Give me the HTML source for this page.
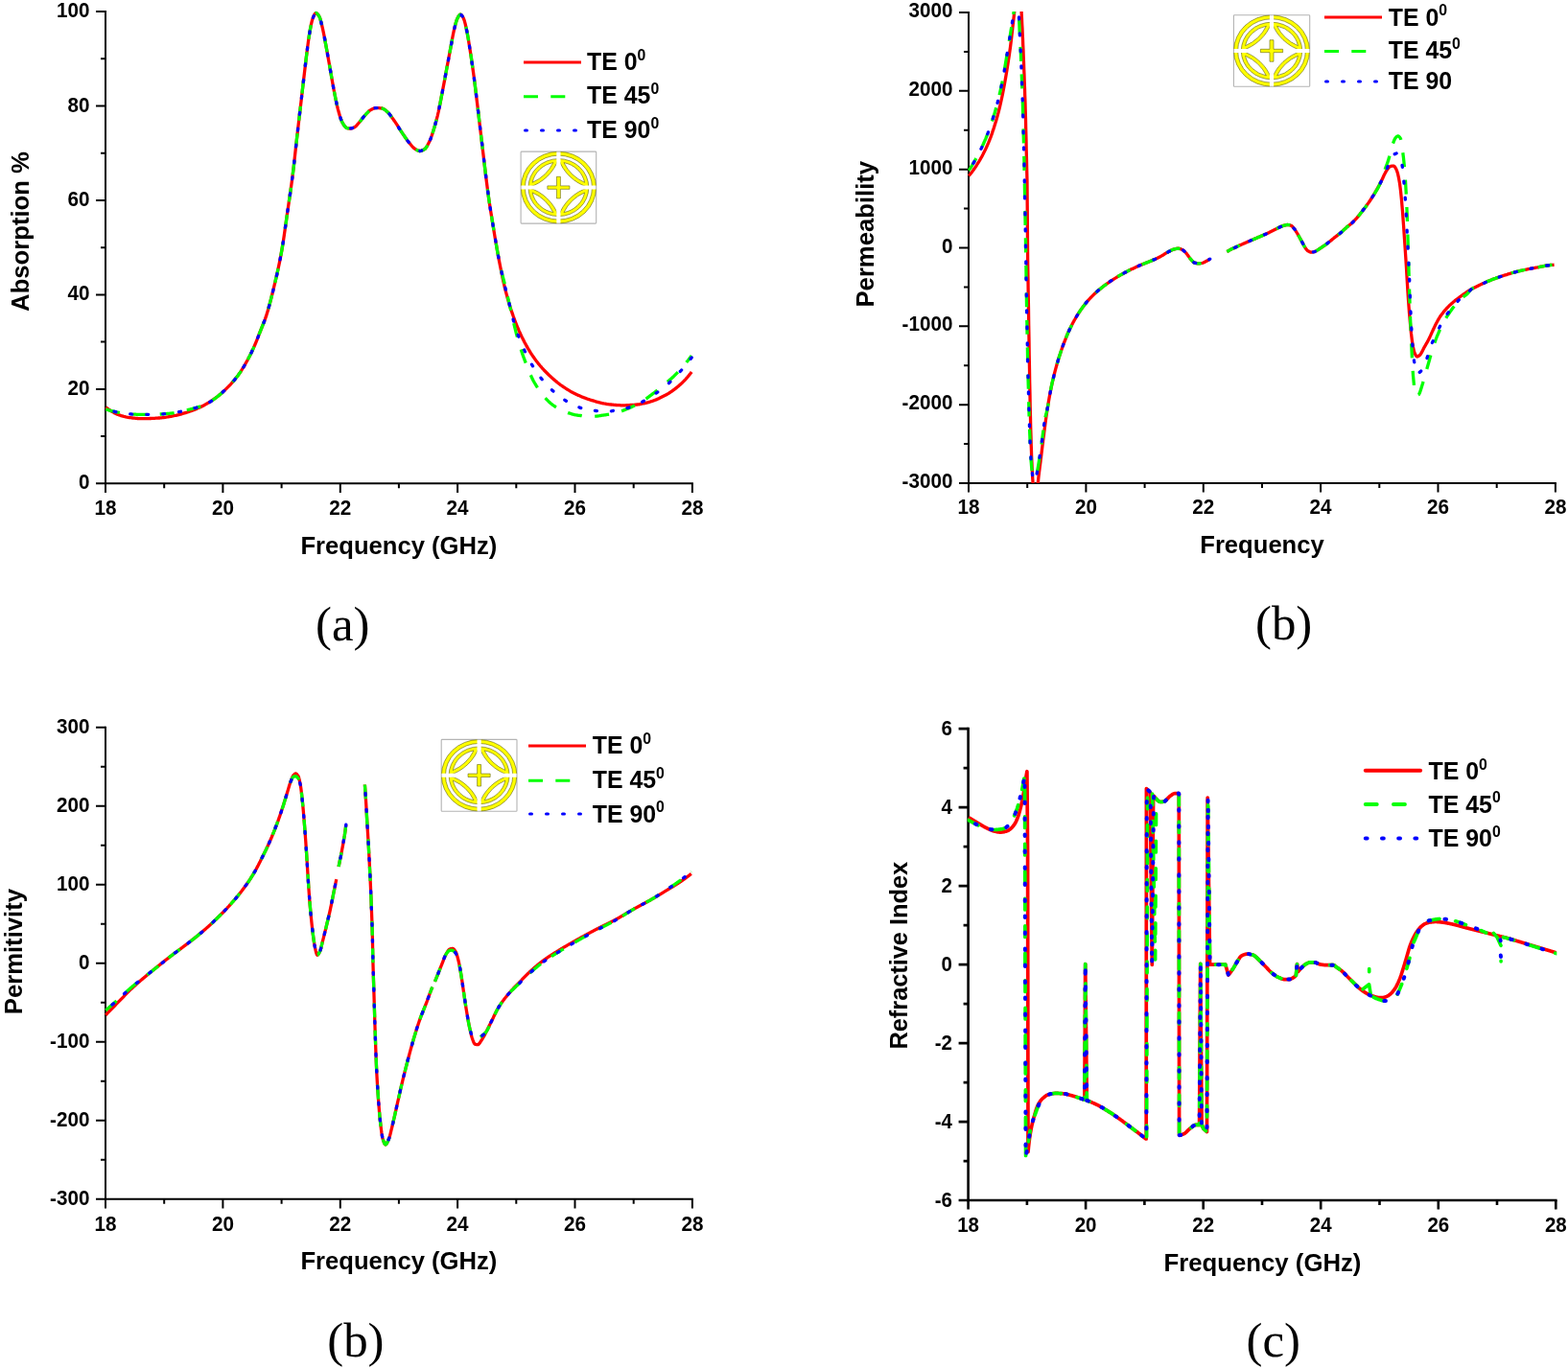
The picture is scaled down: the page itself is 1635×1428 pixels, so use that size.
<!DOCTYPE html>
<html lang="en"><head><meta charset="utf-8"><title>Figure</title>
<style>html,body{margin:0;padding:0;background:#fff;overflow:hidden}svg{display:block}</style></head><body>
<svg width="1635" height="1428" viewBox="0 0 1635 1428">
<rect width="1635" height="1428" fill="#fff"/>
<g id="panel-a">
<path d="M110 11.1V504.3H722.9" fill="none" stroke="#000" stroke-width="2.0"/>
<path d="M110 504.3v9.6M171.2 504.3v5M232.4 504.3v9.6M293.6 504.3v5M354.8 504.3v9.6M415.9 504.3v5M477.1 504.3v9.6M538.3 504.3v5M599.5 504.3v9.6M660.7 504.3v5M721.9 504.3v9.6M110 504.3h-10M110 455.1h-5M110 405.9h-10M110 356.6h-5M110 307.4h-10M110 258.2h-5M110 209h-10M110 159.8h-5M110 110.5h-10M110 61.3h-5M110 12.1h-10" fill="none" stroke="#000" stroke-width="2.0"/>
<g font-family='"Liberation Sans", Arial, Helvetica, sans-serif' font-weight="700" font-size="22.6" fill="#000">
<g text-anchor="middle">
<text transform="translate(110 536.5) scale(0.915 1)">18</text>
<text transform="translate(232.4 536.5) scale(0.915 1)">20</text>
<text transform="translate(354.8 536.5) scale(0.915 1)">22</text>
<text transform="translate(477.1 536.5) scale(0.915 1)">24</text>
<text transform="translate(599.5 536.5) scale(0.915 1)">26</text>
<text transform="translate(721.9 536.5) scale(0.915 1)">28</text>
</g><g text-anchor="end">
<text transform="translate(93.4 510.3) scale(0.915 1)">0</text>
<text transform="translate(93.4 411.9) scale(0.915 1)">20</text>
<text transform="translate(93.4 313.4) scale(0.915 1)">40</text>
<text transform="translate(93.4 215) scale(0.915 1)">60</text>
<text transform="translate(93.4 116.5) scale(0.915 1)">80</text>
<text transform="translate(93.4 18.1) scale(0.915 1)">100</text>
</g></g>
<g font-family='"Liberation Sans", Arial, Helvetica, sans-serif' font-weight="700" fill="#000" text-anchor="middle">
<text transform="translate(415.9 577.5) scale(0.985 1)" font-size="26">Frequency (GHz)</text>
<text transform="translate(30.1 241.5) rotate(-90) scale(0.965 1)" font-size="26.6">Absorption %</text>
</g>
<text transform="translate(357.3 667.7) scale(1.014 1)" font-family='"Liberation Serif", "Times New Roman", serif' font-size="50.2" text-anchor="middle" fill="#000">(a)</text>
<path d="M110.3 424.7L111.3 425.5L112.3 426.2L113.3 427L114.3 427.7L115.3 428.4L116.3 429L117.3 429.6L118.3 430.2L119.3 430.8L120.3 431.3L121.3 431.7L122.3 432.1L123.3 432.5L124.3 432.9L125.3 433.2L126.3 433.6L127.3 433.9L128.3 434.2L129.3 434.5L130.3 434.7L131.3 435L132.3 435.2L133.3 435.3L134.3 435.5L135.3 435.6L136.3 435.7L137.3 435.9L138.3 436L139.3 436.1L140.3 436.2L141.3 436.3L142.3 436.4L143.3 436.5L144.3 436.6L145.3 436.6L146.3 436.7L147.3 436.7L148.3 436.7L149.3 436.7L150.3 436.7L151.3 436.7L152.3 436.7L153.3 436.6L154.3 436.6L155.3 436.6L156.3 436.5L157.3 436.5L158.3 436.4L159.3 436.4L160.3 436.3L161.3 436.3L162.3 436.2L163.3 436.2L164.3 436.1L165.3 436L166.3 436L167.3 435.9L168.3 435.8L169.3 435.7L170.3 435.6L171.3 435.5L172.3 435.3L173.3 435.2L174.3 435L175.3 434.8L176.3 434.6L177.3 434.5L178.3 434.3L179.3 434.1L180.3 433.9L181.3 433.7L182.3 433.5L183.3 433.3L184.3 433.1L185.3 432.8L186.3 432.6L187.3 432.3L188.3 432.1L189.3 431.8L190.3 431.5L191.3 431.2L192.3 430.9L193.3 430.6L194.3 430.3L195.3 430L196.3 429.6L197.3 429.3L198.3 428.9L199.3 428.6L200.3 428.2L201.3 427.9L202.3 427.5L203.3 427.1L204.3 426.7L205.3 426.2L206.3 425.8L207.3 425.3L208.3 424.9L209.3 424.4L210.3 423.9L211.3 423.4L212.3 422.9L213.3 422.4L214.3 421.8L215.3 421.3L216.3 420.7L217.3 420.1L218.3 419.5L219.3 418.9L220.3 418.2L221.3 417.6L222.3 416.9L223.3 416.2L224.3 415.5L225.3 414.7L226.3 414L227.3 413.2L228.3 412.4L229.3 411.6L230.3 410.8L231.3 409.9L232.3 409L233.3 408.1L234.3 407.2L235.3 406.2L236.3 405.2L237.3 404.2L238.3 403.2L239.3 402.1L240.3 401.1L241.3 400L242.3 398.8L243.3 397.7L244.3 396.5L245.3 395.3L246.3 394L247.3 392.7L248.3 391.4L249.3 390L250.3 388.6L251.3 387.1L252.3 385.5L253.3 383.9L254.3 382.3L255.3 380.6L256.3 378.8L257.3 377L258.3 375.2L259.3 373.3L260.3 371.4L261.3 369.4L262.3 367.4L263.3 365.2L264.3 363.1L265.3 360.8L266.3 358.5L267.3 356.1L268.3 353.6L269.3 351L270.3 348.4L271.3 345.8L272.3 343.3L273.3 340.8L274.3 338.4L275.3 336L276.3 333.3L277.3 330.4L278.3 327.2L279.3 323.9L280.3 320.4L281.3 316.7L282.3 312.9L283.3 309L284.3 305L285.3 300.9L286.3 296.7L287.3 292.5L288.3 288.2L289.3 283.8L290.3 279.2L291.3 274.4L292.3 269.4L293.3 264.1L294.3 258.4L295.3 252.2L296.3 245.5L297.3 238.5L298.3 231.4L299.3 224.3L300.3 217.4L301.3 210.6L302.3 203.7L303.3 196.7L304.3 189.5L305.3 181.8L306.3 173.5L307.3 164.4L308.3 155.3L309.3 146.4L310.3 137.6L311.3 128.9L312.3 120.2L313.3 111.7L314.3 103.1L315.3 94.4L316.3 85.8L317.3 77.2L318.3 68.7L319.3 60.3L320.3 52.3L321.3 44.6L322.3 37.4L323.3 31.4L324.3 26.2L325.3 21.8L326.3 18.7L327.3 16.3L328.3 14.4L329.3 13.5L330.3 13.8L331.3 14.8L332.3 16.2L333.3 18L334.3 21.1L335.3 25L336.3 29.2L337.3 33.8L338.3 38.9L339.3 44.4L340.3 49.8L341.3 55.3L342.3 60.9L343.3 66.5L344.3 72.2L345.3 78L346.3 83.8L347.3 89.4L348.3 94.7L349.3 99.8L350.3 104.8L351.3 109.5L352.3 113.6L353.3 117.3L354.3 120.7L355.3 123.8L356.3 126.4L357.3 128.3L358.3 130L359.3 131.5L360.3 132.6L361.3 133.3L362.3 133.6L363.3 133.8L364.3 134L365.3 134L366.3 133.9L367.3 133.6L368.3 133.3L369.3 132.9L370.3 132.3L371.3 131.4L372.3 130.3L373.3 129.1L374.3 128L375.3 126.8L376.3 125.6L377.3 124.3L378.3 123L379.3 121.7L380.3 120.6L381.3 119.5L382.3 118.3L383.3 117.3L384.3 116.3L385.3 115.4L386.3 114.8L387.3 114.2L388.3 113.7L389.3 113.3L390.3 112.9L391.3 112.7L392.3 112.6L393.3 112.6L394.3 112.7L395.3 112.7L396.3 112.8L397.3 112.9L398.3 113L399.3 113.3L400.3 113.9L401.3 114.5L402.3 115.3L403.3 116.2L404.3 117L405.3 118L406.3 119.2L407.3 120.6L408.3 122L409.3 123.4L410.3 124.8L411.3 126.2L412.3 127.7L413.3 129.2L414.3 130.7L415.3 132.3L416.2 133.8L417.2 135.3L418.2 136.8L419.2 138.4L420.2 139.9L421.2 141.3L422.2 142.8L423.2 144.2L424.2 145.7L425.2 147.1L426.2 148.4L427.2 149.6L428.2 150.8L429.2 152L430.2 153.1L431.2 154.1L432.2 154.9L433.2 155.6L434.2 156.2L435.2 156.8L436.2 157.2L437.2 157.5L438.2 157.5L439.2 157.3L440.2 156.9L441.2 156.5L442.2 155.9L443.2 155.3L444.2 154.2L445.2 152.7L446.2 150.8L447.2 148.8L448.2 146.8L449.2 144.3L450.2 141.5L451.2 138.4L452.2 135.2L453.2 131.9L454.2 128.4L455.2 124.7L456.2 120.8L457.2 116.5L458.2 111.7L459.2 106.6L460.2 101.4L461.2 96.2L462.2 90.9L463.2 85.6L464.2 80.2L465.2 74.8L466.2 69.4L467.2 64.1L468.2 58.7L469.2 53.4L470.2 48.1L471.2 42.6L472.2 37.2L473.2 32.3L474.2 28.2L475.2 24.2L476.2 20.9L477.2 18.7L478.2 16.9L479.2 15.6L480.2 15.1L481.2 15.7L482.2 17L483.2 18.8L484.2 21.3L485.2 25.1L486.2 29.7L487.2 34.5L488.2 40L489.2 46.2L490.2 52.6L491.2 59.1L492.2 65.9L493.2 73L494.2 80.3L495.2 88.1L496.2 96.2L497.2 104.5L498.2 112.8L499.2 121.2L500.2 129.7L501.2 138.1L502.2 146.5L503.2 154.9L504.2 163.3L505.2 171.8L506.2 180.2L507.2 188.3L508.2 196.1L509.2 203.7L510.2 210.7L511.2 217.2L512.2 223.5L513.2 229.7L514.2 235.8L515.2 241.9L516.2 247.9L517.2 253.7L518.2 259.5L519.2 265.2L520.2 270.6L521.2 275.8L522.2 280.8L523.2 285.8L524.2 290.5L525.2 295L526.2 299.3L527.2 303.3L528.2 307.2L529.2 310.8L530.2 314.3L531.2 317.7L532.2 320.9L533.2 324L534.2 326.9L535.2 329.8L536.2 332.5L537.2 335.2L538.2 337.8L539.2 340.3L540.2 342.7L541.2 345.1L542.2 347.3L543.2 349.5L544.2 351.6L545.2 353.6L546.2 355.6L547.2 357.5L548.2 359.3L549.2 361.1L550.2 362.9L551.2 364.5L552.2 366.2L553.2 367.8L554.2 369.3L555.2 370.8L556.2 372.3L557.2 373.7L558.2 375.1L559.2 376.5L560.2 377.8L561.2 379.1L562.2 380.3L563.2 381.5L564.2 382.6L565.2 383.8L566.2 384.9L567.2 386L568.2 387L569.2 388L570.2 389L571.2 390L572.2 391L573.2 391.9L574.2 392.8L575.2 393.8L576.2 394.7L577.2 395.6L578.2 396.4L579.2 397.3L580.2 398.1L581.2 399L582.2 399.7L583.2 400.5L584.2 401.3L585.2 402L586.2 402.7L587.2 403.4L588.2 404L589.2 404.7L590.2 405.3L591.2 406L592.2 406.6L593.2 407.2L594.2 407.8L595.2 408.4L596.2 408.9L597.2 409.5L598.2 410L599.2 410.5L600.2 411L601.2 411.5L602.2 411.9L603.2 412.4L604.2 412.8L605.2 413.2L606.2 413.7L607.2 414.1L608.2 414.5L609.2 414.9L610.2 415.2L611.2 415.6L612.2 416L613.2 416.3L614.2 416.7L615.2 417L616.2 417.3L617.2 417.6L618.2 417.9L619.2 418.2L620.2 418.5L621.2 418.8L622.2 419.1L623.2 419.3L624.2 419.6L625.2 419.9L626.2 420.1L627.2 420.4L628.2 420.6L629.2 420.8L630.2 421L631.2 421.2L632.2 421.4L633.2 421.6L634.2 421.7L635.2 421.8L636.2 421.9L637.2 422L638.2 422.1L639.2 422.2L640.2 422.3L641.2 422.4L642.2 422.5L643.2 422.6L644.2 422.6L645.2 422.7L646.2 422.7L647.2 422.8L648.2 422.8L649.2 422.8L650.2 422.8L651.2 422.8L652.2 422.8L653.2 422.7L654.2 422.7L655.2 422.6L656.2 422.6L657.2 422.5L658.2 422.5L659.2 422.4L660.2 422.3L661.2 422.3L662.2 422.2L663.2 422.1L664.2 422L665.2 421.9L666.2 421.8L667.2 421.6L668.2 421.4L669.2 421.2L670.2 421L671.2 420.8L672.2 420.6L673.2 420.3L674.2 420.1L675.2 419.8L676.2 419.6L677.2 419.3L678.2 419L679.2 418.7L680.2 418.4L681.2 418L682.2 417.7L683.2 417.3L684.2 416.9L685.2 416.4L686.2 416L687.2 415.6L688.2 415.1L689.2 414.6L690.2 414.1L691.2 413.6L692.2 413.1L693.2 412.6L694.2 412.1L695.2 411.5L696.2 410.9L697.2 410.3L698.2 409.6L699.2 409L700.2 408.3L701.2 407.6L702.2 406.9L703.2 406.2L704.2 405.4L705.2 404.6L706.2 403.8L707.2 403L708.2 402.1L709.2 401.2L710.2 400.3L711.2 399.4L712.2 398.4L713.2 397.4L714.2 396.3L715.2 395.3L716.2 394.1L717.2 393L718.2 391.8L719.2 390.5L720.2 389.3L721.2 388" fill="none" stroke="#ff0000" stroke-width="3.3" stroke-linecap="butt" stroke-linejoin="round"/>
<path d="M110.3 426.9L111.3 427.2L112.3 427.5L113.3 427.8L114.3 428.1L115.3 428.3L116.3 428.6L117.3 428.9L118.3 429.1L119.3 429.3L120.3 429.6L121.3 429.8L122.3 430L123.3 430.2L124.3 430.3L125.3 430.5L126.3 430.6L127.3 430.8L128.3 430.9L129.3 431L130.3 431.2L131.3 431.3L132.3 431.4L133.3 431.6L134.3 431.7L135.3 431.8L136.3 431.9L137.3 432L138.3 432.1L139.3 432.1L140.3 432.2L141.3 432.2L142.3 432.3L143.3 432.3L144.3 432.3L145.3 432.3L146.3 432.3L147.3 432.3L148.3 432.3L149.3 432.3L150.3 432.3L151.3 432.3L152.3 432.3L153.3 432.3L154.3 432.3L155.3 432.3L156.3 432.3L157.3 432.3L158.3 432.3L159.3 432.3L160.3 432.3L161.3 432.3L162.3 432.3L163.3 432.2L164.3 432.2L165.3 432.2L166.3 432.1L167.3 432L168.3 432L169.3 431.9L170.3 431.8L171.3 431.7L172.3 431.7L173.3 431.6L174.3 431.5L175.3 431.4L176.3 431.3L177.3 431.2L178.3 431.1L179.3 431L180.3 430.8L181.3 430.7L182.3 430.5L183.3 430.3L184.3 430.1L185.3 429.9L186.3 429.7L187.3 429.5L188.3 429.3L189.3 429.1L190.3 428.9L191.3 428.6L192.3 428.4L193.3 428.2L194.3 427.9L195.3 427.7L196.3 427.5L197.3 427.2L198.3 427L199.3 426.7L200.3 426.5L201.3 426.2L202.3 425.9L203.3 425.6L204.3 425.4L205.3 425.1L206.3 424.7L207.3 424.4L208.3 424.1L209.3 423.7L210.3 423.4L211.3 423L212.3 422.6L213.3 422.2L214.3 421.8L215.3 421.3L216.3 420.8L217.3 420.3L218.3 419.7L219.3 419.1L220.3 418.4L221.3 417.7L222.3 417L223.3 416.3L224.3 415.5L225.3 414.8L226.3 414L227.3 413.2L228.3 412.4L229.3 411.6L230.3 410.8L231.3 409.9L232.3 409L233.3 408.1L234.3 407.2L235.3 406.2L236.3 405.2L237.3 404.2L238.3 403.2L239.3 402.1L240.3 401.1L241.3 400L242.3 398.8L243.3 397.7L244.3 396.5L245.3 395.3L246.3 394L247.3 392.7L248.3 391.4L249.3 390L250.3 388.6L251.3 387.1L252.3 385.5L253.3 383.9L254.3 382.3L255.3 380.6L256.3 378.8L257.3 377L258.3 375.2L259.3 373.3L260.3 371.4L261.3 369.4L262.3 367.4L263.3 365.2L264.3 363.1L265.3 360.8L266.3 358.5L267.3 356.1L268.3 353.6L269.3 351L270.3 348.4L271.3 345.8L272.3 343.3L273.3 340.8L274.3 338.4L275.3 336L276.3 333.3L277.3 330.4L278.3 327.2L279.3 323.9L280.3 320.4L281.3 316.7L282.3 312.9L283.3 309L284.3 305L285.3 300.9L286.3 296.7L287.3 292.5L288.3 288.2L289.3 283.8L290.3 279.2L291.3 274.4L292.3 269.4L293.3 264.1L294.3 258.4L295.3 252.2L296.3 245.5L297.3 238.5L298.3 231.4L299.3 224.3L300.3 217.4L301.3 210.6L302.3 203.7L303.3 196.7L304.3 189.5L305.3 181.8L306.3 173.5L307.3 164.4L308.3 155.3L309.3 146.4L310.3 137.6L311.3 128.9L312.3 120.2L313.3 111.7L314.3 103.1L315.3 94.4L316.3 85.8L317.3 77.2L318.3 68.7L319.3 60.3L320.3 52.3L321.3 44.6L322.3 37.4L323.3 31.4L324.3 26.2L325.3 21.8L326.3 18.7L327.3 16.3L328.3 14.4L329.3 13.5L330.3 13.8L331.3 14.8L332.3 16.2L333.3 18L334.3 21.1L335.3 25L336.3 29.2L337.3 33.8L338.3 38.9L339.3 44.4L340.3 49.8L341.3 55.3L342.3 60.9L343.3 66.5L344.3 72.2L345.3 78L346.3 83.8L347.3 89.4L348.3 94.7L349.3 99.8L350.3 104.8L351.3 109.5L352.3 113.6L353.3 117.3L354.3 120.7L355.3 123.8L356.3 126.4L357.3 128.3L358.3 130L359.3 131.5L360.3 132.6L361.3 133.3L362.3 133.6L363.3 133.8L364.3 134L365.3 134L366.3 133.9L367.3 133.6L368.3 133.3L369.3 132.9L370.3 132.3L371.3 131.4L372.3 130.3L373.3 129.1L374.3 128L375.3 126.8L376.3 125.6L377.3 124.3L378.3 123L379.3 121.7L380.3 120.6L381.3 119.5L382.3 118.3L383.3 117.3L384.3 116.3L385.3 115.4L386.3 114.8L387.3 114.2L388.3 113.7L389.3 113.3L390.3 112.9L391.3 112.7L392.3 112.6L393.3 112.6L394.3 112.7L395.3 112.7L396.3 112.8L397.3 112.9L398.3 113L399.3 113.3L400.3 113.9L401.3 114.5L402.3 115.3L403.3 116.2L404.3 117L405.3 118L406.3 119.2L407.3 120.6L408.3 122L409.3 123.4L410.3 124.8L411.3 126.2L412.3 127.7L413.3 129.2L414.3 130.7L415.3 132.3L416.2 133.8L417.2 135.3L418.2 136.8L419.2 138.4L420.2 139.9L421.2 141.3L422.2 142.8L423.2 144.2L424.2 145.7L425.2 147.1L426.2 148.4L427.2 149.6L428.2 150.8L429.2 152L430.2 153.1L431.2 154.1L432.2 154.9L433.2 155.6L434.2 156.2L435.2 156.8L436.2 157.2L437.2 157.5L438.2 157.5L439.2 157.3L440.2 156.9L441.2 156.5L442.2 155.9L443.2 155.3L444.2 154.2L445.2 152.7L446.2 150.8L447.2 148.8L448.2 146.8L449.2 144.3L450.2 141.5L451.2 138.4L452.2 135.2L453.2 131.9L454.2 128.4L455.2 124.7L456.2 120.8L457.2 116.5L458.2 111.7L459.2 106.6L460.2 101.4L461.2 96.2L462.2 90.9L463.2 85.6L464.2 80.2L465.2 74.8L466.2 69.4L467.2 64.1L468.2 58.7L469.2 53.4L470.2 48.1L471.2 42.6L472.2 37.2L473.2 32.3L474.2 28.2L475.2 24.2L476.2 20.9L477.2 18.7L478.2 16.9L479.2 15.6L480.2 15.1L481.2 15.7L482.2 17L483.2 18.8L484.2 21.3L485.2 25.1L486.2 29.7L487.2 34.5L488.2 40L489.2 46.2L490.2 52.6L491.2 59.1L492.2 65.9L493.2 73L494.2 80.3L495.2 88.1L496.2 96.2L497.2 104.5L498.2 112.8L499.2 121.2L500.2 129.7L501.2 138.1L502.2 146.5L503.2 154.9L504.2 163.3L505.2 171.8L506.2 180.2L507.2 188.3L508.2 196.1L509.2 203.7L510.2 210.7L511.2 217.2L512.2 223.5L513.2 229.7L514.2 235.8L515.2 241.9L516.2 247.9L517.2 253.7L518.2 259.6L519.2 265.3L520.2 270.6L521.2 275.5L522.2 280L523.2 284.1L524.2 288.1L525.2 291.9L526.2 295.9L527.2 300.1L528.2 304.4L529.2 308.7L530.2 313.1L531.2 317.4L532.2 321.7L533.2 326L534.2 330.5L535.2 334.8L536.2 339.1L537.2 343.2L538.2 347.2L539.2 350.8L540.2 354.4L541.2 357.8L542.2 361.1L543.2 364.3L544.2 367.4L545.2 370.4L546.2 373.2L547.2 375.9L548.2 378.6L549.2 381.2L550.2 383.7L551.2 386.2L552.2 388.6L553.2 390.9L554.2 393.1L555.2 395.2L556.2 397.2L557.2 399L558.2 400.7L559.2 402.3L560.2 403.9L561.2 405.4L562.2 406.8L563.2 408.2L564.2 409.6L565.2 410.9L566.2 412.2L567.2 413.5L568.2 414.6L569.2 415.8L570.2 416.9L571.2 417.9L572.2 418.9L573.2 419.8L574.2 420.7L575.2 421.5L576.2 422.3L577.2 423L578.2 423.7L579.2 424.4L580.2 425L581.2 425.6L582.2 426.2L583.2 426.8L584.2 427.3L585.2 427.8L586.2 428.3L587.2 428.7L588.2 429.1L589.2 429.5L590.2 429.9L591.2 430.2L592.2 430.6L593.2 430.9L594.2 431.2L595.2 431.5L596.2 431.8L597.2 432.1L598.2 432.3L599.2 432.6L600.2 432.8L601.2 433L602.2 433.1L603.2 433.3L604.2 433.4L605.2 433.5L606.2 433.6L607.2 433.8L608.2 433.9L609.2 434L610.2 434.1L611.2 434.2L612.2 434.2L613.2 434.3L614.2 434.3L615.2 434.4L616.2 434.4L617.2 434.4L618.2 434.4L619.2 434.3L620.2 434.3L621.2 434.2L622.2 434.1L623.2 434L624.2 433.8L625.2 433.7L626.2 433.5L627.2 433.4L628.2 433.2L629.2 433.1L630.2 432.9L631.2 432.8L632.2 432.6L633.2 432.4L634.2 432.3L635.2 432.1L636.2 431.9L637.2 431.7L638.2 431.5L639.2 431.2L640.2 431L641.2 430.8L642.2 430.5L643.2 430.3L644.2 430L645.2 429.7L646.2 429.4L647.2 429.1L648.2 428.8L649.2 428.4L650.2 428L651.2 427.6L652.2 427.2L653.2 426.8L654.2 426.4L655.2 426L656.2 425.6L657.2 425.1L658.2 424.7L659.2 424.2L660.2 423.8L661.2 423.3L662.2 422.8L663.2 422.3L664.2 421.8L665.2 421.3L666.2 420.8L667.2 420.2L668.2 419.6L669.2 419.1L670.2 418.4L671.2 417.8L672.2 417.1L673.2 416.4L674.2 415.7L675.2 414.9L676.2 414.2L677.2 413.4L678.2 412.6L679.2 411.9L680.2 411.1L681.2 410.3L682.2 409.6L683.2 408.8L684.2 408L685.2 407.2L686.2 406.4L687.2 405.6L688.2 404.7L689.2 403.9L690.2 403.1L691.2 402.2L692.2 401.4L693.2 400.6L694.2 399.8L695.2 398.9L696.2 398.1L697.2 397.3L698.2 396.4L699.2 395.6L700.2 394.7L701.2 393.8L702.2 392.9L703.2 391.9L704.2 390.9L705.2 389.9L706.2 388.9L707.2 387.8L708.2 386.7L709.2 385.6L710.2 384.5L711.2 383.4L712.2 382.2L713.2 381.1L714.2 379.9L715.2 378.7L716.2 377.4L717.2 376.2L718.2 374.9L719.2 373.6L720.2 372.3L721.2 371" fill="none" stroke="#00ff00" stroke-width="3.3" stroke-linecap="butt" stroke-linejoin="round" stroke-dasharray="15 13.5"/>
<path d="M110.3 426.9L111.3 427.2L112.3 427.5L113.3 427.8L114.3 428.1L115.3 428.3L116.3 428.6L117.3 428.9L118.3 429.1L119.3 429.3L120.3 429.6L121.3 429.8L122.3 430L123.3 430.2L124.3 430.3L125.3 430.5L126.3 430.6L127.3 430.8L128.3 430.9L129.3 431L130.3 431.2L131.3 431.3L132.3 431.4L133.3 431.6L134.3 431.7L135.3 431.8L136.3 431.9L137.3 432L138.3 432.1L139.3 432.1L140.3 432.2L141.3 432.2L142.3 432.3L143.3 432.3L144.3 432.3L145.3 432.3L146.3 432.3L147.3 432.3L148.3 432.3L149.3 432.3L150.3 432.3L151.3 432.3L152.3 432.3L153.3 432.3L154.3 432.3L155.3 432.3L156.3 432.3L157.3 432.3L158.3 432.3L159.3 432.3L160.3 432.3L161.3 432.3L162.3 432.3L163.3 432.2L164.3 432.2L165.3 432.2L166.3 432.1L167.3 432L168.3 432L169.3 431.9L170.3 431.8L171.3 431.7L172.3 431.7L173.3 431.6L174.3 431.5L175.3 431.4L176.3 431.3L177.3 431.2L178.3 431.1L179.3 431L180.3 430.8L181.3 430.7L182.3 430.5L183.3 430.3L184.3 430.1L185.3 429.9L186.3 429.7L187.3 429.5L188.3 429.3L189.3 429.1L190.3 428.9L191.3 428.6L192.3 428.4L193.3 428.2L194.3 427.9L195.3 427.7L196.3 427.5L197.3 427.2L198.3 427L199.3 426.7L200.3 426.5L201.3 426.2L202.3 425.9L203.3 425.6L204.3 425.4L205.3 425.1L206.3 424.7L207.3 424.4L208.3 424.1L209.3 423.7L210.3 423.4L211.3 423L212.3 422.6L213.3 422.2L214.3 421.8L215.3 421.3L216.3 420.8L217.3 420.3L218.3 419.7L219.3 419.1L220.3 418.4L221.3 417.7L222.3 417L223.3 416.3L224.3 415.5L225.3 414.8L226.3 414L227.3 413.2L228.3 412.4L229.3 411.6L230.3 410.8L231.3 409.9L232.3 409L233.3 408.1L234.3 407.2L235.3 406.2L236.3 405.2L237.3 404.2L238.3 403.2L239.3 402.1L240.3 401.1L241.3 400L242.3 398.8L243.3 397.7L244.3 396.5L245.3 395.3L246.3 394L247.3 392.7L248.3 391.4L249.3 390L250.3 388.6L251.3 387.1L252.3 385.5L253.3 383.9L254.3 382.3L255.3 380.6L256.3 378.8L257.3 377L258.3 375.2L259.3 373.3L260.3 371.4L261.3 369.4L262.3 367.4L263.3 365.2L264.3 363.1L265.3 360.8L266.3 358.5L267.3 356.1L268.3 353.6L269.3 351L270.3 348.4L271.3 345.8L272.3 343.3L273.3 340.8L274.3 338.4L275.3 336L276.3 333.3L277.3 330.4L278.3 327.2L279.3 323.9L280.3 320.4L281.3 316.7L282.3 312.9L283.3 309L284.3 305L285.3 300.9L286.3 296.7L287.3 292.5L288.3 288.2L289.3 283.8L290.3 279.2L291.3 274.4L292.3 269.4L293.3 264.1L294.3 258.4L295.3 252.2L296.3 245.5L297.3 238.5L298.3 231.4L299.3 224.3L300.3 217.4L301.3 210.6L302.3 203.7L303.3 196.7L304.3 189.5L305.3 181.8L306.3 173.5L307.3 164.4L308.3 155.3L309.3 146.4L310.3 137.6L311.3 128.9L312.3 120.2L313.3 111.7L314.3 103.1L315.3 94.4L316.3 85.8L317.3 77.2L318.3 68.7L319.3 60.3L320.3 52.3L321.3 44.6L322.3 37.4L323.3 31.4L324.3 26.2L325.3 21.8L326.3 18.7L327.3 16.3L328.3 14.4L329.3 13.5L330.3 13.8L331.3 14.8L332.3 16.2L333.3 18L334.3 21.1L335.3 25L336.3 29.2L337.3 33.8L338.3 38.9L339.3 44.4L340.3 49.8L341.3 55.3L342.3 60.9L343.3 66.5L344.3 72.2L345.3 78L346.3 83.8L347.3 89.4L348.3 94.7L349.3 99.8L350.3 104.8L351.3 109.5L352.3 113.6L353.3 117.3L354.3 120.7L355.3 123.8L356.3 126.4L357.3 128.3L358.3 130L359.3 131.5L360.3 132.6L361.3 133.3L362.3 133.6L363.3 133.8L364.3 134L365.3 134L366.3 133.9L367.3 133.6L368.3 133.3L369.3 132.9L370.3 132.3L371.3 131.4L372.3 130.3L373.3 129.1L374.3 128L375.3 126.8L376.3 125.6L377.3 124.3L378.3 123L379.3 121.7L380.3 120.6L381.3 119.5L382.3 118.3L383.3 117.3L384.3 116.3L385.3 115.4L386.3 114.8L387.3 114.2L388.3 113.7L389.3 113.3L390.3 112.9L391.3 112.7L392.3 112.6L393.3 112.6L394.3 112.7L395.3 112.7L396.3 112.8L397.3 112.9L398.3 113L399.3 113.3L400.3 113.9L401.3 114.5L402.3 115.3L403.3 116.2L404.3 117L405.3 118L406.3 119.2L407.3 120.6L408.3 122L409.3 123.4L410.3 124.8L411.3 126.2L412.3 127.7L413.3 129.2L414.3 130.7L415.3 132.3L416.2 133.8L417.2 135.3L418.2 136.8L419.2 138.4L420.2 139.9L421.2 141.3L422.2 142.8L423.2 144.2L424.2 145.7L425.2 147.1L426.2 148.4L427.2 149.6L428.2 150.8L429.2 152L430.2 153.1L431.2 154.1L432.2 154.9L433.2 155.6L434.2 156.2L435.2 156.8L436.2 157.2L437.2 157.5L438.2 157.5L439.2 157.3L440.2 156.9L441.2 156.5L442.2 155.9L443.2 155.3L444.2 154.2L445.2 152.7L446.2 150.8L447.2 148.8L448.2 146.8L449.2 144.3L450.2 141.5L451.2 138.4L452.2 135.2L453.2 131.9L454.2 128.4L455.2 124.7L456.2 120.8L457.2 116.5L458.2 111.7L459.2 106.6L460.2 101.4L461.2 96.2L462.2 90.9L463.2 85.6L464.2 80.2L465.2 74.8L466.2 69.4L467.2 64.1L468.2 58.7L469.2 53.4L470.2 48.1L471.2 42.6L472.2 37.2L473.2 32.3L474.2 28.2L475.2 24.2L476.2 20.9L477.2 18.7L478.2 16.9L479.2 15.6L480.2 15.1L481.2 15.7L482.2 17L483.2 18.8L484.2 21.3L485.2 25.1L486.2 29.7L487.2 34.5L488.2 40L489.2 46.2L490.2 52.6L491.2 59.1L492.2 65.9L493.2 73L494.2 80.3L495.2 88.1L496.2 96.2L497.2 104.5L498.2 112.8L499.2 121.2L500.2 129.7L501.2 138.1L502.2 146.5L503.2 154.9L504.2 163.3L505.2 171.8L506.2 180.2L507.2 188.3L508.2 196.1L509.2 203.7L510.2 210.7L511.2 217.2L512.2 223.5L513.2 229.7L514.2 235.8L515.2 241.9L516.2 247.9L517.2 253.7L518.2 259.6L519.2 265.3L520.2 270.6L521.2 275.5L522.2 280L523.2 284.5L524.2 288.9L525.2 293.2L526.2 297.4L527.2 301.5L528.2 305.6L529.2 309.6L530.2 313.5L531.2 317.4L532.2 321.4L533.2 325.4L534.2 329.5L535.2 333.5L536.2 337.3L537.2 340.8L538.2 344L539.2 346.9L540.2 349.6L541.2 352.2L542.2 354.6L543.2 357L544.2 359.3L545.2 361.7L546.2 363.9L547.2 366.2L548.2 368.3L549.2 370.4L550.2 372.5L551.2 374.4L552.2 376.2L553.2 378L554.2 379.7L555.2 381.3L556.2 382.9L557.2 384.5L558.2 386L559.2 387.5L560.2 388.9L561.2 390.3L562.2 391.8L563.2 393.1L564.2 394.5L565.2 395.8L566.2 397.1L567.2 398.3L568.2 399.5L569.2 400.6L570.2 401.7L571.2 402.7L572.2 403.7L573.2 404.7L574.2 405.6L575.2 406.5L576.2 407.4L577.2 408.3L578.2 409.1L579.2 410L580.2 410.8L581.2 411.5L582.2 412.3L583.2 413.1L584.2 413.8L585.2 414.6L586.2 415.3L587.2 416L588.2 416.7L589.2 417.5L590.2 418.1L591.2 418.8L592.2 419.5L593.2 420.1L594.2 420.7L595.2 421.2L596.2 421.7L597.2 422.2L598.2 422.7L599.2 423.1L600.2 423.5L601.2 423.9L602.2 424.3L603.2 424.7L604.2 425L605.2 425.4L606.2 425.7L607.2 426L608.2 426.3L609.2 426.6L610.2 426.9L611.2 427.1L612.2 427.3L613.2 427.5L614.2 427.6L615.2 427.8L616.2 427.9L617.2 428L618.2 428.2L619.2 428.3L620.2 428.4L621.2 428.5L622.2 428.6L623.2 428.7L624.2 428.8L625.2 428.9L626.2 428.9L627.2 429L628.2 429L629.2 429.1L630.2 429.1L631.2 429.1L632.2 429.1L633.2 429.1L634.2 429L635.2 429L636.2 428.9L637.2 428.8L638.2 428.7L639.2 428.5L640.2 428.4L641.2 428.2L642.2 428.1L643.2 427.9L644.2 427.7L645.2 427.6L646.2 427.4L647.2 427.2L648.2 427L649.2 426.8L650.2 426.6L651.2 426.4L652.2 426.2L653.2 425.9L654.2 425.6L655.2 425.3L656.2 425L657.2 424.6L658.2 424.3L659.2 423.9L660.2 423.6L661.2 423.2L662.2 422.8L663.2 422.4L664.2 422L665.2 421.5L666.2 421.1L667.2 420.5L668.2 420L669.2 419.5L670.2 418.9L671.2 418.3L672.2 417.7L673.2 417L674.2 416.4L675.2 415.8L676.2 415.1L677.2 414.5L678.2 413.8L679.2 413.2L680.2 412.6L681.2 412L682.2 411.3L683.2 410.7L684.2 410L685.2 409.4L686.2 408.7L687.2 408L688.2 407.3L689.2 406.6L690.2 405.9L691.2 405.1L692.2 404.3L693.2 403.5L694.2 402.7L695.2 401.8L696.2 400.9L697.2 400L698.2 399L699.2 398L700.2 397L701.2 396L702.2 395L703.2 394L704.2 393L705.2 392L706.2 390.9L707.2 389.8L708.2 388.7L709.2 387.6L710.2 386.5L711.2 385.3L712.2 384.2L713.2 383L714.2 381.8L715.2 380.6L716.2 379.4L717.2 378.1L718.2 376.9L719.2 375.6L720.2 374.3L721.2 373" fill="none" stroke="#0000ff" stroke-width="3.3" stroke-linecap="round" stroke-linejoin="round" stroke-dasharray="2 15" stroke-dashoffset="8"/>
</g>
<g id="panel-b">
<path d="M1010 12V504H1622.9" fill="none" stroke="#000" stroke-width="2.0"/>
<path d="M1010 504v9.6M1071.2 504v5M1132.4 504v9.6M1193.6 504v5M1254.8 504v9.6M1316 504v5M1377.1 504v9.6M1438.3 504v5M1499.5 504v9.6M1560.7 504v5M1621.9 504v9.6M1010 504h-10M1010 463.1h-5M1010 422.2h-10M1010 381.2h-5M1010 340.3h-10M1010 299.4h-5M1010 258.5h-10M1010 217.6h-5M1010 176.7h-10M1010 135.8h-5M1010 94.8h-10M1010 53.9h-5M1010 13h-10" fill="none" stroke="#000" stroke-width="2.0"/>
<g font-family='"Liberation Sans", Arial, Helvetica, sans-serif' font-weight="700" font-size="22.6" fill="#000">
<g text-anchor="middle">
<text transform="translate(1010 536.3) scale(0.915 1)">18</text>
<text transform="translate(1132.4 536.3) scale(0.915 1)">20</text>
<text transform="translate(1254.8 536.3) scale(0.915 1)">22</text>
<text transform="translate(1377.1 536.3) scale(0.915 1)">24</text>
<text transform="translate(1499.5 536.3) scale(0.915 1)">26</text>
<text transform="translate(1621.9 536.3) scale(0.915 1)">28</text>
</g><g text-anchor="end">
<text transform="translate(993.4 509) scale(0.915 1)">-3000</text>
<text transform="translate(993.4 427.2) scale(0.915 1)">-2000</text>
<text transform="translate(993.4 345.3) scale(0.915 1)">-1000</text>
<text transform="translate(993.4 263.5) scale(0.915 1)">0</text>
<text transform="translate(993.4 181.7) scale(0.915 1)">1000</text>
<text transform="translate(993.4 99.8) scale(0.915 1)">2000</text>
<text transform="translate(993.4 18) scale(0.915 1)">3000</text>
</g></g>
<g font-family='"Liberation Sans", Arial, Helvetica, sans-serif' font-weight="700" fill="#000" text-anchor="middle">
<text transform="translate(1316 577.2) scale(0.985 1)" font-size="26">Frequency</text>
<text transform="translate(910.9 244.2) rotate(-90) scale(0.965 1)" font-size="26.6">Permeability</text>
</g>
<text transform="translate(1338.6 667.4) scale(1.014 1)" font-family='"Liberation Serif", "Times New Roman", serif' font-size="50.2" text-anchor="middle" fill="#000">(b)</text>
<clipPath id="cb"><rect x="1009.0" y="12.0" width="613.9" height="492.0"/></clipPath>
<g clip-path="url(#cb)">
<path d="M1010.1 183.5L1010.6 182.9L1011.1 182.4L1011.6 181.8L1012.1 181.2L1012.6 180.5L1013.1 179.9L1013.6 179.3L1014.1 178.6L1014.6 177.9L1015.1 177.2L1015.6 176.5L1016.1 175.8L1016.6 175.1L1017.1 174.3L1017.6 173.6L1018.1 172.8L1018.6 172L1019.1 171.2L1019.6 170.4L1020.1 169.6L1020.6 168.8L1021.1 168L1021.6 167.1L1022.1 166.3L1022.6 165.4L1023.1 164.5L1023.6 163.6L1024.1 162.7L1024.6 161.7L1025.1 160.8L1025.6 159.8L1026.1 158.8L1026.6 157.8L1027.1 156.8L1027.6 155.7L1028.1 154.7L1028.6 153.6L1029.1 152.5L1029.6 151.4L1030.1 150.2L1030.6 149.1L1031.1 147.9L1031.6 146.7L1032.1 145.4L1032.6 144.2L1033.1 142.9L1033.6 141.5L1034.1 140.2L1034.6 138.8L1035 137.3L1035.5 135.9L1036 134.4L1036.5 132.9L1037 131.3L1037.5 129.7L1038 128.1L1038.5 126.5L1039 124.7L1039.5 123L1040 121.2L1040.5 119.3L1041 117.5L1041.5 115.5L1042 113.5L1042.5 111.5L1043 109.4L1043.5 107.2L1044 105L1044.5 102.7L1045 100.2L1045.5 97.8L1046 95.2L1046.5 92.6L1047 89.9L1047.5 87.2L1048 84.5L1048.5 81.6L1049 78.7L1049.5 75.7L1050 72.7L1050.5 69.5L1051 66.3L1051.5 63.1L1052 59.8L1052.5 56.4L1053 52.8L1053.5 49.2L1054 45.3L1054.5 41.2L1055 36.9L1055.5 32.4L1056 27.9L1056.5 23.6L1057 19.2L1057.5 14.5L1058 9.5L1058.5 4L1059 -1.8L1059.5 -8M1064.2 -8L1064.5 -2.1L1064.7 3.6L1065 9.3L1065.2 14.8L1065.5 20L1065.7 25.1L1066 30.2L1066.2 35.4L1066.5 40.9L1066.7 46.6L1067 52.6L1067.2 58.7L1067.5 65.1L1067.7 71.6L1068 78.4L1068.2 85.2L1068.5 92.2L1068.7 99.6L1069 107.3L1069.2 115.5L1069.5 124.5L1069.7 134.5L1070 145.3L1070.2 156.5L1070.5 167.2L1070.7 176.8L1071 189.3L1071.2 214.1L1071.5 254.4L1071.7 275.6L1072 291.9L1072.2 306.4L1072.5 322L1072.7 338.6L1073 354.9L1073.2 370.6L1073.5 385.2L1073.7 398.8L1074 411.9L1074.2 424.3L1074.5 435.6L1074.7 445.8L1075 455L1075.2 463.4L1075.5 471.1L1075.7 477.9L1076 483.9L1076.2 489.2L1076.5 494.1L1076.7 498.5L1077 502.7L1077.2 506.6L1077.5 510.4L1077.7 513.9L1078 517.1L1078.2 520M1081 520L1082 506.8L1083 497L1084 489L1085 481.3L1086 473L1087 464.8L1088 456.7L1089 449L1090 441.4L1091 434.1L1092 427.4L1093 421.3L1094 415.4L1095 410L1096 404.9L1097 400.2L1098 395.8L1099 391.6L1100 387.6L1101 383.9L1102 380.3L1103 376.9L1104 373.6L1105 370.4L1106 367.4L1107 364.4L1108 361.6L1109 358.9L1110 356.3L1111 353.8L1111.9 351.4L1112.9 349L1113.9 346.7L1114.9 344.5L1115.9 342.4L1116.9 340.4L1117.9 338.5L1118.9 336.6L1119.9 334.7L1120.9 333L1121.9 331.2L1122.9 329.5L1123.9 327.9L1124.9 326.3L1125.9 324.8L1126.9 323.3L1127.9 321.9L1128.9 320.6L1129.9 319.2L1130.9 317.9L1131.9 316.7L1132.9 315.4L1133.9 314.2L1134.9 313.1L1135.9 312L1136.9 310.9L1137.9 309.8L1138.9 308.8L1139.9 307.8L1140.9 306.8L1141.9 305.9L1142.9 305L1143.9 304.1L1144.9 303.2L1145.9 302.4L1146.9 301.6L1147.9 300.8L1148.9 300L1149.9 299.2L1150.9 298.4L1151.9 297.7L1152.9 296.9L1153.9 296.2L1154.9 295.5L1155.9 294.8L1156.9 294.1L1157.9 293.4L1158.9 292.7L1159.9 292.1L1160.9 291.4L1161.9 290.8L1162.9 290.2L1163.9 289.6L1164.9 288.9L1165.9 288.3L1166.9 287.8L1167.9 287.2L1168.9 286.6L1169.9 286L1170.9 285.5L1171.8 284.9L1172.8 284.4L1173.8 283.9L1174.8 283.4L1175.8 282.8L1176.8 282.3L1177.8 281.8L1178.8 281.3L1179.8 280.8L1180.8 280.4L1181.8 279.9L1182.8 279.4L1183.8 278.9L1184.8 278.5L1185.8 278L1186.8 277.6L1187.8 277.1L1188.8 276.7L1189.8 276.3L1190.8 275.9L1191.8 275.5L1192.8 275.1L1193.8 274.7L1194.8 274.3L1195.8 273.9L1196.8 273.5L1197.8 273.1L1198.8 272.7L1199.8 272.3L1200.8 271.9L1201.8 271.4L1202.8 271L1203.8 270.6L1204.8 270.2L1205.8 269.7L1206.8 269.3L1207.8 268.8L1208.8 268.3L1209.8 267.8L1210.8 267.2L1211.8 266.6L1212.8 266L1213.8 265.4L1214.8 264.7L1215.8 264.1L1216.8 263.6L1217.8 263L1218.8 262.5L1219.8 261.9L1220.8 261.3L1221.8 260.9L1222.8 260.4L1223.8 260.1L1224.8 259.8L1225.8 259.6L1226.8 259.4L1227.8 259.2L1228.8 259.2L1229.8 259.3L1230.8 259.6L1231.7 260L1232.7 260.4L1233.7 261.1L1234.7 261.9L1235.7 262.9L1236.7 263.9L1237.7 265.1L1238.7 266.5L1239.7 267.9L1240.7 269.3L1241.7 270.5L1242.7 271.7L1243.7 272.8L1244.7 273.7L1245.7 274.2L1246.7 274.4L1247.7 274.7L1248.7 274.8L1249.7 274.9L1250.7 274.9L1251.7 274.7L1252.7 274.5L1253.7 274.3L1254.7 274L1255.7 273.6L1256.7 273L1257.7 272.5L1258.7 271.9L1259.7 271.4L1260.7 270.8L1261.7 270.2M1279.3 262.4L1280.3 261.9L1281.3 261.4L1282.3 260.8L1283.3 260.3L1284.3 259.8L1285.3 259.3L1286.3 258.9L1287.3 258.4L1288.3 257.9L1289.3 257.4L1290.3 257L1291.3 256.5L1292.3 256.1L1293.3 255.6L1294.3 255.2L1295.3 254.8L1296.3 254.3L1297.3 253.9L1298.3 253.4L1299.3 253L1300.3 252.6L1301.3 252.1L1302.3 251.7L1303.3 251.3L1304.3 250.8L1305.3 250.4L1306.3 250L1307.3 249.5L1308.3 249.1L1309.3 248.7L1310.3 248.3L1311.3 247.8L1312.3 247.4L1313.3 247L1314.3 246.5L1315.3 246.1L1316.3 245.7L1317.3 245.2L1318.3 244.8L1319.3 244.4L1320.3 243.9L1321.3 243.5L1322.3 243L1323.3 242.6L1324.3 242.1L1325.3 241.6L1326.3 241.1L1327.3 240.6L1328.3 240.1L1329.3 239.6L1330.3 239.1L1331.3 238.6L1332.3 238.1L1333.3 237.6L1334.3 237.1L1335.3 236.6L1336.4 236.1L1337.4 235.7L1338.4 235.4L1339.4 235.1L1340.4 234.8L1341.4 234.6L1342.4 234.5L1343.4 234.6L1344.4 234.7L1345.4 235L1346.4 235.3L1347.4 236.1L1348.4 237.2L1349.4 238.5L1350.4 239.8L1351.4 241.3L1352.4 243L1353.4 244.7L1354.4 246.5L1355.4 248.3L1356.4 250.1L1357.4 251.9L1358.4 253.8L1359.4 255.7L1360.4 257.5L1361.4 259L1362.4 260.4L1363.4 261.5L1364.4 262.1L1365.4 262.6L1366.4 263L1367.4 263.1L1368.4 263L1369.4 262.8L1370.4 262.6L1371.4 262.3L1372.4 261.8L1373.4 261.2L1374.4 260.6L1375.4 259.9L1376.4 259.2L1377.4 258.6L1378.4 257.9L1379.4 257.2L1380.4 256.5L1381.4 255.8L1382.4 255.1L1383.4 254.4L1384.4 253.6L1385.4 252.8L1386.4 252L1387.4 251.2L1388.4 250.4L1389.4 249.5L1390.4 248.7L1391.4 247.9L1392.4 247.1L1393.4 246.4L1394.4 245.6L1395.4 244.8L1396.4 244.1L1397.4 243.3L1398.4 242.4L1399.4 241.6L1400.4 240.6L1401.4 239.7L1402.4 238.8L1403.4 237.9L1404.4 236.9L1405.4 236.1L1406.4 235.3L1407.4 234.5L1408.4 233.7L1409.4 232.9L1410.4 232L1411.4 231L1412.4 230L1413.4 228.9L1414.4 227.8L1415.4 226.6L1416.4 225.4L1417.4 224.2L1418.4 222.9L1419.4 221.7L1420.4 220.4L1421.4 219.1L1422.4 217.8L1423.4 216.5L1424.4 215.2L1425.4 213.8L1426.4 212.4L1427.4 211L1428.4 209.5L1429.4 208L1430.4 206.5L1431.4 204.9L1432.4 203.3L1433.4 201.6L1434.4 199.9L1435.4 198.2L1436.4 196.4L1437.4 194.5L1438.4 192.7L1439.4 190.8L1440.4 188.8L1441.4 186.7L1442.4 184.5L1443.4 182.3L1444.4 180.4L1445.4 178.7L1446.4 177.2L1447.4 175.7L1448.4 174.5L1449.4 173.7L1450.5 173.4L1451.5 173.2L1452.5 173.1L1453.5 173.2L1454.5 174.1L1455.5 175.8L1456.5 177.9L1457.5 181.1L1458.5 185.7L1459.5 191.3L1460.5 199L1461.5 209.2L1462.5 220.8L1463.5 234.7L1464.5 249.3L1465.5 264.2L1466.5 279.7L1467.5 296.8L1468.5 312.5L1469.5 326.1L1470.5 337.7L1471.5 347.9L1472.5 356.1L1473.5 362L1474.5 366.5L1475.5 369.2L1476.5 371.1L1477.5 372L1478.5 371.8L1479.5 371.2L1480.5 370.4L1481.5 369.2L1482.5 367.4L1483.5 365.4L1484.5 363.4L1485.5 361.7L1486.5 359.9L1487.5 358.2L1488.5 356.4L1489.5 354.5L1490.5 352.5L1491.5 350.4L1492.5 348.1L1493.5 345.9L1494.5 343.7L1495.5 341.6L1496.5 339.6L1497.5 337.6L1498.5 335.7L1499.5 333.8L1500.5 332.1L1501.5 330.5L1502.5 329L1503.5 327.7L1504.5 326.4L1505.5 325.1L1506.5 323.9L1507.5 322.8L1508.5 321.7L1509.5 320.6L1510.5 319.6L1511.5 318.6L1512.5 317.7L1513.5 316.8L1514.5 315.9L1515.5 315L1516.5 314.2L1517.5 313.3L1518.5 312.5L1519.5 311.8L1520.5 311L1521.5 310.3L1522.5 309.5L1523.5 308.8L1524.5 308.1L1525.5 307.4L1526.5 306.7L1527.5 306L1528.5 305.3L1529.5 304.6L1530.5 303.9L1531.5 303.3L1532.5 302.7L1533.5 302.1L1534.5 301.5L1535.5 300.9L1536.5 300.4L1537.5 299.9L1538.5 299.4L1539.5 298.9L1540.5 298.4L1541.5 297.9L1542.5 297.4L1543.5 297L1544.5 296.5L1545.5 296.1L1546.5 295.6L1547.5 295.2L1548.5 294.7L1549.5 294.3L1550.5 293.8L1551.5 293.4L1552.5 293L1553.5 292.6L1554.5 292.2L1555.5 291.8L1556.5 291.4L1557.5 291L1558.5 290.6L1559.5 290.3L1560.5 289.9L1561.5 289.6L1562.5 289.2L1563.5 288.9L1564.6 288.5L1565.6 288.2L1566.6 287.9L1567.6 287.5L1568.6 287.2L1569.6 286.9L1570.6 286.6L1571.6 286.3L1572.6 285.9L1573.6 285.6L1574.6 285.3L1575.6 285L1576.6 284.7L1577.6 284.5L1578.6 284.2L1579.6 283.9L1580.6 283.6L1581.6 283.4L1582.6 283.1L1583.6 282.9L1584.6 282.7L1585.6 282.4L1586.6 282.2L1587.6 282L1588.6 281.7L1589.6 281.5L1590.6 281.3L1591.6 281.1L1592.6 280.9L1593.6 280.7L1594.6 280.5L1595.6 280.3L1596.6 280.1L1597.6 279.9L1598.6 279.7L1599.6 279.6L1600.6 279.4L1601.6 279.2L1602.6 279L1603.6 278.8L1604.6 278.6L1605.6 278.4L1606.6 278.2L1607.6 278L1608.6 277.8L1609.6 277.6L1610.6 277.4L1611.6 277.2L1612.6 277L1613.6 276.9L1614.6 276.8L1615.6 276.6L1616.6 276.5L1617.6 276.4L1618.6 276.3L1619.6 276.3L1620.6 276.2" fill="none" stroke="#ff0000" stroke-width="3.3" stroke-linecap="butt" stroke-linejoin="round"/>
<path d="M1010.1 177.9L1010.6 177.2L1011.1 176.4L1011.6 175.7L1012.1 174.9L1012.6 174.1L1013.1 173.3L1013.6 172.5L1014.1 171.7L1014.6 170.8L1015.1 170L1015.6 169.1L1016.1 168.3L1016.6 167.4L1017.1 166.5L1017.6 165.6L1018.1 164.7L1018.6 163.8L1019.1 162.9L1019.6 161.9L1020.1 161L1020.6 160L1021.1 159L1021.6 158.1L1022.1 157.1L1022.6 156.1L1023.1 155L1023.6 154L1024.1 152.9L1024.6 151.9L1025.1 150.8L1025.6 149.7L1026.1 148.5L1026.6 147.4L1027.1 146.2L1027.6 145.1L1028.1 143.9L1028.6 142.6L1029.1 141.4L1029.6 140.1L1030.1 138.8L1030.6 137.4L1031.1 136.1L1031.6 134.7L1032.1 133.3L1032.6 131.9L1033.1 130.5L1033.6 129L1034.1 127.6L1034.6 126.1L1035 124.6L1035.5 123.1L1036 121.5L1036.5 120L1037 118.4L1037.5 116.7L1038 115L1038.5 113.2L1039 111.4L1039.5 109.6L1040 107.7L1040.5 105.7L1041 103.7L1041.5 101.6L1042 99.5L1042.5 97.3L1043 95.1L1043.5 92.9L1044 90.6L1044.5 88.2L1045 85.8L1045.5 83.3L1046 80.7L1046.5 78L1047 75.1L1047.5 72.1L1048 69L1048.5 65.9L1049 62.9L1049.5 59.9L1050 56.9L1050.5 53.9L1051 50.9L1051.5 47.9L1052 44.9L1052.5 41.8L1053 38.8L1053.5 35.7L1054 32.6L1054.5 29.5L1055 26.4L1055.5 23.3L1056 20.2L1056.5 16.8L1057 13.2L1057.5 9.3L1058 5.3L1058.5 1L1059 -3.4L1059.5 -8M1061.4 -8L1061.6 -2.3L1061.9 3.5L1062.1 9.1L1062.4 14.8L1062.6 20.5L1062.9 26.2L1063.1 31.7L1063.4 36.9L1063.6 41.6L1063.9 46.1L1064.1 50.7L1064.4 55.8L1064.6 61.5L1064.9 67.8L1065.1 74.3L1065.4 81L1065.6 87.6L1065.9 94.2L1066.1 100.9L1066.4 108.3L1066.6 116.8L1066.9 126.8L1067.1 137.3L1067.4 147.1L1067.6 156.7L1067.9 167.1L1068.1 179.6L1068.4 193.4L1068.6 206.9L1068.9 220.3L1069.1 233.8L1069.4 247.9L1069.6 263.2L1069.9 279.4L1070.1 295.8L1070.4 311.4L1070.6 325.5L1070.9 338.9L1071.1 351.8L1071.4 364.1L1071.6 375.8L1071.9 386.7L1072.1 397.1L1072.4 407.1L1072.6 416.8L1072.9 425.9L1073.1 434.3L1073.4 442L1073.6 448.9L1073.9 455.3L1074.1 461.4L1074.4 467.1L1074.6 472.2L1074.9 476.7L1075.1 480.5L1075.4 483.8L1075.6 486.6L1075.9 489.1L1076.1 491.3L1076.4 493.5L1076.6 495.6L1076.9 497.9L1077.1 500.3L1077.4 503L1077.6 506L1077.9 509.2L1078.1 512.7L1078.4 516.3L1078.6 520M1079.2 520L1080.2 502.2L1081.2 493.8L1082.2 488.4L1083.2 482.3L1084.2 475.7L1085.2 468.8L1086.2 461.9L1087.2 454.2L1088.2 446.2L1089.2 439.2L1090.2 434.1L1091.2 430.4L1092.2 426.2L1093.2 420.9L1094.2 415L1095.2 409.1L1096.2 403.6L1097.2 398.9L1098.3 394.6L1099.3 390.4L1100.3 386.5L1101.3 382.8L1102.3 379.3L1103.3 375.9L1104.3 372.6L1105.3 369.4L1106.3 366.4L1107.3 363.5L1108.3 360.7L1109.3 358L1110.3 355.5L1111.3 353L1112.3 350.5L1113.3 348.2L1114.3 345.9L1115.3 343.8L1116.3 341.7L1117.3 339.7L1118.3 337.8L1119.3 335.9L1120.3 334.1L1121.3 332.3L1122.3 330.6L1123.3 328.9L1124.3 327.3L1125.3 325.7L1126.3 324.2L1127.3 322.8L1128.3 321.4L1129.3 320L1130.3 318.7L1131.3 317.4L1132.3 316.1L1133.3 314.9L1134.4 313.7L1135.4 312.6L1136.4 311.5L1137.4 310.4L1138.4 309.3L1139.4 308.3L1140.4 307.4L1141.4 306.4L1142.4 305.5L1143.4 304.6L1144.4 303.7L1145.4 302.8L1146.4 302L1147.4 301.2L1148.4 300.4L1149.4 299.6L1150.4 298.8L1151.4 298L1152.4 297.3L1153.4 296.6L1154.4 295.8L1155.4 295.1L1156.4 294.4L1157.4 293.7L1158.4 293L1159.4 292.4L1160.4 291.7L1161.4 291.1L1162.4 290.4L1163.4 289.8L1164.4 289.2L1165.4 288.6L1166.4 288L1167.4 287.4L1168.4 286.8L1169.4 286.3L1170.5 285.7L1171.5 285.2L1172.5 284.6L1173.5 284.1L1174.5 283.6L1175.5 283L1176.5 282.5L1177.5 282L1178.5 281.5L1179.5 281L1180.5 280.5L1181.5 280.1L1182.5 279.6L1183.5 279.1L1184.5 278.6L1185.5 278.2L1186.5 277.7L1187.5 277.3L1188.5 276.8L1189.5 276.4L1190.5 276L1191.5 275.6L1192.5 275.2L1193.5 274.8L1194.5 274.4L1195.5 274L1196.5 273.6L1197.5 273.2L1198.5 272.8L1199.5 272.4L1200.5 272L1201.5 271.6L1202.5 271.1L1203.5 270.7L1204.5 270.3L1205.5 269.8L1206.5 269.4L1207.6 268.9L1208.6 268.4L1209.6 267.9L1210.6 267.3L1211.6 266.7L1212.6 266.1L1213.6 265.5L1214.6 264.9L1215.6 264.3L1216.6 263.7L1217.6 263.1L1218.6 262.6L1219.6 262L1220.6 261.4L1221.6 260.9L1222.6 260.5L1223.6 260.2L1224.6 259.9L1225.6 259.6L1226.6 259.4L1227.6 259.3L1228.6 259.2L1229.6 259.3L1230.6 259.6L1231.6 259.9L1232.6 260.3L1233.6 261L1234.6 261.8L1235.6 262.8L1236.6 263.8L1237.6 265L1238.6 266.4L1239.6 267.8L1240.6 269.2L1241.6 270.3L1242.6 271.6L1243.7 272.7L1244.7 273.7L1245.7 274.1L1246.7 274.4L1247.7 274.7L1248.7 274.8L1249.7 274.9L1250.7 274.9L1251.7 274.7L1252.7 274.5L1253.7 274.3L1254.7 274L1255.7 273.6L1256.7 273L1257.7 272.5L1258.7 271.9L1259.7 271.4L1260.7 270.8L1261.7 270.2M1279.3 262.4L1280.3 261.9L1281.3 261.4L1282.3 260.8L1283.3 260.3L1284.3 259.8L1285.3 259.3L1286.3 258.9L1287.3 258.4L1288.3 257.9L1289.3 257.4L1290.3 257L1291.3 256.5L1292.3 256.1L1293.3 255.6L1294.3 255.2L1295.3 254.8L1296.3 254.3L1297.3 253.9L1298.3 253.4L1299.3 253L1300.3 252.6L1301.3 252.1L1302.3 251.7L1303.3 251.3L1304.3 250.8L1305.3 250.4L1306.3 250L1307.3 249.5L1308.3 249.1L1309.3 248.7L1310.3 248.3L1311.3 247.8L1312.3 247.4L1313.3 247L1314.3 246.5L1315.3 246.1L1316.3 245.7L1317.3 245.2L1318.3 244.8L1319.3 244.4L1320.3 243.9L1321.3 243.5L1322.3 243L1323.3 242.6L1324.3 242.1L1325.3 241.6L1326.3 241.1L1327.3 240.6L1328.3 240.1L1329.3 239.6L1330.3 239.1L1331.3 238.6L1332.3 238.1L1333.3 237.6L1334.3 237.1L1335.3 236.6L1336.4 236.1L1337.4 235.7L1338.4 235.4L1339.4 235.1L1340.4 234.8L1341.4 234.6L1342.4 234.5L1343.4 234.6L1344.4 234.7L1345.4 235L1346.4 235.3L1347.4 236.1L1348.4 237.2L1349.4 238.5L1350.4 239.8L1351.4 241.3L1352.4 243L1353.4 244.7L1354.4 246.5L1355.4 248.3L1356.4 250.1L1357.4 251.9L1358.4 253.8L1359.4 255.7L1360.4 257.5L1361.4 259L1362.4 260.4L1363.4 261.5L1364.4 262.1L1365.4 262.6L1366.4 263L1367.4 263.1L1368.4 263L1369.4 262.8L1370.4 262.6L1371.4 262.3L1372.4 261.8L1373.4 261.2L1374.4 260.6L1375.4 259.9L1376.4 259.2L1377.4 258.6L1378.4 257.9L1379.4 257.2L1380.4 256.5L1381.4 255.8L1382.4 255.1L1383.4 254.4L1384.4 253.6L1385.4 252.8L1386.4 252L1387.4 251.2L1388.4 250.4L1389.4 249.5L1390.4 248.7L1391.4 247.9L1392.4 247.1L1393.4 246.4L1394.4 245.6L1395.4 244.8L1396.4 244.1L1397.4 243.3L1398.4 242.4L1399.4 241.6L1400.4 240.6L1401.4 239.7L1402.4 238.8L1403.4 237.9L1404.4 236.9L1405.4 236.1L1406.4 235.3L1407.4 234.5L1408.4 233.7L1409.4 232.9L1410.4 232L1411.4 231L1412.4 230L1413.4 228.9L1414.4 227.8L1415.4 226.6L1416.4 225.4L1417.4 224.2L1418.4 222.9L1419.4 221.7L1420.4 220.4L1421.4 219.1L1422.4 217.8L1423.4 216.5L1424.4 215.2L1425.4 213.8L1426.4 212.4L1427.4 211L1428.4 209.5L1429.4 208L1430.4 206.5L1431.4 204.9L1432.4 203.4L1433.4 201.8L1434.4 200.2L1435.4 198.6L1436.4 196.9L1437.4 195L1438.4 193L1439.4 190.8L1440.4 188.2L1441.4 185.1L1442.4 181.9L1443.4 178.8L1444.4 176L1445.4 173.4L1446.4 170.7L1447.4 167.9L1448.4 164.6L1449.4 160.6L1450.5 156.5L1451.5 152.7L1452.5 149.7L1453.5 147L1454.5 144.8L1455.5 143.4L1456.5 142.4L1457.5 141.8L1458.5 142.1L1459.5 143.1L1460.5 144.6L1461.5 149.5L1462.5 157L1463.5 164.8L1464.5 174.6L1465.5 188.4L1466.5 206.8L1467.5 231.2L1468.5 265.2L1469.5 299.4L1470.5 329.5L1471.5 354.5L1472.5 375.6L1473.5 391.6L1474.5 402.3L1475.5 410.3L1476.5 412.6L1477.5 412.4L1478.5 412L1479.5 411.4L1480.5 409.4L1481.5 406.4L1482.5 403.2L1483.5 400L1484.5 396.5L1485.5 393L1486.5 389.5L1487.5 386L1488.5 382.5L1489.5 379L1490.5 375.5L1491.5 371.8L1492.5 368.2L1493.5 364.8L1494.5 361.7L1495.5 358.8L1496.5 356L1497.5 353.3L1498.5 350.7L1499.5 348.3L1500.5 346L1501.5 343.7L1502.5 341.6L1503.5 339.6L1504.5 337.6L1505.5 335.8L1506.5 334L1507.5 332.3L1508.5 330.6L1509.5 329L1510.5 327.5L1511.5 326L1512.5 324.6L1513.5 323.2L1514.5 321.8L1515.5 320.5L1516.5 319.3L1517.5 318.1L1518.5 316.9L1519.5 315.7L1520.5 314.6L1521.5 313.5L1522.5 312.5L1523.5 311.6L1524.5 310.7L1525.5 310L1526.5 309.2L1527.5 308.5L1528.5 307.8L1529.5 306.9L1530.5 306L1531.5 304.7L1532.5 303.5L1533.5 302.3L1534.5 301.4L1535.5 300.8L1536.5 300.2L1537.5 299.6L1538.5 299.1L1539.5 298.6L1540.5 298.2L1541.5 297.8L1542.5 297.4L1543.5 296.9L1544.5 296.5L1545.5 296.1L1546.5 295.6L1547.5 295.2L1548.5 294.7L1549.5 294.3L1550.5 293.8L1551.5 293.4L1552.5 293L1553.5 292.6L1554.5 292.2L1555.5 291.8L1556.5 291.4L1557.5 291L1558.5 290.6L1559.5 290.3L1560.5 289.9L1561.5 289.6L1562.5 289.2L1563.5 288.9L1564.6 288.5L1565.6 288.2L1566.6 287.9L1567.6 287.5L1568.6 287.2L1569.6 286.9L1570.6 286.6L1571.6 286.3L1572.6 285.9L1573.6 285.6L1574.6 285.3L1575.6 285L1576.6 284.7L1577.6 284.5L1578.6 284.2L1579.6 283.9L1580.6 283.6L1581.6 283.4L1582.6 283.1L1583.6 282.9L1584.6 282.7L1585.6 282.4L1586.6 282.2L1587.6 282L1588.6 281.7L1589.6 281.5L1590.6 281.3L1591.6 281.1L1592.6 280.9L1593.6 280.7L1594.6 280.5L1595.6 280.3L1596.6 280.1L1597.6 279.9L1598.6 279.7L1599.6 279.6L1600.6 279.4L1601.6 279.2L1602.6 279L1603.6 278.8L1604.6 278.6L1605.6 278.4L1606.6 278.2L1607.6 278L1608.6 277.8L1609.6 277.6L1610.6 277.4L1611.6 277.2L1612.6 277L1613.6 276.9L1614.6 276.8L1615.6 276.6L1616.6 276.5L1617.6 276.4L1618.6 276.3L1619.6 276.3L1620.6 276.2" fill="none" stroke="#00ff00" stroke-width="3.3" stroke-linecap="butt" stroke-linejoin="round" stroke-dasharray="15 13.5"/>
<path d="M1010.1 177.9L1010.6 177.2L1011.1 176.4L1011.6 175.7L1012.1 174.9L1012.6 174.1L1013.1 173.3L1013.6 172.5L1014.1 171.7L1014.6 170.8L1015.1 170L1015.6 169.1L1016.1 168.3L1016.6 167.4L1017.1 166.5L1017.6 165.6L1018.1 164.7L1018.6 163.8L1019.1 162.9L1019.6 161.9L1020.1 161L1020.6 160L1021.1 159L1021.6 158.1L1022.1 157.1L1022.6 156.1L1023.1 155L1023.6 154L1024.1 152.9L1024.6 151.9L1025.1 150.8L1025.6 149.7L1026.1 148.5L1026.6 147.4L1027.1 146.2L1027.6 145.1L1028.1 143.9L1028.6 142.6L1029.1 141.4L1029.6 140.1L1030.1 138.8L1030.6 137.4L1031.1 136.1L1031.6 134.7L1032.1 133.3L1032.6 131.9L1033.1 130.5L1033.6 129L1034.1 127.6L1034.6 126.1L1035 124.6L1035.5 123.1L1036 121.5L1036.5 120L1037 118.4L1037.5 116.7L1038 115L1038.5 113.2L1039 111.4L1039.5 109.6L1040 107.7L1040.5 105.7L1041 103.7L1041.5 101.6L1042 99.5L1042.5 97.3L1043 95.1L1043.5 92.9L1044 90.6L1044.5 88.2L1045 85.8L1045.5 83.3L1046 80.7L1046.5 78L1047 75.1L1047.5 72.1L1048 69L1048.5 65.9L1049 62.9L1049.5 59.9L1050 56.9L1050.5 53.9L1051 50.9L1051.5 47.9L1052 44.9L1052.5 41.8L1053 38.8L1053.5 35.7L1054 32.6L1054.5 29.5L1055 26.4L1055.5 23.3L1056 20.2L1056.5 16.8L1057 13.2L1057.5 9.3L1058 5.3L1058.5 1L1059 -3.4L1059.5 -8M1061.4 -8L1061.6 -2.3L1061.9 3.5L1062.1 9.1L1062.4 14.8L1062.6 20.5L1062.9 26.2L1063.1 31.7L1063.4 36.9L1063.6 41.6L1063.9 46.1L1064.1 50.7L1064.4 55.8L1064.6 61.5L1064.9 67.8L1065.1 74.3L1065.4 81L1065.6 87.6L1065.9 94.2L1066.1 100.9L1066.4 108.3L1066.6 116.8L1066.9 126.8L1067.1 137.3L1067.4 147.1L1067.6 156.7L1067.9 167.1L1068.1 179.6L1068.4 193.4L1068.6 206.9L1068.9 220.3L1069.1 233.8L1069.4 247.9L1069.6 263.2L1069.9 279.4L1070.1 295.8L1070.4 311.4L1070.6 325.5L1070.9 338.9L1071.1 351.8L1071.4 364.1L1071.6 375.8L1071.9 386.7L1072.1 397.1L1072.4 407.1L1072.6 416.8L1072.9 425.9L1073.1 434.3L1073.4 442L1073.6 448.9L1073.9 455.3L1074.1 461.4L1074.4 467.1L1074.6 472.2L1074.9 476.7L1075.1 480.5L1075.4 483.8L1075.6 486.6L1075.9 489.1L1076.1 491.3L1076.4 493.5L1076.6 495.6L1076.9 497.9L1077.1 500.3L1077.4 503L1077.6 506L1077.9 509.2L1078.1 512.7L1078.4 516.3L1078.6 520M1079.2 520L1080.2 502.2L1081.2 493.8L1082.2 488.4L1083.2 482.3L1084.2 475.7L1085.2 468.8L1086.2 461.9L1087.2 454.2L1088.2 446.2L1089.2 439.2L1090.2 434.1L1091.2 430.4L1092.2 426.2L1093.2 420.9L1094.2 415L1095.2 409.1L1096.2 403.6L1097.2 398.9L1098.3 394.6L1099.3 390.4L1100.3 386.5L1101.3 382.8L1102.3 379.3L1103.3 375.9L1104.3 372.6L1105.3 369.4L1106.3 366.4L1107.3 363.5L1108.3 360.7L1109.3 358L1110.3 355.5L1111.3 353L1112.3 350.5L1113.3 348.2L1114.3 345.9L1115.3 343.8L1116.3 341.7L1117.3 339.7L1118.3 337.8L1119.3 335.9L1120.3 334.1L1121.3 332.3L1122.3 330.6L1123.3 328.9L1124.3 327.3L1125.3 325.7L1126.3 324.2L1127.3 322.8L1128.3 321.4L1129.3 320L1130.3 318.7L1131.3 317.4L1132.3 316.1L1133.3 314.9L1134.4 313.7L1135.4 312.6L1136.4 311.5L1137.4 310.4L1138.4 309.3L1139.4 308.3L1140.4 307.4L1141.4 306.4L1142.4 305.5L1143.4 304.6L1144.4 303.7L1145.4 302.8L1146.4 302L1147.4 301.2L1148.4 300.4L1149.4 299.6L1150.4 298.8L1151.4 298L1152.4 297.3L1153.4 296.6L1154.4 295.8L1155.4 295.1L1156.4 294.4L1157.4 293.7L1158.4 293L1159.4 292.4L1160.4 291.7L1161.4 291.1L1162.4 290.4L1163.4 289.8L1164.4 289.2L1165.4 288.6L1166.4 288L1167.4 287.4L1168.4 286.8L1169.4 286.3L1170.5 285.7L1171.5 285.2L1172.5 284.6L1173.5 284.1L1174.5 283.6L1175.5 283L1176.5 282.5L1177.5 282L1178.5 281.5L1179.5 281L1180.5 280.5L1181.5 280.1L1182.5 279.6L1183.5 279.1L1184.5 278.6L1185.5 278.2L1186.5 277.7L1187.5 277.3L1188.5 276.8L1189.5 276.4L1190.5 276L1191.5 275.6L1192.5 275.2L1193.5 274.8L1194.5 274.4L1195.5 274L1196.5 273.6L1197.5 273.2L1198.5 272.8L1199.5 272.4L1200.5 272L1201.5 271.6L1202.5 271.1L1203.5 270.7L1204.5 270.3L1205.5 269.8L1206.5 269.4L1207.6 268.9L1208.6 268.4L1209.6 267.9L1210.6 267.3L1211.6 266.7L1212.6 266.1L1213.6 265.5L1214.6 264.9L1215.6 264.3L1216.6 263.7L1217.6 263.1L1218.6 262.6L1219.6 262L1220.6 261.4L1221.6 260.9L1222.6 260.5L1223.6 260.2L1224.6 259.9L1225.6 259.6L1226.6 259.4L1227.6 259.3L1228.6 259.2L1229.6 259.3L1230.6 259.6L1231.6 259.9L1232.6 260.3L1233.6 261L1234.6 261.8L1235.6 262.8L1236.6 263.8L1237.6 265L1238.6 266.4L1239.6 267.8L1240.6 269.2L1241.6 270.3L1242.6 271.6L1243.7 272.7L1244.7 273.7L1245.7 274.1L1246.7 274.4L1247.7 274.7L1248.7 274.8L1249.7 274.9L1250.7 274.9L1251.7 274.7L1252.7 274.5L1253.7 274.3L1254.7 274L1255.7 273.6L1256.7 273L1257.7 272.5L1258.7 271.9L1259.7 271.4L1260.7 270.8L1261.7 270.2M1279.3 262.4L1280.3 261.9L1281.3 261.4L1282.3 260.8L1283.3 260.3L1284.3 259.8L1285.3 259.3L1286.3 258.9L1287.3 258.4L1288.3 257.9L1289.3 257.4L1290.3 257L1291.3 256.5L1292.3 256.1L1293.3 255.6L1294.3 255.2L1295.3 254.8L1296.3 254.3L1297.3 253.9L1298.3 253.4L1299.3 253L1300.3 252.6L1301.3 252.1L1302.3 251.7L1303.3 251.3L1304.3 250.8L1305.3 250.4L1306.3 250L1307.3 249.5L1308.3 249.1L1309.3 248.7L1310.3 248.3L1311.3 247.8L1312.3 247.4L1313.3 247L1314.3 246.5L1315.3 246.1L1316.3 245.7L1317.3 245.2L1318.3 244.8L1319.3 244.4L1320.3 243.9L1321.3 243.5L1322.3 243L1323.3 242.6L1324.3 242.1L1325.3 241.6L1326.3 241.1L1327.3 240.6L1328.3 240.1L1329.3 239.6L1330.3 239.1L1331.3 238.6L1332.3 238.1L1333.3 237.6L1334.3 237.1L1335.3 236.6L1336.4 236.1L1337.4 235.7L1338.4 235.4L1339.4 235.1L1340.4 234.8L1341.4 234.6L1342.4 234.5L1343.4 234.6L1344.4 234.7L1345.4 235L1346.4 235.3L1347.4 236.1L1348.4 237.2L1349.4 238.5L1350.4 239.8L1351.4 241.3L1352.4 243L1353.4 244.7L1354.4 246.5L1355.4 248.3L1356.4 250.1L1357.4 251.9L1358.4 253.8L1359.4 255.7L1360.4 257.5L1361.4 259L1362.4 260.4L1363.4 261.5L1364.4 262.1L1365.4 262.6L1366.4 263L1367.4 263.1L1368.4 263L1369.4 262.8L1370.4 262.6L1371.4 262.3L1372.4 261.8L1373.4 261.2L1374.4 260.6L1375.4 259.9L1376.4 259.2L1377.4 258.6L1378.4 257.9L1379.4 257.2L1380.4 256.5L1381.4 255.8L1382.4 255.1L1383.4 254.4L1384.4 253.6L1385.4 252.8L1386.4 252L1387.4 251.2L1388.4 250.4L1389.4 249.5L1390.4 248.7L1391.4 247.9L1392.4 247.1L1393.4 246.4L1394.4 245.6L1395.4 244.8L1396.4 244.1L1397.4 243.3L1398.4 242.4L1399.4 241.6L1400.4 240.6L1401.4 239.7L1402.4 238.8L1403.4 237.9L1404.4 236.9L1405.4 236.1L1406.4 235.3L1407.4 234.5L1408.4 233.7L1409.4 232.9L1410.4 232L1411.4 231L1412.4 230L1413.4 228.9L1414.4 227.8L1415.4 226.6L1416.4 225.4L1417.4 224.2L1418.4 222.9L1419.4 221.7L1420.4 220.4L1421.4 219.1L1422.4 217.8L1423.4 216.5L1424.4 215.2L1425.4 213.8L1426.4 212.4L1427.4 211L1428.4 209.5L1429.4 208L1430.4 206.5L1431.4 204.9L1432.4 203.3L1433.4 201.7L1434.4 200L1435.4 198.2L1436.4 196.4L1437.4 194.6L1438.4 192.7L1439.4 190.8L1440.4 188.8L1441.4 186.8L1442.4 184.6L1443.4 182.4L1444.4 180.2L1445.4 177.9L1446.4 175.4L1447.4 172.7L1448.4 170.1L1449.4 167.7L1450.5 165.7L1451.5 163.8L1452.5 162.2L1453.5 161.1L1454.5 160.6L1455.5 160.2L1456.5 159.9L1457.5 159.8L1458.5 160.6L1459.5 162.5L1460.5 165.3L1461.5 168.8L1462.5 175.3L1463.5 185.3L1464.5 196.5L1465.5 210L1466.5 227.7L1467.5 247.7L1468.5 268.1L1469.5 286.9L1470.5 315L1471.5 337.6L1472.5 355.1L1473.5 368L1474.5 376.2L1475.5 382.5L1476.5 387.3L1477.5 389.5L1478.5 389.3L1479.5 388.9L1480.5 388.2L1481.5 387.3L1482.5 386.2L1483.5 384.5L1484.5 382.6L1485.5 380.4L1486.5 378.1L1487.5 375.2L1488.5 371.9L1489.5 368.4L1490.5 365.1L1491.5 362.1L1492.5 359.6L1493.5 357.3L1494.5 355.1L1495.5 353L1496.5 350.9L1497.5 348.9L1498.5 346.8L1499.5 344.7L1500.5 342.5L1501.5 340.4L1502.5 338.4L1503.5 336.4L1504.5 334.6L1505.5 332.9L1506.5 331.3L1507.5 329.8L1508.5 328.3L1509.5 326.9L1510.5 325.6L1511.5 324.3L1512.5 323.1L1513.5 321.9L1514.5 320.7L1515.5 319.5L1516.5 318.3L1517.5 317.2L1518.5 316L1519.5 314.8L1520.5 313.7L1521.5 312.6L1522.5 311.6L1523.5 310.6L1524.5 309.7L1525.5 308.9L1526.5 308.2L1527.5 307.5L1528.5 307.1L1529.5 306.7L1530.5 306.1L1531.5 305L1532.5 303.6L1533.5 302.3L1534.5 301.4L1535.5 300.8L1536.5 300.2L1537.5 299.6L1538.5 299.1L1539.5 298.6L1540.5 298.2L1541.5 297.8L1542.5 297.4L1543.5 296.9L1544.5 296.5L1545.5 296.1L1546.5 295.6L1547.5 295.2L1548.5 294.7L1549.5 294.3L1550.5 293.8L1551.5 293.4L1552.5 293L1553.5 292.6L1554.5 292.2L1555.5 291.8L1556.5 291.4L1557.5 291L1558.5 290.6L1559.5 290.3L1560.5 289.9L1561.5 289.6L1562.5 289.2L1563.5 288.9L1564.6 288.5L1565.6 288.2L1566.6 287.9L1567.6 287.5L1568.6 287.2L1569.6 286.9L1570.6 286.6L1571.6 286.3L1572.6 285.9L1573.6 285.6L1574.6 285.3L1575.6 285L1576.6 284.7L1577.6 284.5L1578.6 284.2L1579.6 283.9L1580.6 283.6L1581.6 283.4L1582.6 283.1L1583.6 282.9L1584.6 282.7L1585.6 282.4L1586.6 282.2L1587.6 282L1588.6 281.7L1589.6 281.5L1590.6 281.3L1591.6 281.1L1592.6 280.9L1593.6 280.7L1594.6 280.5L1595.6 280.3L1596.6 280.1L1597.6 279.9L1598.6 279.7L1599.6 279.6L1600.6 279.4L1601.6 279.2L1602.6 279L1603.6 278.8L1604.6 278.6L1605.6 278.4L1606.6 278.2L1607.6 278L1608.6 277.8L1609.6 277.6L1610.6 277.4L1611.6 277.2L1612.6 277L1613.6 276.9L1614.6 276.8L1615.6 276.6L1616.6 276.5L1617.6 276.4L1618.6 276.3L1619.6 276.3L1620.6 276.2" fill="none" stroke="#0000ff" stroke-width="3.3" stroke-linecap="round" stroke-linejoin="round" stroke-dasharray="2 15" stroke-dashoffset="8"/>
</g>
</g>
<g id="panel-c">
<path d="M110 757.8V1250.8H722.9" fill="none" stroke="#000" stroke-width="2.0"/>
<path d="M110 1250.8v9.6M171.2 1250.8v5M232.4 1250.8v9.6M293.6 1250.8v5M354.8 1250.8v9.6M415.9 1250.8v5M477.1 1250.8v9.6M538.3 1250.8v5M599.5 1250.8v9.6M660.7 1250.8v5M721.9 1250.8v9.6M110 1250.8h-10M110 1209.8h-5M110 1168.8h-10M110 1127.8h-5M110 1086.8h-10M110 1045.8h-5M110 1004.8h-10M110 963.8h-5M110 922.8h-10M110 881.8h-5M110 840.8h-10M110 799.8h-5M110 758.8h-10" fill="none" stroke="#000" stroke-width="2.0"/>
<g font-family='"Liberation Sans", Arial, Helvetica, sans-serif' font-weight="700" font-size="22.6" fill="#000">
<g text-anchor="middle">
<text transform="translate(110 1283.8) scale(0.915 1)">18</text>
<text transform="translate(232.4 1283.8) scale(0.915 1)">20</text>
<text transform="translate(354.8 1283.8) scale(0.915 1)">22</text>
<text transform="translate(477.1 1283.8) scale(0.915 1)">24</text>
<text transform="translate(599.5 1283.8) scale(0.915 1)">26</text>
<text transform="translate(721.9 1283.8) scale(0.915 1)">28</text>
</g><g text-anchor="end">
<text transform="translate(93.4 1256.8) scale(0.915 1)">-300</text>
<text transform="translate(93.4 1174.8) scale(0.915 1)">-200</text>
<text transform="translate(93.4 1092.8) scale(0.915 1)">-100</text>
<text transform="translate(93.4 1010.8) scale(0.915 1)">0</text>
<text transform="translate(93.4 928.8) scale(0.915 1)">100</text>
<text transform="translate(93.4 846.8) scale(0.915 1)">200</text>
<text transform="translate(93.4 764.8) scale(0.915 1)">300</text>
</g></g>
<g font-family='"Liberation Sans", Arial, Helvetica, sans-serif' font-weight="700" fill="#000" text-anchor="middle">
<text transform="translate(415.9 1324) scale(0.985 1)" font-size="26">Frequency (GHz)</text>
<text transform="translate(22.9 992.6) rotate(-90) scale(0.965 1)" font-size="26.6">Permitivity</text>
</g>
<text transform="translate(370.9 1414.6) scale(1.014 1)" font-family='"Liberation Serif", "Times New Roman", serif' font-size="50.2" text-anchor="middle" fill="#000">(b)</text>
<clipPath id="cc"><rect x="109.0" y="757.8" width="613.9" height="493.0"/></clipPath>
<g clip-path="url(#cc)">
<path d="M110.2 1058.8L110.7 1058.3L111.2 1057.8L111.7 1057.2L112.2 1056.7L112.7 1056.2L113.2 1055.7L113.7 1055.2L114.2 1054.6L114.7 1054.1L115.2 1053.6L115.7 1053.1L116.2 1052.6L116.7 1052.1L117.2 1051.5L117.7 1051L118.2 1050.5L118.7 1050L119.2 1049.5L119.7 1049L120.2 1048.5L120.7 1047.9L121.2 1047.4L121.7 1046.9L122.2 1046.4L122.7 1045.9L123.2 1045.4L123.7 1044.9L124.2 1044.4L124.7 1043.9L125.2 1043.4L125.7 1042.8L126.2 1042.3L126.7 1041.8L127.2 1041.3L127.7 1040.8L128.2 1040.3L128.7 1039.8L129.2 1039.3L129.7 1038.7L130.2 1038.2L130.7 1037.7L131.2 1037.2L131.7 1036.7L132.2 1036.2L132.7 1035.7L133.2 1035.2L133.7 1034.7L134.2 1034.2L134.7 1033.7L135.2 1033.2L135.7 1032.7L136.2 1032.2L136.7 1031.7L137.2 1031.3L137.7 1030.8L138.2 1030.3L138.7 1029.9L139.2 1029.4L139.7 1028.9L140.2 1028.5L140.7 1028L141.2 1027.6L141.7 1027.1L142.2 1026.7L142.7 1026.2L143.2 1025.8L143.7 1025.3L144.2 1024.9L144.7 1024.5L145.2 1024L145.7 1023.6L146.2 1023.2L146.7 1022.7L147.2 1022.3L147.7 1021.9L148.2 1021.5L148.7 1021L149.2 1020.6L149.7 1020.2L150.2 1019.8L150.7 1019.4L151.2 1019L151.7 1018.5L152.2 1018.1L152.7 1017.7L153.2 1017.3L153.7 1016.9L154.2 1016.5L154.7 1016.1L155.2 1015.6L155.7 1015.2L156.2 1014.8L156.7 1014.4L157.2 1014L157.7 1013.6L158.2 1013.2L158.7 1012.8L159.2 1012.4L159.7 1011.9L160.2 1011.5L160.7 1011.1L161.2 1010.7L161.7 1010.3L162.2 1009.9L162.7 1009.5L163.2 1009.1L163.7 1008.7L164.2 1008.3L164.7 1007.9L165.2 1007.5L165.7 1007.1L166.2 1006.7L166.7 1006.3L167.2 1005.9L167.7 1005.5L168.2 1005.1L168.7 1004.7L169.2 1004.3L169.7 1003.9L170.2 1003.5L170.7 1003.1L171.2 1002.7L171.7 1002.3L172.2 1001.9L172.7 1001.5L173.2 1001.1L173.7 1000.7L174.2 1000.3L174.7 1000L175.2 999.6L175.7 999.2L176.2 998.8L176.7 998.4L177.2 998L177.7 997.6L178.2 997.2L178.7 996.8L179.2 996.5L179.7 996.1L180.2 995.7L180.7 995.3L181.2 994.9L181.7 994.6L182.2 994.2L182.7 993.8L183.2 993.4L183.7 993.1L184.2 992.7L184.7 992.3L185.2 992L185.7 991.6L186.2 991.2L186.7 990.9L187.2 990.5L187.7 990.1L188.2 989.8L188.7 989.4L189.2 989L189.7 988.6L190.2 988.3L190.7 987.9L191.2 987.5L191.7 987.2L192.2 986.8L192.7 986.4L193.2 986L193.7 985.7L194.2 985.3L194.7 984.9L195.2 984.5L195.7 984.2L196.2 983.8L196.7 983.4L197.2 983L197.7 982.6L198.2 982.2L198.7 981.8L199.2 981.4L199.7 981L200.2 980.6L200.7 980.3L201.2 979.9L201.7 979.5L202.2 979.1L202.7 978.7L203.2 978.3L203.7 977.9L204.2 977.5L204.7 977.1L205.2 976.7L205.7 976.3L206.2 975.9L206.7 975.5L207.2 975L207.7 974.6L208.2 974.2L208.7 973.8L209.2 973.4L209.7 973L210.2 972.6L210.7 972.1L211.2 971.7L211.7 971.3L212.2 970.9L212.7 970.4L213.2 970L213.7 969.6L214.2 969.1L214.7 968.7L215.2 968.2L215.7 967.8L216.2 967.4L216.7 966.9L217.2 966.5L217.7 966L218.2 965.6L218.7 965.1L219.2 964.6L219.7 964.2L220.2 963.7L220.7 963.3L221.2 962.8L221.7 962.3L222.2 961.9L222.7 961.4L223.2 960.9L223.7 960.4L224.2 959.9L224.7 959.5L225.2 959L225.7 958.5L226.2 958L226.7 957.5L227.2 957L227.7 956.5L228.2 956L228.7 955.5L229.2 955.1L229.7 954.5L230.2 954L230.8 953.5L231.3 953L231.8 952.5L232.3 952L232.8 951.5L233.3 951L233.8 950.5L234.3 949.9L234.8 949.4L235.3 948.9L235.8 948.3L236.3 947.8L236.8 947.3L237.3 946.7L237.8 946.2L238.3 945.6L238.8 945.1L239.3 944.5L239.8 944L240.3 943.4L240.8 942.9L241.3 942.3L241.8 941.7L242.3 941.2L242.8 940.6L243.3 940L243.8 939.4L244.3 938.9L244.8 938.3L245.3 937.7L245.8 937.1L246.3 936.5L246.8 935.9L247.3 935.3L247.8 934.7L248.3 934.1L248.8 933.5L249.3 932.8L249.8 932.2L250.3 931.6L250.8 931L251.3 930.3L251.8 929.7L252.3 929L252.8 928.4L253.3 927.7L253.8 927L254.3 926.4L254.8 925.7L255.3 925L255.8 924.3L256.3 923.6L256.8 922.9L257.3 922.2L257.8 921.5L258.3 920.8L258.8 920.1L259.3 919.3L259.8 918.6L260.3 917.8L260.8 917.1L261.3 916.3L261.8 915.5L262.3 914.8L262.8 914L263.3 913.2L263.8 912.4L264.3 911.5L264.8 910.7L265.3 909.8L265.8 909L266.3 908.1L266.8 907.2L267.3 906.3L267.8 905.3L268.3 904.4L268.8 903.4L269.3 902.5L269.8 901.5L270.3 900.5L270.8 899.5L271.3 898.6L271.8 897.6L272.3 896.6L272.8 895.6L273.3 894.6L273.8 893.6L274.3 892.6L274.8 891.6L275.3 890.5L275.8 889.5L276.3 888.5L276.8 887.5L277.3 886.4L277.8 885.4L278.3 884.3L278.8 883.3L279.3 882.2L279.8 881.1L280.3 880L280.8 878.9L281.3 877.8L281.8 876.7L282.3 875.5L282.8 874.3L283.3 873.2L283.8 872L284.3 870.7L284.8 869.5L285.3 868.3L285.8 867L286.3 865.8L286.8 864.5L287.3 863.2L287.8 861.9L288.3 860.6L288.8 859.3L289.3 857.9L289.8 856.6L290.3 855.2L290.8 853.8L291.3 852.4L291.8 850.9L292.3 849.5L292.8 848L293.3 846.6L293.8 845.1L294.3 843.6L294.8 842L295.3 840.5L295.8 838.9L296.3 837.3L296.8 835.6L297.3 834L297.8 832.4L298.3 830.7L298.8 829.1L299.3 827.5L299.8 825.8L300.3 824.1L300.8 822.4L301.3 820.7L301.8 819L302.3 817.5L302.8 816L303.3 814.7L303.8 813.3L304.3 812L304.8 810.8L305.3 809.8L305.8 808.9L306.3 808.3L306.8 807.8L307.3 807.3L307.8 807L308.3 806.9L308.8 807.1L309.3 807.4L309.8 807.9L310.3 808.6L310.8 809.3L311.3 810.3L311.8 811.9L312.3 814L312.8 816.4L313.3 819L313.8 822.2L314.3 826.2L314.8 830.6L315.3 835.4L315.8 840.4L316.3 845.9L316.8 851.8L317.3 858L317.8 864.4L318.3 871L318.8 878L319.3 885.3L319.8 893.1L320.3 901.4L320.8 909.7L321.3 917.4L321.8 925L322.3 932.2L322.8 938.9L323.3 944.9L323.8 950.6L324.3 955.9L324.8 960.9L325.3 965.6L325.8 970L326.3 974.2L326.8 977.9L327.3 981.4L327.8 984.7L328.3 987.5L328.8 989.8L329.3 992.1L329.8 994.1L330.3 995.6L330.8 996.2L331.3 996L331.8 995.5L332.3 994.8L332.8 993.9L333.3 993L333.8 991.9L334.3 990.4L334.8 988.7L335.3 986.7L335.8 984.5L336.3 982.4L336.8 980.3L337.3 978.4L337.8 976.4L338.3 974.4L338.8 972.4L339.3 970.3L339.8 968.3L340.3 966.2L340.8 964.1L341.3 962L341.8 959.9L342.3 957.8L342.8 955.7L343.3 953.5L343.8 951.3L344.3 949.1L344.8 946.7L345.3 944.4L345.8 941.9L346.3 939.4L346.8 936.8L347.3 934.3L347.8 931.8L348.3 929.3L348.8 926.9L349.3 924.4L349.8 922L350.3 919.5L350.8 917.1M353.1 904L353.6 901.6L354.1 899.1L354.6 896.6L355.2 894L355.7 891.4L356.2 888.7L356.7 886L357.2 883.4L357.7 880.6L358.2 877.8L358.7 874.8L359.3 871.5L359.8 867.9L360.3 864.1L360.8 860.1M380.4 818.5L380.9 825.5L381.4 833L381.9 841.3L382.4 850.3L382.9 859.3L383.4 867.5L383.9 875.6L384.4 884.2L384.9 893.6L385.4 903.6L385.9 913.6L386.4 924.1L386.9 935.9L387.4 949L387.9 962.3L388.4 979L388.9 1003L389.4 1019.8L389.9 1035.1L390.4 1051.7L390.9 1068.3L391.4 1083.3L391.9 1097.5L392.4 1110.2L392.9 1120.8L393.4 1129.7L393.9 1137.7L394.4 1144.9L394.9 1151.6L395.4 1158L395.9 1163.8L396.4 1168.8L396.9 1173.3L397.4 1177.6L397.9 1181.5L398.4 1184.7L398.9 1187.1L399.4 1188.8L399.9 1190.3L400.4 1191.7L400.9 1192.8L401.4 1193.5L401.9 1193.9L402.4 1193.8L402.9 1193.3L403.4 1192.6L403.9 1191.6L404.4 1190.5L404.9 1189.3L405.4 1188.2L405.9 1186.8L406.4 1185.2L406.9 1183.3L407.4 1181.3L407.9 1179.2L408.4 1177.1L408.9 1175L409.4 1172.9L409.9 1170.8L410.4 1168.7L410.9 1166.5L411.4 1164.3L411.9 1162.1L412.4 1159.8L412.9 1157.6L413.4 1155.3L413.9 1153.1L414.4 1150.9L414.9 1148.7L415.4 1146.5L415.9 1144.2L416.4 1142L416.9 1139.8L417.4 1137.5L417.9 1135.4L418.4 1133.2L418.9 1131.1L419.4 1129L419.9 1126.9L420.4 1124.9L420.9 1122.8L421.4 1120.8L421.9 1118.8L422.4 1116.8L422.9 1114.9L423.4 1112.9L423.9 1111L424.4 1109.1L424.9 1107.1L425.4 1105.2L425.9 1103.3L426.4 1101.5L426.9 1099.6L427.4 1097.7L427.9 1095.9L428.4 1094L428.9 1092.2L429.4 1090.4L429.9 1088.7L430.4 1086.9L430.9 1085.2L431.4 1083.5L431.9 1081.8L432.4 1080.2L432.9 1078.5L433.4 1076.9L433.9 1075.2L434.4 1073.6L434.9 1072L435.4 1070.5L435.9 1068.9L436.4 1067.4L436.9 1066L437.4 1064.5L437.9 1063.1L438.4 1061.7L438.9 1060.4L439.4 1059.1L439.9 1057.8L440.4 1056.6L440.9 1055.3L441.4 1054.1L441.9 1052.9L442.4 1051.6L442.9 1050.4L443.4 1049.2L443.9 1047.9L444.4 1046.6L444.9 1045.3L445.4 1044L445.9 1042.6L446.4 1041.2L446.9 1039.9L447.4 1038.5L447.9 1037.1L448.4 1035.8L448.9 1034.5L449.4 1033.2L449.9 1031.9L450.4 1030.6L450.9 1029.5M453.4 1023.9L453.9 1022.8L454.4 1021.6L454.9 1020.4L455.4 1019.2L455.9 1018L456.4 1016.7L456.9 1015.5L457.4 1014.2L457.9 1012.9L458.4 1011.7L458.9 1010.4L459.4 1009.1L459.9 1007.9L460.4 1006.7L460.9 1005.4L461.4 1004.1L461.9 1002.8L462.4 1001.5L462.9 1000.2L463.4 998.9L463.9 997.8L464.4 996.7L464.9 995.7L465.4 994.8L465.9 993.9L466.4 993.1L466.9 992.2L467.4 991.5L467.9 990.9L468.4 990.4L468.9 990L469.4 989.9L469.9 989.7L470.4 989.6L470.9 989.5L471.4 989.4L471.9 989.4L472.4 989.5L472.9 989.8L473.4 990.3L473.9 990.9L474.4 991.6L474.9 992.4L475.4 993.3L475.9 994.5L476.4 996L476.9 997.7L477.4 999.6L477.9 1001.5L478.4 1003.6L478.9 1006L479.4 1008.7L479.9 1011.5L480.4 1014.4L480.9 1017.3L481.4 1020.5L481.9 1023.8L482.4 1027.3L482.9 1030.8L483.4 1034.3L483.9 1037.6L484.4 1041L484.9 1044.4L485.4 1047.7L485.9 1051L486.4 1054.1L486.9 1057.1L487.4 1060L487.9 1062.9L488.4 1065.6L488.9 1068.2L489.4 1070.7L489.9 1073L490.4 1075.3L490.9 1077.6L491.4 1079.7L491.9 1081.5L492.4 1083.1L492.9 1084.5L493.4 1085.8L493.9 1087.1L494.4 1088.2L494.9 1088.9L495.4 1089.4L495.9 1089.4L496.4 1089.5L496.9 1089.5L497.4 1089.6L497.9 1089.6L498.4 1089.6L498.9 1089.4L499.4 1089L499.9 1088.4L500.4 1087.7L500.9 1086.9L501.4 1086.1L501.9 1085.3L502.4 1084.6L502.9 1083.8L503.4 1083L503.9 1082.2L504.4 1081.3L504.9 1080.4L505.4 1079.4L505.9 1078.5L506.4 1077.5L506.9 1076.5L507.4 1075.6L507.9 1074.6L508.4 1073.6L508.9 1072.6L509.4 1071.6L509.9 1070.6L510.4 1069.5L510.9 1068.5L511.4 1067.4L511.9 1066.4L512.4 1065.4L512.9 1064.4L513.4 1063.4L513.9 1062.4L514.4 1061.4L514.9 1060.3L515.4 1059.3L515.9 1058.3L516.4 1057.3L516.9 1056.3L517.4 1055.3L517.9 1054.3L518.4 1053.4L518.9 1052.5L519.4 1051.6L519.9 1050.7L520.4 1049.9L520.9 1049.1L521.4 1048.3L521.9 1047.6L522.4 1046.9L522.9 1046.1L523.4 1045.4L523.9 1044.7L524.4 1044.1L524.9 1043.4L525.4 1042.7L525.9 1042.1L526.4 1041.4L526.9 1040.8L527.4 1040.2L527.9 1039.6L528.4 1039L528.9 1038.4L529.4 1037.8L529.9 1037.2L530.4 1036.6L530.9 1036L531.4 1035.4L531.9 1034.8L532.4 1034.3L532.9 1033.7L533.4 1033.2L533.9 1032.6L534.4 1032.1L534.9 1031.6L535.4 1031L535.9 1030.5L536.4 1030L536.9 1029.5L537.4 1028.9L537.9 1028.4L538.4 1027.9L538.9 1027.4L539.4 1026.9L539.9 1026.4L540.4 1025.9L540.9 1025.4L541.4 1024.8L541.9 1024.3L542.4 1023.8L542.9 1023.3L543.4 1022.8L543.9 1022.3L544.4 1021.7L544.9 1021.2L545.4 1020.7L545.9 1020.2L546.4 1019.7L546.9 1019.2L547.4 1018.7L547.9 1018.2L548.4 1017.7L548.9 1017.2L549.4 1016.7L549.9 1016.2L550.4 1015.7L550.8 1015.2L551.3 1014.8L551.8 1014.3L552.3 1013.8L552.8 1013.4L553.3 1012.9L553.8 1012.5L554.3 1012L554.8 1011.6L555.3 1011.1L555.8 1010.7L556.3 1010.2L556.8 1009.8L557.3 1009.4L557.8 1008.9L558.3 1008.5L558.8 1008.1L559.3 1007.7L559.8 1007.2L560.3 1006.8L560.8 1006.4L561.3 1006L561.8 1005.6L562.3 1005.2L562.8 1004.8L563.3 1004.4L563.8 1004L564.3 1003.6L564.8 1003.2L565.3 1002.8L565.8 1002.5L566.3 1002.1L566.8 1001.7L567.3 1001.3L567.8 1001L568.3 1000.6L568.8 1000.3L569.3 999.9L569.8 999.6L570.3 999.2L570.8 998.9L571.3 998.5L571.8 998.2L572.3 997.9L572.8 997.5L573.3 997.2L573.8 996.9L574.3 996.6L574.8 996.2L575.3 995.9L575.8 995.6L576.3 995.3L576.8 995L577.3 994.7L577.8 994.3L578.3 994L578.8 993.7L579.3 993.4L579.8 993.1L580.3 992.8L580.8 992.5L581.3 992.2L581.8 991.9L582.3 991.6L582.8 991.3L583.3 991L583.8 990.6L584.3 990.3L584.8 990L585.3 989.7L585.8 989.4L586.3 989.1L586.8 988.8L587.3 988.5L587.8 988.2L588.3 987.9L588.8 987.6L589.3 987.4L589.8 987.1L590.3 986.8L590.8 986.5L591.3 986.2L591.8 985.9L592.3 985.6L592.8 985.3L593.3 985L593.8 984.7L594.3 984.5L594.8 984.2L595.3 983.9L595.8 983.6L596.3 983.3L596.8 983L597.3 982.7L597.8 982.5L598.3 982.2L598.8 981.9L599.3 981.6L599.8 981.3L600.3 981.1L600.8 980.8L601.3 980.5L601.8 980.2L602.3 979.9L602.8 979.7L603.3 979.4L603.8 979.1L604.3 978.8L604.8 978.5L605.3 978.3L605.8 978L606.3 977.7L606.8 977.4L607.3 977.2L607.8 976.9L608.3 976.6L608.8 976.3L609.3 976.1L609.8 975.8L610.3 975.5L610.8 975.2L611.3 975L611.8 974.7L612.3 974.4L612.8 974.2L613.3 973.9L613.8 973.6L614.3 973.4L614.8 973.1L615.3 972.8L615.8 972.5L616.3 972.3L616.8 972L617.3 971.8L617.8 971.5L618.3 971.2L618.8 971L619.3 970.7L619.8 970.4L620.3 970.2L620.8 969.9L621.3 969.6L621.8 969.4L622.3 969.1L622.8 968.9L623.3 968.6L623.8 968.4L624.3 968.1L624.8 967.9L625.3 967.6L625.8 967.4L626.3 967.1L626.8 966.9L627.3 966.6L627.8 966.4L628.3 966.1L628.8 965.9L629.3 965.6L629.8 965.4L630.3 965.1L630.8 964.9L631.3 964.7L631.8 964.4L632.3 964.2L632.8 963.9L633.3 963.7L633.8 963.4L634.3 963.2L634.8 962.9L635.3 962.7L635.8 962.4L636.3 962.2L636.8 961.9L637.3 961.7L637.8 961.4L638.3 961.2L638.8 960.9L639.3 960.6L639.8 960.4L640.3 960.1L640.8 959.8L641.3 959.6L641.8 959.3L642.3 959L642.8 958.8L643.3 958.5L643.8 958.2L644.3 957.9L644.8 957.6L645.3 957.3L645.8 957.1L646.3 956.8L646.8 956.5L647.3 956.2L647.8 955.9L648.3 955.6L648.8 955.3L649.3 955L649.8 954.7L650.3 954.4L650.8 954.1L651.3 953.8L651.8 953.5L652.3 953.2L652.8 952.9L653.3 952.6L653.8 952.3L654.3 952L654.8 951.7L655.3 951.4L655.8 951.1L656.3 950.8L656.8 950.6L657.3 950.3L657.8 950L658.3 949.7L658.8 949.4L659.3 949.1L659.8 948.8L660.3 948.5L660.8 948.3L661.3 948L661.8 947.7L662.3 947.4L662.8 947.2L663.3 946.9L663.8 946.6L664.3 946.3L664.8 946.1L665.3 945.8L665.8 945.5L666.3 945.3L666.8 945L667.3 944.7L667.8 944.5L668.3 944.2L668.8 943.9L669.3 943.7L669.8 943.4L670.3 943.1L670.8 942.9L671.3 942.6L671.8 942.3L672.3 942.1L672.8 941.8L673.3 941.5L673.8 941.3L674.3 941L674.8 940.7L675.3 940.4L675.8 940.2L676.3 939.9L676.8 939.6L677.3 939.3L677.8 939.1L678.3 938.8L678.8 938.5L679.3 938.2L679.8 937.9L680.3 937.6L680.8 937.4L681.3 937.1L681.8 936.8L682.3 936.5L682.8 936.2L683.3 935.9L683.8 935.6L684.3 935.3L684.8 935L685.3 934.7L685.8 934.4L686.3 934.1L686.8 933.8L687.3 933.5L687.8 933.2L688.3 932.9L688.8 932.6L689.3 932.3L689.8 932L690.3 931.7L690.8 931.4L691.3 931.1L691.8 930.7L692.3 930.4L692.8 930.1L693.3 929.8L693.8 929.5L694.3 929.2L694.8 928.9L695.3 928.6L695.8 928.3L696.3 928L696.8 927.7L697.3 927.4L697.8 927.1L698.3 926.8L698.8 926.5L699.3 926.2L699.8 925.9L700.3 925.6L700.8 925.3L701.3 925L701.8 924.7L702.3 924.4L702.8 924.1L703.3 923.8L703.8 923.4L704.3 923.1L704.8 922.8L705.3 922.5L705.8 922.2L706.3 921.9L706.8 921.6L707.3 921.2L707.8 920.9L708.3 920.6L708.8 920.2L709.3 919.9L709.8 919.6L710.3 919.2L710.8 918.9L711.3 918.5L711.8 918.2L712.3 917.8L712.8 917.4L713.3 917.1L713.8 916.7L714.3 916.4L714.8 916L715.3 915.6L715.8 915.2L716.3 914.9L716.8 914.5L717.3 914.1L717.8 913.7L718.3 913.4L718.8 913L719.3 912.6L719.8 912.2L720.3 911.8L720.8 911.4" fill="none" stroke="#ff0000" stroke-width="3.3" stroke-linecap="butt" stroke-linejoin="round"/>
<path d="M110.2 1053.9L110.7 1053.5L111.2 1053L111.7 1052.6L112.2 1052.2L112.7 1051.7L113.2 1051.3L113.7 1050.9L114.2 1050.4L114.7 1050L115.2 1049.6L115.7 1049.1L116.2 1048.7L116.7 1048.2L117.2 1047.8L117.7 1047.4L118.2 1046.9L118.7 1046.5L119.2 1046L119.7 1045.6L120.2 1045.1L120.7 1044.7L121.2 1044.3L121.7 1043.8L122.2 1043.4L122.7 1042.9L123.2 1042.5L123.7 1042L124.2 1041.6L124.7 1041.1L125.2 1040.6L125.7 1040.2L126.2 1039.7L126.7 1039.3L127.2 1038.8L127.7 1038.3L128.2 1037.9L128.7 1037.4L129.2 1036.9L129.7 1036.5L130.2 1036L130.7 1035.5L131.2 1035.1L131.7 1034.6L132.2 1034.2L132.7 1033.7L133.2 1033.2L133.7 1032.8L134.2 1032.4L134.7 1031.9L135.2 1031.5L135.7 1031L136.2 1030.6L136.7 1030.2L137.2 1029.8L137.7 1029.3L138.2 1028.9L138.7 1028.5L139.2 1028.1L139.7 1027.7L140.2 1027.3L140.7 1026.9L141.2 1026.4L141.7 1026L142.2 1025.6L142.7 1025.2L143.2 1024.8L143.7 1024.4L144.2 1024L144.7 1023.6L145.2 1023.2L145.7 1022.8L146.2 1022.4L146.7 1022L147.2 1021.6L147.7 1021.2L148.2 1020.8L148.7 1020.4L149.2 1020L149.7 1019.7L150.2 1019.3L150.7 1018.9L151.2 1018.5L151.7 1018.1L152.2 1017.7L152.7 1017.4L153.2 1017L153.7 1016.6L154.2 1016.2L154.7 1015.8L155.2 1015.5L155.7 1015.1L156.2 1014.7L156.7 1014.3L157.2 1013.9L157.7 1013.5L158.2 1013.2L158.7 1012.8L159.2 1012.4L159.7 1012L160.2 1011.6L160.7 1011.2L161.2 1010.8L161.7 1010.4L162.2 1010L162.7 1009.6L163.2 1009.2L163.7 1008.8L164.2 1008.4L164.7 1008L165.2 1007.6L165.7 1007.2L166.2 1006.8L166.7 1006.4L167.2 1006L167.7 1005.6L168.2 1005.2L168.7 1004.8L169.2 1004.4L169.7 1004L170.2 1003.6L170.7 1003.2L171.2 1002.8L171.7 1002.4L172.2 1002L172.7 1001.6L173.2 1001.2L173.7 1000.8L174.2 1000.4L174.7 1000L175.2 999.6L175.7 999.2L176.2 998.8L176.7 998.4L177.2 998L177.7 997.6L178.2 997.2L178.7 996.8L179.2 996.5L179.7 996.1L180.2 995.7L180.7 995.3L181.2 994.9L181.7 994.6L182.2 994.2L182.7 993.8L183.2 993.4L183.7 993.1L184.2 992.7L184.7 992.3L185.2 992L185.7 991.6L186.2 991.2L186.7 990.9L187.2 990.5L187.7 990.1L188.2 989.8L188.7 989.4L189.2 989L189.7 988.6L190.2 988.3L190.7 987.9L191.2 987.5L191.7 987.2L192.2 986.8L192.7 986.4L193.2 986L193.7 985.7L194.2 985.3L194.7 984.9L195.2 984.5L195.7 984.2L196.2 983.8L196.7 983.4L197.2 983L197.7 982.6L198.2 982.2L198.7 981.8L199.2 981.4L199.7 981L200.2 980.6L200.7 980.3L201.2 979.9L201.7 979.5L202.2 979.1L202.7 978.7L203.2 978.3L203.7 977.9L204.2 977.5L204.7 977.1L205.2 976.7L205.7 976.3L206.2 975.9L206.7 975.5L207.2 975L207.7 974.6L208.2 974.2L208.7 973.8L209.2 973.4L209.7 973L210.2 972.6L210.7 972.1L211.2 971.7L211.7 971.3L212.2 970.9L212.7 970.4L213.2 970L213.7 969.6L214.2 969.1L214.7 968.7L215.2 968.2L215.7 967.8L216.2 967.4L216.7 966.9L217.2 966.5L217.7 966L218.2 965.6L218.7 965.1L219.2 964.6L219.7 964.2L220.2 963.7L220.7 963.3L221.2 962.8L221.7 962.3L222.2 961.9L222.7 961.4L223.2 960.9L223.7 960.4L224.2 959.9L224.7 959.5L225.2 959L225.7 958.5L226.2 958L226.7 957.5L227.2 957L227.7 956.5L228.2 956L228.7 955.5L229.2 955.1L229.7 954.5L230.2 954L230.8 953.5L231.3 953L231.8 952.5L232.3 952L232.8 951.5L233.3 951L233.8 950.5L234.3 949.9L234.8 949.4L235.3 948.9L235.8 948.3L236.3 947.8L236.8 947.3L237.3 946.7L237.8 946.2L238.3 945.6L238.8 945.1L239.3 944.5L239.8 944L240.3 943.4L240.8 942.9L241.3 942.3L241.8 941.7L242.3 941.2L242.8 940.6L243.3 940L243.8 939.4L244.3 938.9L244.8 938.3L245.3 937.7L245.8 937.1L246.3 936.5L246.8 935.9L247.3 935.3L247.8 934.7L248.3 934.1L248.8 933.5L249.3 932.8L249.8 932.2L250.3 931.6L250.8 931L251.3 930.3L251.8 929.7L252.3 929L252.8 928.4L253.3 927.7L253.8 927L254.3 926.4L254.8 925.7L255.3 925L255.8 924.3L256.3 923.6L256.8 922.9L257.3 922.2L257.8 921.5L258.3 920.8L258.8 920.1L259.3 919.3L259.8 918.6L260.3 917.8L260.8 917.1L261.3 916.3L261.8 915.5L262.3 914.8L262.8 914L263.3 913.2L263.8 912.4L264.3 911.5L264.8 910.7L265.3 909.8L265.8 909L266.3 908.1L266.8 907.2L267.3 906.3L267.8 905.3L268.3 904.4L268.8 903.4L269.3 902.5L269.8 901.5L270.3 900.5L270.8 899.5L271.3 898.6L271.8 897.6L272.3 896.6L272.8 895.6L273.3 894.6L273.8 893.6L274.3 892.6L274.8 891.6L275.3 890.5L275.8 889.5L276.3 888.5L276.8 887.5L277.3 886.4L277.8 885.4L278.3 884.3L278.8 883.3L279.3 882.2L279.8 881.1L280.3 880L280.8 878.9L281.3 877.8L281.8 876.7L282.3 875.5L282.8 874.3L283.3 873.2L283.8 872L284.3 870.7L284.8 869.5L285.3 868.3L285.8 867L286.3 865.8L286.8 864.5L287.3 863.2L287.8 861.9L288.3 860.6L288.8 859.3L289.3 857.9L289.8 856.6L290.3 855.2L290.8 853.8L291.3 852.4L291.8 850.9L292.3 849.5L292.8 848L293.3 846.6L293.8 845.1L294.3 843.6L294.8 842L295.3 840.5L295.8 838.9L296.3 837.3L296.8 835.6L297.3 834L297.8 832.4L298.3 830.7L298.8 829.1L299.3 827.5L299.8 825.8L300.3 824L300.8 822.2L301.3 820.5L301.8 818.8L302.3 817.3L302.8 816L303.3 814.8L303.8 813.6L304.3 812.5L304.8 811.6L305.3 810.9L305.8 810.5L306.3 810.1L306.8 809.9L307.3 809.7L307.8 809.6L308.3 809.7L308.8 809.9L309.3 810.2L309.8 810.6L310.3 811.1L310.8 811.7L311.3 812.6L311.8 813.7L312.3 815.2L312.8 816.9L313.3 818.9L313.8 821.8L314.3 825.8L314.8 830.5L315.3 835.4L315.8 840.4L316.3 845.9L316.8 851.8L317.3 858L317.8 864.4L318.3 871L318.8 878L319.3 885.3L319.8 893.1L320.3 901.4L320.8 909.7L321.3 917.4L321.8 925L322.3 932.2L322.8 938.9L323.3 944.9L323.8 950.6L324.3 955.9L324.8 960.9L325.3 965.6L325.8 970L326.3 974.2L326.8 977.9L327.3 981.4L327.8 984.7L328.3 987.5L328.8 989.8L329.3 992.1L329.8 994.1L330.3 995.6L330.8 996.2L331.3 996L331.8 995.5L332.3 994.8L332.8 993.9L333.3 993L333.8 991.9L334.3 990.4L334.8 988.7L335.3 986.7L335.8 984.5L336.3 982.4L336.8 980.3L337.3 978.4L337.8 976.4L338.3 974.4L338.8 972.4L339.3 970.3L339.8 968.3L340.3 966.2L340.8 964.1L341.3 962L341.8 959.9L342.3 957.8L342.8 955.7L343.3 953.5L343.8 951.3L344.3 949.1L344.8 946.7L345.3 944.4L345.8 941.9L346.3 939.4L346.8 936.8L347.3 934.3L347.8 931.8L348.3 929.3L348.8 926.9L349.3 924.4L349.8 922L350.3 919.5L350.8 917.1M353.1 904L353.6 901.6L354.1 899.1L354.6 896.6L355.2 894L355.7 891.4L356.2 888.7L356.7 886L357.2 883.4L357.7 880.6L358.2 877.8L358.7 874.8L359.3 871.5L359.8 867.9L360.3 864.1L360.8 860.1M380.4 818.5L380.9 825.5L381.4 833L381.9 841.3L382.4 850.3L382.9 859.3L383.4 867.5L383.9 875.6L384.4 884.2L384.9 893.6L385.4 903.6L385.9 913.6L386.4 924.1L386.9 935.9L387.4 949L387.9 962.3L388.4 979L388.9 1003L389.4 1019.8L389.9 1035.1L390.4 1051.7L390.9 1068.3L391.4 1083.3L391.9 1097.5L392.4 1110.2L392.9 1120.8L393.4 1129.7L393.9 1137.7L394.4 1144.9L394.9 1151.6L395.4 1158L395.9 1163.8L396.4 1168.8L396.9 1173.3L397.4 1177.6L397.9 1181.5L398.4 1184.7L398.9 1187.1L399.4 1188.8L399.9 1190.3L400.4 1191.7L400.9 1192.8L401.4 1193.5L401.9 1193.9L402.4 1193.8L402.9 1193.3L403.4 1192.6L403.9 1191.6L404.4 1190.5L404.9 1189.3L405.4 1188.2L405.9 1186.8L406.4 1185.2L406.9 1183.3L407.4 1181.3L407.9 1179.2L408.4 1177.1L408.9 1175L409.4 1172.9L409.9 1170.8L410.4 1168.7L410.9 1166.5L411.4 1164.3L411.9 1162.1L412.4 1159.8L412.9 1157.6L413.4 1155.3L413.9 1153.1L414.4 1150.9L414.9 1148.7L415.4 1146.5L415.9 1144.2L416.4 1142L416.9 1139.8L417.4 1137.5L417.9 1135.4L418.4 1133.2L418.9 1131.1L419.4 1129L419.9 1126.9L420.4 1124.9L420.9 1122.8L421.4 1120.8L421.9 1118.8L422.4 1116.8L422.9 1114.9L423.4 1112.9L423.9 1111L424.4 1109.1L424.9 1107.1L425.4 1105.2L425.9 1103.3L426.4 1101.5L426.9 1099.6L427.4 1097.7L427.9 1095.9L428.4 1094L428.9 1092.2L429.4 1090.4L429.9 1088.7L430.4 1086.9L430.9 1085.2L431.4 1083.5L431.9 1081.8L432.4 1080.2L432.9 1078.5L433.4 1076.9L433.9 1075.2L434.4 1073.6L434.9 1072L435.4 1070.5L435.9 1068.9L436.4 1067.4L436.9 1066L437.4 1064.5L437.9 1063.1L438.4 1061.7L438.9 1060.4L439.4 1059.1L439.9 1057.8L440.4 1056.6L440.9 1055.3L441.4 1054.1L441.9 1052.9L442.4 1051.6L442.9 1050.4L443.4 1049.2L443.9 1047.9L444.4 1046.6L444.9 1045.3L445.4 1044L445.9 1042.6L446.4 1041.2L446.9 1039.9L447.4 1038.5L447.9 1037.1L448.4 1035.8L448.9 1034.5L449.4 1033.2L449.9 1031.9L450.4 1030.6L450.9 1029.5M453.4 1023.9L453.9 1022.8L454.4 1021.6L454.9 1020.4L455.4 1019.2L455.9 1018L456.4 1016.7L456.9 1015.5L457.4 1014.2L457.9 1012.9L458.4 1011.7L458.9 1010.4L459.4 1009.1L459.9 1007.9L460.4 1006.7L460.9 1005.4L461.4 1004L461.9 1002.7L462.4 1001.3L462.9 1000L463.4 998.8L463.9 997.6L464.4 996.5L464.9 995.6L465.4 994.9L465.9 994.2L466.4 993.5L466.9 992.8L467.4 992.3L467.9 991.8L468.4 991.6L468.9 991.4L469.4 991.4L469.9 991.3L470.4 991.2L470.9 991.2L471.4 991.2L471.9 991.4L472.4 991.6L472.9 991.9L473.4 992.3L473.9 992.8L474.4 993.3L474.9 993.8L475.4 994.6L475.9 995.6L476.4 996.9L476.9 998.3L477.4 999.8L477.9 1001.4L478.4 1003.4L478.9 1005.8L479.4 1008.5L479.9 1011.4L480.4 1014.3L480.9 1017.3L481.4 1020.5L481.9 1023.8L482.4 1027.3L482.9 1030.8L483.4 1034.3L483.9 1037.6L484.4 1041L484.9 1044.4L485.4 1047.7L485.9 1051L486.4 1054.1L486.9 1057.1L487.4 1060.1L487.9 1063L488.4 1065.8L488.9 1068.5L489.4 1070.8L489.9 1072.9L490.4 1074.8L490.9 1076.7L491.4 1078.3L491.9 1079.6L492.4 1080.6L492.9 1081.5L493.4 1082.2L493.9 1082.9L494.4 1083.4L494.9 1083.6L495.4 1083.6L495.9 1083.5L496.4 1083.4L496.9 1083.3L497.4 1083.2L497.9 1083L498.4 1082.9L498.9 1082.7L499.4 1082.5L499.9 1082.2L500.4 1081.9L500.9 1081.6L501.4 1081.2L501.9 1080.9L502.4 1080.5L502.9 1080.2L503.4 1079.8L503.9 1079.4L504.4 1078.9L504.9 1078.5L505.4 1078L505.9 1077.4L506.4 1076.9L506.9 1076.3L507.4 1075.6L507.9 1074.9L508.4 1074L508.9 1073.1L509.4 1072.1L509.9 1071L510.4 1069.9L510.9 1068.8L511.4 1067.7L511.9 1066.5L512.4 1065.4L512.9 1064.4L513.4 1063.4L513.9 1062.4L514.4 1061.4L514.9 1060.3L515.4 1059.3L515.9 1058.3L516.4 1057.3L516.9 1056.3L517.4 1055.3L517.9 1054.3L518.4 1053.4L518.9 1052.5L519.4 1051.6L519.9 1050.7L520.4 1049.9L520.9 1049.1L521.4 1048.3L521.9 1047.6L522.4 1046.8L522.9 1046.1L523.4 1045.4L523.9 1044.7L524.4 1044L524.9 1043.3L525.4 1042.7L525.9 1042L526.4 1041.4L526.9 1040.7L527.4 1040.1L527.9 1039.5L528.4 1038.9L528.9 1038.3L529.4 1037.7L529.9 1037.2L530.4 1036.6L530.9 1036L531.4 1035.5L531.9 1035L532.4 1034.4L532.9 1033.9L533.4 1033.4L533.9 1032.9L534.4 1032.5L534.9 1032L535.4 1031.5L535.9 1031L536.4 1030.6L536.9 1030.1L537.4 1029.6L537.9 1029.2L538.4 1028.7L538.9 1028.2L539.4 1027.8L539.9 1027.3L540.4 1026.8L540.9 1026.3L541.4 1025.9L541.9 1025.4L542.4 1024.9L542.9 1024.4L543.4 1023.9L543.9 1023.4L544.4 1022.9L544.9 1022.4L545.4 1021.9L545.9 1021.4L546.4 1020.9L546.9 1020.4L547.4 1019.9L547.9 1019.4L548.4 1018.9L548.9 1018.4L549.4 1017.9L549.9 1017.5L550.4 1017L550.8 1016.5L551.3 1016L551.8 1015.6L552.3 1015.1L552.8 1014.7L553.3 1014.2L553.8 1013.8L554.3 1013.4L554.8 1012.9L555.3 1012.5L555.8 1012.1L556.3 1011.6L556.8 1011.2L557.3 1010.8L557.8 1010.3L558.3 1009.9L558.8 1009.5L559.3 1009.1L559.8 1008.7L560.3 1008.3L560.8 1007.9L561.3 1007.4L561.8 1007L562.3 1006.6L562.8 1006.3L563.3 1005.9L563.8 1005.5L564.3 1005.1L564.8 1004.7L565.3 1004.3L565.8 1004L566.3 1003.6L566.8 1003.2L567.3 1002.8L567.8 1002.5L568.3 1002.1L568.8 1001.8L569.3 1001.4L569.8 1001.1L570.3 1000.7L570.8 1000.4L571.3 1000.1L571.8 999.7L572.3 999.4L572.8 999.1L573.3 998.7L573.8 998.4L574.3 998.1L574.8 997.8L575.3 997.4L575.8 997.1L576.3 996.8L576.8 996.5L577.3 996.2L577.8 995.9L578.3 995.6L578.8 995.2L579.3 994.9L579.8 994.6L580.3 994.3L580.8 994L581.3 993.7L581.8 993.4L582.3 993.1L582.8 992.8L583.3 992.5L583.8 992.1L584.3 991.8L584.8 991.5L585.3 991.2L585.8 990.9L586.3 990.6L586.8 990.3L587.3 990L587.8 989.7L588.3 989.4L588.8 989.1L589.3 988.8L589.8 988.5L590.3 988.2L590.8 987.9L591.3 987.6L591.8 987.3L592.3 987L592.8 986.7L593.3 986.4L593.8 986.1L594.3 985.9L594.8 985.6L595.3 985.3L595.8 985L596.3 984.7L596.8 984.4L597.3 984.1L597.8 983.8L598.3 983.5L598.8 983.2L599.3 983L599.8 982.7L600.3 982.4L600.8 982.1L601.3 981.8L601.8 981.5L602.3 981.2L602.8 981L603.3 980.7L603.8 980.4L604.3 980.1L604.8 979.8L605.3 979.5L605.8 979.2L606.3 979L606.8 978.7L607.3 978.4L607.8 978.1L608.3 977.8L608.8 977.5L609.3 977.3L609.8 977L610.3 976.7L610.8 976.4L611.3 976.1L611.8 975.9L612.3 975.6L612.8 975.3L613.3 975L613.8 974.8L614.3 974.5L614.8 974.2L615.3 973.9L615.8 973.7L616.3 973.4L616.8 973.1L617.3 972.8L617.8 972.6L618.3 972.3L618.8 972L619.3 971.7L619.8 971.5L620.3 971.2L620.8 970.9L621.3 970.7L621.8 970.4L622.3 970.1L622.8 969.8L623.3 969.6L623.8 969.3L624.3 969.1L624.8 968.8L625.3 968.5L625.8 968.3L626.3 968L626.8 967.8L627.3 967.5L627.8 967.3L628.3 967L628.8 966.7L629.3 966.5L629.8 966.2L630.3 966L630.8 965.7L631.3 965.5L631.8 965.2L632.3 965L632.8 964.7L633.3 964.5L633.8 964.2L634.3 963.9L634.8 963.7L635.3 963.4L635.8 963.2L636.3 962.9L636.8 962.6L637.3 962.4L637.8 962.1L638.3 961.8L638.8 961.6L639.3 961.3L639.8 961L640.3 960.7L640.8 960.5L641.3 960.2L641.8 959.9L642.3 959.6L642.8 959.3L643.3 959L643.8 958.7L644.3 958.4L644.8 958.1L645.3 957.8L645.8 957.5L646.3 957.2L646.8 956.9L647.3 956.6L647.8 956.3L648.3 956L648.8 955.6L649.3 955.3L649.8 955L650.3 954.7L650.8 954.4L651.3 954.1L651.8 953.8L652.3 953.4L652.8 953.1L653.3 952.8L653.8 952.5L654.3 952.2L654.8 951.9L655.3 951.6L655.8 951.2L656.3 950.9L656.8 950.6L657.3 950.3L657.8 950L658.3 949.7L658.8 949.4L659.3 949.1L659.8 948.8L660.3 948.5L660.8 948.3L661.3 948L661.8 947.7L662.3 947.4L662.8 947.1L663.3 946.9L663.8 946.6L664.3 946.3L664.8 946.1L665.3 945.8L665.8 945.5L666.3 945.3L666.8 945L667.3 944.7L667.8 944.5L668.3 944.2L668.8 943.9L669.3 943.7L669.8 943.4L670.3 943.2L670.8 942.9L671.3 942.6L671.8 942.4L672.3 942.1L672.8 941.8L673.3 941.6L673.8 941.3L674.3 941L674.8 940.8L675.3 940.5L675.8 940.2L676.3 939.9L676.8 939.7L677.3 939.4L677.8 939.1L678.3 938.8L678.8 938.5L679.3 938.2L679.8 937.9L680.3 937.6L680.8 937.3L681.3 937L681.8 936.7L682.3 936.4L682.8 936.1L683.3 935.8L683.8 935.5L684.3 935.2L684.8 934.8L685.3 934.5L685.8 934.2L686.3 933.9L686.8 933.6L687.3 933.2L687.8 932.9L688.3 932.6L688.8 932.2L689.3 931.9L689.8 931.6L690.3 931.3L690.8 930.9L691.3 930.6L691.8 930.3L692.3 929.9L692.8 929.6L693.3 929.3L693.8 928.9L694.3 928.6L694.8 928.3L695.3 927.9L695.8 927.6L696.3 927.3L696.8 926.9L697.3 926.6L697.8 926.3L698.3 925.9L698.8 925.6L699.3 925.3L699.8 925L700.3 924.6L700.8 924.3L701.3 924L701.8 923.6L702.3 923.3L702.8 923L703.3 922.6L703.8 922.3L704.3 921.9L704.8 921.6L705.3 921.2L705.8 920.9L706.3 920.5L706.8 920.2L707.3 919.8L707.8 919.5L708.3 919.1L708.8 918.7L709.3 918.4L709.8 918L710.3 917.6L710.8 917.2L711.3 916.8L711.8 916.4L712.3 916.1L712.8 915.7L713.3 915.3L713.8 914.9L714.3 914.5L714.8 914.1L715.3 913.6L715.8 913.2L716.3 912.8L716.8 912.4L717.3 912L717.8 911.6L718.3 911.1L718.8 910.7L719.3 910.3L719.8 909.9L720.3 909.4L720.8 909" fill="none" stroke="#00ff00" stroke-width="3.3" stroke-linecap="butt" stroke-linejoin="round" stroke-dasharray="15 13.5"/>
<path d="M110.2 1053.9L110.7 1053.5L111.2 1053L111.7 1052.6L112.2 1052.2L112.7 1051.7L113.2 1051.3L113.7 1050.9L114.2 1050.4L114.7 1050L115.2 1049.6L115.7 1049.1L116.2 1048.7L116.7 1048.2L117.2 1047.8L117.7 1047.4L118.2 1046.9L118.7 1046.5L119.2 1046L119.7 1045.6L120.2 1045.1L120.7 1044.7L121.2 1044.3L121.7 1043.8L122.2 1043.4L122.7 1042.9L123.2 1042.5L123.7 1042L124.2 1041.6L124.7 1041.1L125.2 1040.6L125.7 1040.2L126.2 1039.7L126.7 1039.3L127.2 1038.8L127.7 1038.3L128.2 1037.9L128.7 1037.4L129.2 1036.9L129.7 1036.5L130.2 1036L130.7 1035.5L131.2 1035.1L131.7 1034.6L132.2 1034.2L132.7 1033.7L133.2 1033.2L133.7 1032.8L134.2 1032.4L134.7 1031.9L135.2 1031.5L135.7 1031L136.2 1030.6L136.7 1030.2L137.2 1029.8L137.7 1029.3L138.2 1028.9L138.7 1028.5L139.2 1028.1L139.7 1027.7L140.2 1027.3L140.7 1026.9L141.2 1026.4L141.7 1026L142.2 1025.6L142.7 1025.2L143.2 1024.8L143.7 1024.4L144.2 1024L144.7 1023.6L145.2 1023.2L145.7 1022.8L146.2 1022.4L146.7 1022L147.2 1021.6L147.7 1021.2L148.2 1020.8L148.7 1020.4L149.2 1020L149.7 1019.7L150.2 1019.3L150.7 1018.9L151.2 1018.5L151.7 1018.1L152.2 1017.7L152.7 1017.4L153.2 1017L153.7 1016.6L154.2 1016.2L154.7 1015.8L155.2 1015.5L155.7 1015.1L156.2 1014.7L156.7 1014.3L157.2 1013.9L157.7 1013.5L158.2 1013.2L158.7 1012.8L159.2 1012.4L159.7 1012L160.2 1011.6L160.7 1011.2L161.2 1010.8L161.7 1010.4L162.2 1010L162.7 1009.6L163.2 1009.2L163.7 1008.8L164.2 1008.4L164.7 1008L165.2 1007.6L165.7 1007.2L166.2 1006.8L166.7 1006.4L167.2 1006L167.7 1005.6L168.2 1005.2L168.7 1004.8L169.2 1004.4L169.7 1004L170.2 1003.6L170.7 1003.2L171.2 1002.8L171.7 1002.4L172.2 1002L172.7 1001.6L173.2 1001.2L173.7 1000.8L174.2 1000.4L174.7 1000L175.2 999.6L175.7 999.2L176.2 998.8L176.7 998.4L177.2 998L177.7 997.6L178.2 997.2L178.7 996.8L179.2 996.5L179.7 996.1L180.2 995.7L180.7 995.3L181.2 994.9L181.7 994.6L182.2 994.2L182.7 993.8L183.2 993.4L183.7 993.1L184.2 992.7L184.7 992.3L185.2 992L185.7 991.6L186.2 991.2L186.7 990.9L187.2 990.5L187.7 990.1L188.2 989.8L188.7 989.4L189.2 989L189.7 988.6L190.2 988.3L190.7 987.9L191.2 987.5L191.7 987.2L192.2 986.8L192.7 986.4L193.2 986L193.7 985.7L194.2 985.3L194.7 984.9L195.2 984.5L195.7 984.2L196.2 983.8L196.7 983.4L197.2 983L197.7 982.6L198.2 982.2L198.7 981.8L199.2 981.4L199.7 981L200.2 980.6L200.7 980.3L201.2 979.9L201.7 979.5L202.2 979.1L202.7 978.7L203.2 978.3L203.7 977.9L204.2 977.5L204.7 977.1L205.2 976.7L205.7 976.3L206.2 975.9L206.7 975.5L207.2 975L207.7 974.6L208.2 974.2L208.7 973.8L209.2 973.4L209.7 973L210.2 972.6L210.7 972.1L211.2 971.7L211.7 971.3L212.2 970.9L212.7 970.4L213.2 970L213.7 969.6L214.2 969.1L214.7 968.7L215.2 968.2L215.7 967.8L216.2 967.4L216.7 966.9L217.2 966.5L217.7 966L218.2 965.6L218.7 965.1L219.2 964.6L219.7 964.2L220.2 963.7L220.7 963.3L221.2 962.8L221.7 962.3L222.2 961.9L222.7 961.4L223.2 960.9L223.7 960.4L224.2 959.9L224.7 959.5L225.2 959L225.7 958.5L226.2 958L226.7 957.5L227.2 957L227.7 956.5L228.2 956L228.7 955.5L229.2 955.1L229.7 954.5L230.2 954L230.8 953.5L231.3 953L231.8 952.5L232.3 952L232.8 951.5L233.3 951L233.8 950.5L234.3 949.9L234.8 949.4L235.3 948.9L235.8 948.3L236.3 947.8L236.8 947.3L237.3 946.7L237.8 946.2L238.3 945.6L238.8 945.1L239.3 944.5L239.8 944L240.3 943.4L240.8 942.9L241.3 942.3L241.8 941.7L242.3 941.2L242.8 940.6L243.3 940L243.8 939.4L244.3 938.9L244.8 938.3L245.3 937.7L245.8 937.1L246.3 936.5L246.8 935.9L247.3 935.3L247.8 934.7L248.3 934.1L248.8 933.5L249.3 932.8L249.8 932.2L250.3 931.6L250.8 931L251.3 930.3L251.8 929.7L252.3 929L252.8 928.4L253.3 927.7L253.8 927L254.3 926.4L254.8 925.7L255.3 925L255.8 924.3L256.3 923.6L256.8 922.9L257.3 922.2L257.8 921.5L258.3 920.8L258.8 920.1L259.3 919.3L259.8 918.6L260.3 917.8L260.8 917.1L261.3 916.3L261.8 915.5L262.3 914.8L262.8 914L263.3 913.2L263.8 912.4L264.3 911.5L264.8 910.7L265.3 909.8L265.8 909L266.3 908.1L266.8 907.2L267.3 906.3L267.8 905.3L268.3 904.4L268.8 903.4L269.3 902.5L269.8 901.5L270.3 900.5L270.8 899.5L271.3 898.6L271.8 897.6L272.3 896.6L272.8 895.6L273.3 894.6L273.8 893.6L274.3 892.6L274.8 891.6L275.3 890.5L275.8 889.5L276.3 888.5L276.8 887.5L277.3 886.4L277.8 885.4L278.3 884.3L278.8 883.3L279.3 882.2L279.8 881.1L280.3 880L280.8 878.9L281.3 877.8L281.8 876.7L282.3 875.5L282.8 874.3L283.3 873.2L283.8 872L284.3 870.7L284.8 869.5L285.3 868.3L285.8 867L286.3 865.8L286.8 864.5L287.3 863.2L287.8 861.9L288.3 860.6L288.8 859.3L289.3 857.9L289.8 856.6L290.3 855.2L290.8 853.8L291.3 852.4L291.8 850.9L292.3 849.5L292.8 848L293.3 846.6L293.8 845.1L294.3 843.6L294.8 842L295.3 840.5L295.8 838.9L296.3 837.3L296.8 835.6L297.3 834L297.8 832.4L298.3 830.7L298.8 829.1L299.3 827.5L299.8 825.8L300.3 824L300.8 822.2L301.3 820.5L301.8 818.8L302.3 817.3L302.8 816L303.3 814.8L303.8 813.6L304.3 812.5L304.8 811.6L305.3 810.9L305.8 810.5L306.3 810.1L306.8 809.9L307.3 809.7L307.8 809.6L308.3 809.7L308.8 809.9L309.3 810.2L309.8 810.6L310.3 811.1L310.8 811.7L311.3 812.6L311.8 813.7L312.3 815.2L312.8 816.9L313.3 818.9L313.8 821.8L314.3 825.8L314.8 830.5L315.3 835.4L315.8 840.4L316.3 845.9L316.8 851.8L317.3 858L317.8 864.4L318.3 871L318.8 878L319.3 885.3L319.8 893.1L320.3 901.4L320.8 909.7L321.3 917.4L321.8 925L322.3 932.2L322.8 938.9L323.3 944.9L323.8 950.6L324.3 955.9L324.8 960.9L325.3 965.6L325.8 970L326.3 974.2L326.8 977.9L327.3 981.4L327.8 984.7L328.3 987.5L328.8 989.8L329.3 992.1L329.8 994.1L330.3 995.6L330.8 996.2L331.3 996L331.8 995.5L332.3 994.8L332.8 993.9L333.3 993L333.8 991.9L334.3 990.4L334.8 988.7L335.3 986.7L335.8 984.5L336.3 982.4L336.8 980.3L337.3 978.4L337.8 976.4L338.3 974.4L338.8 972.4L339.3 970.3L339.8 968.3L340.3 966.2L340.8 964.1L341.3 962L341.8 959.9L342.3 957.8L342.8 955.7L343.3 953.5L343.8 951.3L344.3 949.1L344.8 946.7L345.3 944.4L345.8 941.9L346.3 939.4L346.8 936.8L347.3 934.3L347.8 931.8L348.3 929.3L348.8 926.9L349.3 924.4L349.8 922L350.3 919.5L350.8 917.1M353.1 904L353.6 901.6L354.1 899.1L354.6 896.6L355.2 894L355.7 891.4L356.2 888.7L356.7 886L357.2 883.4L357.7 880.6L358.2 877.8L358.7 874.8L359.3 871.5L359.8 867.9L360.3 864.1L360.8 860.1M380.4 818.5L380.9 825.5L381.4 833L381.9 841.3L382.4 850.3L382.9 859.3L383.4 867.5L383.9 875.6L384.4 884.2L384.9 893.6L385.4 903.6L385.9 913.6L386.4 924.1L386.9 935.9L387.4 949L387.9 962.3L388.4 979L388.9 1003L389.4 1019.8L389.9 1035.1L390.4 1051.7L390.9 1068.3L391.4 1083.3L391.9 1097.5L392.4 1110.2L392.9 1120.8L393.4 1129.7L393.9 1137.7L394.4 1144.9L394.9 1151.6L395.4 1158L395.9 1163.8L396.4 1168.8L396.9 1173.3L397.4 1177.6L397.9 1181.5L398.4 1184.7L398.9 1187.1L399.4 1188.8L399.9 1190.3L400.4 1191.7L400.9 1192.8L401.4 1193.5L401.9 1193.9L402.4 1193.8L402.9 1193.3L403.4 1192.6L403.9 1191.6L404.4 1190.5L404.9 1189.3L405.4 1188.2L405.9 1186.8L406.4 1185.2L406.9 1183.3L407.4 1181.3L407.9 1179.2L408.4 1177.1L408.9 1175L409.4 1172.9L409.9 1170.8L410.4 1168.7L410.9 1166.5L411.4 1164.3L411.9 1162.1L412.4 1159.8L412.9 1157.6L413.4 1155.3L413.9 1153.1L414.4 1150.9L414.9 1148.7L415.4 1146.5L415.9 1144.2L416.4 1142L416.9 1139.8L417.4 1137.5L417.9 1135.4L418.4 1133.2L418.9 1131.1L419.4 1129L419.9 1126.9L420.4 1124.9L420.9 1122.8L421.4 1120.8L421.9 1118.8L422.4 1116.8L422.9 1114.9L423.4 1112.9L423.9 1111L424.4 1109.1L424.9 1107.1L425.4 1105.2L425.9 1103.3L426.4 1101.5L426.9 1099.6L427.4 1097.7L427.9 1095.9L428.4 1094L428.9 1092.2L429.4 1090.4L429.9 1088.7L430.4 1086.9L430.9 1085.2L431.4 1083.5L431.9 1081.8L432.4 1080.2L432.9 1078.5L433.4 1076.9L433.9 1075.2L434.4 1073.6L434.9 1072L435.4 1070.5L435.9 1068.9L436.4 1067.4L436.9 1066L437.4 1064.5L437.9 1063.1L438.4 1061.7L438.9 1060.4L439.4 1059.1L439.9 1057.8L440.4 1056.6L440.9 1055.3L441.4 1054.1L441.9 1052.9L442.4 1051.6L442.9 1050.4L443.4 1049.2L443.9 1047.9L444.4 1046.6L444.9 1045.3L445.4 1044L445.9 1042.6L446.4 1041.2L446.9 1039.9L447.4 1038.5L447.9 1037.1L448.4 1035.8L448.9 1034.5L449.4 1033.2L449.9 1031.9L450.4 1030.6L450.9 1029.5M453.4 1023.9L453.9 1022.8L454.4 1021.6L454.9 1020.4L455.4 1019.2L455.9 1018L456.4 1016.7L456.9 1015.5L457.4 1014.2L457.9 1012.9L458.4 1011.7L458.9 1010.4L459.4 1009.1L459.9 1007.9L460.4 1006.7L460.9 1005.4L461.4 1004L461.9 1002.7L462.4 1001.3L462.9 1000L463.4 998.8L463.9 997.6L464.4 996.5L464.9 995.6L465.4 994.9L465.9 994.2L466.4 993.5L466.9 992.8L467.4 992.3L467.9 991.8L468.4 991.6L468.9 991.4L469.4 991.4L469.9 991.3L470.4 991.2L470.9 991.2L471.4 991.2L471.9 991.4L472.4 991.6L472.9 991.9L473.4 992.3L473.9 992.8L474.4 993.3L474.9 993.8L475.4 994.6L475.9 995.6L476.4 996.9L476.9 998.3L477.4 999.8L477.9 1001.4L478.4 1003.4L478.9 1005.8L479.4 1008.5L479.9 1011.4L480.4 1014.3L480.9 1017.3L481.4 1020.5L481.9 1023.8L482.4 1027.3L482.9 1030.8L483.4 1034.3L483.9 1037.6L484.4 1041L484.9 1044.4L485.4 1047.7L485.9 1051L486.4 1054.1L486.9 1057.1L487.4 1060.1L487.9 1063L488.4 1065.8L488.9 1068.5L489.4 1070.8L489.9 1072.9L490.4 1074.8L490.9 1076.7L491.4 1078.3L491.9 1079.6L492.4 1080.6L492.9 1081.5L493.4 1082.2L493.9 1082.9L494.4 1083.4L494.9 1083.6L495.4 1083.6L495.9 1083.5L496.4 1083.4L496.9 1083.3L497.4 1083.2L497.9 1083L498.4 1082.9L498.9 1082.7L499.4 1082.5L499.9 1082.2L500.4 1081.9L500.9 1081.6L501.4 1081.2L501.9 1080.9L502.4 1080.5L502.9 1080.2L503.4 1079.8L503.9 1079.4L504.4 1078.9L504.9 1078.5L505.4 1078L505.9 1077.4L506.4 1076.9L506.9 1076.3L507.4 1075.6L507.9 1074.9L508.4 1074L508.9 1073.1L509.4 1072.1L509.9 1071L510.4 1069.9L510.9 1068.8L511.4 1067.7L511.9 1066.5L512.4 1065.4L512.9 1064.4L513.4 1063.4L513.9 1062.4L514.4 1061.4L514.9 1060.3L515.4 1059.3L515.9 1058.3L516.4 1057.3L516.9 1056.3L517.4 1055.3L517.9 1054.3L518.4 1053.4L518.9 1052.5L519.4 1051.6L519.9 1050.7L520.4 1049.9L520.9 1049.1L521.4 1048.3L521.9 1047.6L522.4 1046.8L522.9 1046.1L523.4 1045.4L523.9 1044.7L524.4 1044L524.9 1043.3L525.4 1042.7L525.9 1042L526.4 1041.4L526.9 1040.7L527.4 1040.1L527.9 1039.5L528.4 1038.9L528.9 1038.3L529.4 1037.7L529.9 1037.2L530.4 1036.6L530.9 1036L531.4 1035.5L531.9 1035L532.4 1034.4L532.9 1033.9L533.4 1033.4L533.9 1032.9L534.4 1032.5L534.9 1032L535.4 1031.5L535.9 1031L536.4 1030.6L536.9 1030.1L537.4 1029.6L537.9 1029.2L538.4 1028.7L538.9 1028.2L539.4 1027.8L539.9 1027.3L540.4 1026.8L540.9 1026.3L541.4 1025.9L541.9 1025.4L542.4 1024.9L542.9 1024.4L543.4 1023.9L543.9 1023.4L544.4 1022.9L544.9 1022.4L545.4 1021.9L545.9 1021.4L546.4 1020.9L546.9 1020.4L547.4 1019.9L547.9 1019.4L548.4 1018.9L548.9 1018.4L549.4 1017.9L549.9 1017.5L550.4 1017L550.8 1016.5L551.3 1016L551.8 1015.6L552.3 1015.1L552.8 1014.7L553.3 1014.2L553.8 1013.8L554.3 1013.4L554.8 1012.9L555.3 1012.5L555.8 1012.1L556.3 1011.6L556.8 1011.2L557.3 1010.8L557.8 1010.3L558.3 1009.9L558.8 1009.5L559.3 1009.1L559.8 1008.7L560.3 1008.3L560.8 1007.9L561.3 1007.4L561.8 1007L562.3 1006.6L562.8 1006.3L563.3 1005.9L563.8 1005.5L564.3 1005.1L564.8 1004.7L565.3 1004.3L565.8 1004L566.3 1003.6L566.8 1003.2L567.3 1002.8L567.8 1002.5L568.3 1002.1L568.8 1001.8L569.3 1001.4L569.8 1001.1L570.3 1000.7L570.8 1000.4L571.3 1000.1L571.8 999.7L572.3 999.4L572.8 999.1L573.3 998.7L573.8 998.4L574.3 998.1L574.8 997.8L575.3 997.4L575.8 997.1L576.3 996.8L576.8 996.5L577.3 996.2L577.8 995.9L578.3 995.6L578.8 995.2L579.3 994.9L579.8 994.6L580.3 994.3L580.8 994L581.3 993.7L581.8 993.4L582.3 993.1L582.8 992.8L583.3 992.5L583.8 992.1L584.3 991.8L584.8 991.5L585.3 991.2L585.8 990.9L586.3 990.6L586.8 990.3L587.3 990L587.8 989.7L588.3 989.4L588.8 989.1L589.3 988.8L589.8 988.5L590.3 988.2L590.8 987.9L591.3 987.6L591.8 987.3L592.3 987L592.8 986.7L593.3 986.4L593.8 986.1L594.3 985.9L594.8 985.6L595.3 985.3L595.8 985L596.3 984.7L596.8 984.4L597.3 984.1L597.8 983.8L598.3 983.5L598.8 983.2L599.3 983L599.8 982.7L600.3 982.4L600.8 982.1L601.3 981.8L601.8 981.5L602.3 981.2L602.8 981L603.3 980.7L603.8 980.4L604.3 980.1L604.8 979.8L605.3 979.5L605.8 979.2L606.3 979L606.8 978.7L607.3 978.4L607.8 978.1L608.3 977.8L608.8 977.5L609.3 977.3L609.8 977L610.3 976.7L610.8 976.4L611.3 976.1L611.8 975.9L612.3 975.6L612.8 975.3L613.3 975L613.8 974.8L614.3 974.5L614.8 974.2L615.3 973.9L615.8 973.7L616.3 973.4L616.8 973.1L617.3 972.8L617.8 972.6L618.3 972.3L618.8 972L619.3 971.7L619.8 971.5L620.3 971.2L620.8 970.9L621.3 970.7L621.8 970.4L622.3 970.1L622.8 969.8L623.3 969.6L623.8 969.3L624.3 969.1L624.8 968.8L625.3 968.5L625.8 968.3L626.3 968L626.8 967.8L627.3 967.5L627.8 967.3L628.3 967L628.8 966.7L629.3 966.5L629.8 966.2L630.3 966L630.8 965.7L631.3 965.5L631.8 965.2L632.3 965L632.8 964.7L633.3 964.5L633.8 964.2L634.3 963.9L634.8 963.7L635.3 963.4L635.8 963.2L636.3 962.9L636.8 962.6L637.3 962.4L637.8 962.1L638.3 961.8L638.8 961.6L639.3 961.3L639.8 961L640.3 960.7L640.8 960.5L641.3 960.2L641.8 959.9L642.3 959.6L642.8 959.3L643.3 959L643.8 958.7L644.3 958.4L644.8 958.1L645.3 957.8L645.8 957.5L646.3 957.2L646.8 956.9L647.3 956.6L647.8 956.3L648.3 956L648.8 955.6L649.3 955.3L649.8 955L650.3 954.7L650.8 954.4L651.3 954.1L651.8 953.8L652.3 953.4L652.8 953.1L653.3 952.8L653.8 952.5L654.3 952.2L654.8 951.9L655.3 951.6L655.8 951.2L656.3 950.9L656.8 950.6L657.3 950.3L657.8 950L658.3 949.7L658.8 949.4L659.3 949.1L659.8 948.8L660.3 948.5L660.8 948.3L661.3 948L661.8 947.7L662.3 947.4L662.8 947.1L663.3 946.9L663.8 946.6L664.3 946.3L664.8 946.1L665.3 945.8L665.8 945.5L666.3 945.3L666.8 945L667.3 944.7L667.8 944.5L668.3 944.2L668.8 943.9L669.3 943.7L669.8 943.4L670.3 943.2L670.8 942.9L671.3 942.6L671.8 942.4L672.3 942.1L672.8 941.8L673.3 941.6L673.8 941.3L674.3 941L674.8 940.8L675.3 940.5L675.8 940.2L676.3 939.9L676.8 939.7L677.3 939.4L677.8 939.1L678.3 938.8L678.8 938.5L679.3 938.2L679.8 937.9L680.3 937.6L680.8 937.3L681.3 937L681.8 936.7L682.3 936.4L682.8 936.1L683.3 935.8L683.8 935.5L684.3 935.2L684.8 934.8L685.3 934.5L685.8 934.2L686.3 933.9L686.8 933.6L687.3 933.2L687.8 932.9L688.3 932.6L688.8 932.2L689.3 931.9L689.8 931.6L690.3 931.3L690.8 930.9L691.3 930.6L691.8 930.3L692.3 929.9L692.8 929.6L693.3 929.3L693.8 928.9L694.3 928.6L694.8 928.3L695.3 927.9L695.8 927.6L696.3 927.3L696.8 926.9L697.3 926.6L697.8 926.3L698.3 925.9L698.8 925.6L699.3 925.3L699.8 925L700.3 924.6L700.8 924.3L701.3 924L701.8 923.6L702.3 923.3L702.8 923L703.3 922.6L703.8 922.3L704.3 921.9L704.8 921.6L705.3 921.2L705.8 920.9L706.3 920.5L706.8 920.2L707.3 919.8L707.8 919.5L708.3 919.1L708.8 918.7L709.3 918.4L709.8 918L710.3 917.6L710.8 917.2L711.3 916.8L711.8 916.4L712.3 916.1L712.8 915.7L713.3 915.3L713.8 914.9L714.3 914.5L714.8 914.1L715.3 913.6L715.8 913.2L716.3 912.8L716.8 912.4L717.3 912L717.8 911.6L718.3 911.1L718.8 910.7L719.3 910.3L719.8 909.9L720.3 909.4L720.8 909" fill="none" stroke="#0000ff" stroke-width="3.3" stroke-linecap="round" stroke-linejoin="round" stroke-dasharray="2 15" stroke-dashoffset="8"/>
</g>
</g>
<g id="panel-d">
<path d="M1009.6 758.8V1252H1623.6" fill="none" stroke="#000" stroke-width="2.6"/>
<path d="M1009.6 1252v9.6M1070.9 1252v5M1132.1 1252v9.6M1193.4 1252v5M1254.7 1252v9.6M1316 1252v5M1377.2 1252v9.6M1438.5 1252v5M1499.8 1252v9.6M1561 1252v5M1622.3 1252v9.6M1009.6 1252h-10M1009.6 1211.1h-5M1009.6 1170.1h-10M1009.6 1129.1h-5M1009.6 1088.1h-10M1009.6 1047.1h-5M1009.6 1006.1h-10M1009.6 965.1h-5M1009.6 924.1h-10M1009.6 883.1h-5M1009.6 842.1h-10M1009.6 801.1h-5M1009.6 760.1h-10" fill="none" stroke="#000" stroke-width="2.6"/>
<g font-family='"Liberation Sans", Arial, Helvetica, sans-serif' font-weight="700" font-size="21.6" fill="#000">
<g text-anchor="middle">
<text transform="translate(1009.6 1285) scale(0.95 1)">18</text>
<text transform="translate(1132.1 1285) scale(0.95 1)">20</text>
<text transform="translate(1254.7 1285) scale(0.95 1)">22</text>
<text transform="translate(1377.2 1285) scale(0.95 1)">24</text>
<text transform="translate(1499.8 1285) scale(0.95 1)">26</text>
<text transform="translate(1622.3 1285) scale(0.95 1)">28</text>
</g><g text-anchor="end">
<text transform="translate(993 1258.5) scale(0.95 1)">-6</text>
<text transform="translate(993 1176.5) scale(0.95 1)">-4</text>
<text transform="translate(993 1094.5) scale(0.95 1)">-2</text>
<text transform="translate(993 1012.5) scale(0.95 1)">0</text>
<text transform="translate(993 930.5) scale(0.95 1)">2</text>
<text transform="translate(993 848.5) scale(0.95 1)">4</text>
<text transform="translate(993 766.5) scale(0.95 1)">6</text>
</g></g>
<g font-family='"Liberation Sans", Arial, Helvetica, sans-serif' font-weight="700" fill="#000" text-anchor="middle">
<text transform="translate(1316.5 1326) scale(0.99 1)" font-size="26">Frequency (GHz)</text>
<text transform="translate(946.2 996.7) rotate(-90) scale(0.96 1)" font-size="26.4">Refractive Index</text>
</g>
<text transform="translate(1327.8 1414.6) scale(1.014 1)" font-family='"Liberation Serif", "Times New Roman", serif' font-size="50.2" text-anchor="middle" fill="#000">(c)</text>
<clipPath id="cd"><rect x="1008.6" y="759.1" width="614.7" height="492.9"/></clipPath>
<g clip-path="url(#cd)">
<path d="M1010 852.7L1010.5 853L1011 853.3L1011.5 853.6L1012 853.9L1012.5 854.2L1013 854.5L1013.5 854.8L1014 855.1L1014.5 855.4L1015 855.7L1015.5 856L1016 856.3L1016.5 856.6L1017 856.9L1017.5 857.2L1018 857.5L1018.5 857.8L1019 858.1L1019.5 858.4L1020 858.7L1020.5 859L1021 859.3L1021.5 859.6L1022 859.9L1022.5 860.2L1023 860.5L1023.5 860.8L1024 861.1L1024.5 861.4L1025 861.7L1025.5 862L1026 862.3L1026.5 862.6L1027 862.8L1027.5 863.1L1028 863.3L1028.5 863.6L1029 863.8L1029.5 864.1L1030 864.3L1030.5 864.6L1031 864.8L1031.5 865L1032 865.3L1032.5 865.5L1033 865.7L1033.5 865.9L1034 866.1L1034.5 866.3L1035 866.5L1035.5 866.7L1036 866.8L1036.5 867L1037 867.1L1037.5 867.2L1038 867.3L1038.5 867.4L1039 867.5L1039.5 867.7L1040 867.8L1040.5 867.8L1040.9 867.9L1041.4 868L1041.9 868L1042.4 868.1L1042.9 868.1L1043.4 868.1L1043.9 868.1L1044.4 868L1044.9 868L1045.4 867.9L1045.9 867.8L1046.4 867.8L1046.9 867.7L1047.4 867.6L1047.9 867.4L1048.4 867.3L1048.9 867.2L1049.4 867.1L1049.9 866.9L1050.4 866.7L1050.9 866.4L1051.4 866.2L1051.9 865.8L1052.4 865.5L1052.9 865.1L1053.4 864.8L1053.9 864.4L1054.4 864L1054.9 863.5L1055.4 863L1055.9 862.4L1056.4 861.8L1056.9 861.1L1057.4 860.4L1057.9 859.7L1058.4 858.9L1058.9 858L1059.4 857.1L1059.9 856L1060.4 854.8L1060.9 853.5L1061.4 852.2L1061.9 850.8L1062.4 849.3L1062.9 847.6L1063.4 845.8L1063.9 843.9L1064.4 841.8L1064.9 839.7L1065.4 837.4L1065.9 835.1L1066.4 832.5L1066.9 829.9L1067.4 827L1067.9 824.1L1068.4 820.7L1068.9 817.2L1069.4 813.7L1069.9 810.5L1070.4 807.5L1070.9 804.7L1071.6 890L1072 1201.6L1072 1201.6L1072.5 1196.4L1073 1191.8L1073.5 1187.8L1074 1184.4L1074.5 1181.3L1075 1178.6L1075.5 1176L1076 1173.7L1076.5 1171.5L1077 1169.4L1077.5 1167.5L1078 1165.6L1078.5 1163.9L1079 1162.2L1079.5 1160.5L1080 1158.8L1080.5 1157.2L1081 1155.8L1081.5 1154.4L1082 1153.3L1082.5 1152.2L1083 1151.3L1083.5 1150.5L1084 1149.7L1084.5 1148.9L1085 1148.2L1085.5 1147.6L1086 1147L1086.5 1146.4L1087.1 1145.9L1087.6 1145.5L1088.1 1145L1088.6 1144.6L1089.1 1144.2L1089.6 1143.8L1090.1 1143.4L1090.6 1143L1091.1 1142.7L1091.6 1142.4L1092.1 1142.2L1092.6 1142L1093.1 1141.8L1093.6 1141.7L1094.1 1141.5L1094.6 1141.4L1095.1 1141.3L1095.6 1141.1L1096.1 1141L1096.6 1140.9L1097.1 1140.8L1097.6 1140.7L1098.1 1140.6L1098.6 1140.6L1099.1 1140.5L1099.6 1140.5L1100.1 1140.4L1100.6 1140.4L1101.1 1140.4L1101.6 1140.4L1102.1 1140.4L1102.6 1140.4L1103.1 1140.4L1103.6 1140.5L1104.1 1140.5L1104.6 1140.5L1105.1 1140.5L1105.6 1140.6L1106.1 1140.6L1106.6 1140.6L1107.1 1140.7L1107.6 1140.7L1108.1 1140.7L1108.6 1140.8L1109.1 1140.8L1109.6 1140.9L1110.1 1141L1110.6 1141L1111.1 1141.1L1111.6 1141.2L1112.1 1141.3L1112.6 1141.4L1113.1 1141.6L1113.6 1141.7L1114.1 1141.8L1114.6 1142L1115.1 1142.1L1115.6 1142.3L1116.1 1142.4L1116.7 1142.5L1117.2 1142.7L1117.7 1142.8L1118.2 1143L1118.7 1143.1L1119.2 1143.3L1119.7 1143.4L1120.2 1143.6L1120.7 1143.7L1121.2 1143.9L1121.7 1144L1122.2 1144.2L1122.7 1144.4L1123.2 1144.5L1123.7 1144.7L1124.2 1144.9L1124.7 1145L1125.2 1145.2L1125.7 1145.4L1126.2 1145.6L1126.7 1145.7L1127.2 1145.9L1127.7 1146.1L1128.2 1146.2L1128.7 1146.4L1129.2 1146.6L1129.7 1146.7L1130.2 1146.9L1130.7 1147L1131.2 1147.2L1130.9 1147L1131.7 1005.5L1133.3 1147.8L1133 1147.8L1133.5 1148L1134 1148.2L1134.5 1148.3L1135 1148.5L1135.5 1148.7L1136 1148.9L1136.5 1149.1L1137 1149.3L1137.5 1149.5L1138 1149.7L1138.5 1149.9L1139 1150.1L1139.5 1150.4L1140 1150.6L1140.5 1150.8L1141 1151L1141.5 1151.3L1142 1151.5L1142.5 1151.7L1143 1152L1143.5 1152.2L1144 1152.4L1144.5 1152.7L1145 1152.9L1145.5 1153.2L1146 1153.5L1146.5 1153.7L1147 1154L1147.5 1154.3L1148 1154.6L1148.5 1154.9L1149 1155.1L1149.5 1155.4L1150 1155.7L1150.5 1156L1151 1156.3L1151.5 1156.6L1152 1156.9L1152.5 1157.3L1153 1157.6L1153.5 1157.9L1154 1158.2L1154.5 1158.5L1155 1158.8L1155.5 1159.1L1156 1159.4L1156.5 1159.8L1157 1160.1L1157.5 1160.4L1158 1160.7L1158.5 1161L1159 1161.4L1159.5 1161.7L1160 1162L1160.5 1162.4L1161 1162.7L1161.5 1163L1162 1163.4L1162.5 1163.7L1163 1164.1L1163.5 1164.4L1164 1164.7L1164.4 1165.1L1164.9 1165.4L1165.4 1165.8L1165.9 1166.1L1166.4 1166.5L1166.9 1166.8L1167.4 1167.2L1167.9 1167.5L1168.4 1167.9L1168.9 1168.3L1169.4 1168.6L1169.9 1169L1170.4 1169.4L1170.9 1169.7L1171.4 1170.1L1171.9 1170.5L1172.4 1170.8L1172.9 1171.2L1173.4 1171.6L1173.9 1172L1174.4 1172.4L1174.9 1172.7L1175.4 1173.1L1175.9 1173.5L1176.4 1173.9L1176.9 1174.2L1177.4 1174.6L1177.9 1175L1178.4 1175.4L1178.9 1175.7L1179.4 1176.1L1179.9 1176.5L1180.4 1176.9L1180.9 1177.2L1181.4 1177.6L1181.9 1178L1182.4 1178.3L1182.9 1178.7L1183.4 1179.1L1183.9 1179.5L1184.4 1179.8L1184.9 1180.2L1185.4 1180.6L1185.9 1180.9L1186.4 1181.3L1186.9 1181.7L1187.4 1182.1L1187.9 1182.5L1188.4 1182.9L1188.9 1183.2L1189.4 1183.6L1189.9 1184L1190.4 1184.4L1190.9 1184.8L1191.4 1185.2L1191.9 1185.6L1192.4 1186L1192.9 1186.4L1193.4 1186.8L1193.9 1187.2L1194.4 1187.6L1194.9 1188L1195.2 1188L1195.4 822.6L1199.3 826.5L1201.3 1006.5L1202.6 829.8L1203.2 830.3L1203.7 831L1204.2 831.7L1204.7 832.4L1205.2 833L1205.7 833.5L1206.2 834L1206.7 834.4L1207.2 834.9L1207.7 835.3L1208.2 835.6L1208.7 836L1209.2 836.2L1209.7 836.4L1210.1 836.5L1210.6 836.5L1211.1 836.5L1211.6 836.4L1212.1 836.4L1212.6 836.3L1213.1 836.2L1213.6 836.1L1214.1 836L1214.6 835.7L1215.1 835.4L1215.6 834.9L1216.1 834.4L1216.6 833.9L1217.1 833.4L1217.6 832.9L1218.1 832.4L1218.6 831.8L1219.1 831.3L1219.6 830.8L1220.1 830.4L1220.6 830L1221.1 829.7L1221.6 829.3L1222.1 829L1222.5 828.6L1223 828.3L1223.5 828.1L1224 827.9L1224.5 827.7L1225 827.6L1225.5 827.6L1226 827.6L1226.5 827.6L1227 827.6L1227.5 827.6L1228 827.6L1228.5 827.6L1229 827.6L1229.3 828L1229.6 1183.8L1229.8 1184.2L1230.3 1184.1L1230.8 1184.1L1231.3 1183.9L1231.8 1183.8L1232.3 1183.6L1232.8 1183.4L1233.3 1183.2L1233.8 1183L1234.3 1182.8L1234.8 1182.6L1235.2 1182.3L1235.7 1182L1236.2 1181.5L1236.7 1181.1L1237.2 1180.6L1237.7 1180.1L1238.2 1179.6L1238.7 1179.1L1239.2 1178.6L1239.7 1178.1L1240.2 1177.7L1240.7 1177.3L1241.2 1176.9L1241.7 1176.5L1242.2 1176.1L1242.7 1175.7L1243.2 1175.3L1243.7 1174.9L1244.2 1174.5L1244.7 1174.2L1245.2 1173.9L1245.6 1173.7L1246.1 1173.5L1246.6 1173.4L1247.1 1173.4L1247.6 1173.4L1248.1 1173.4L1248.6 1173.4L1249.1 1173.4L1249.6 1173.4L1250.1 1173.4L1250.6 1173.4L1251.7 1005.4L1253.1 1172.6L1254.7 1177.2L1258.5 1180.6L1259.2 832L1261.6 1006.2L1277.8 1006.2L1280.9 1017L1281.4 1016.4L1281.9 1015.8L1282.4 1015.1L1282.9 1014.5L1283.4 1013.8L1283.9 1013.1L1284.4 1012.4L1284.9 1011.7L1285.4 1010.9L1285.9 1010.2L1286.4 1009.4L1286.9 1008.5L1287.4 1007.7L1287.9 1006.8L1288.4 1005.9L1288.9 1005L1289.4 1004.2L1289.9 1003.4L1290.4 1002.6L1290.9 1001.8L1291.4 1001L1291.9 1000.2L1292.4 999.4L1292.9 998.7L1293.4 998L1293.9 997.5L1294.4 997.1L1294.9 996.8L1295.4 996.6L1295.9 996.3L1296.4 996.1L1296.9 995.9L1297.4 995.7L1297.9 995.6L1298.4 995.4L1298.9 995.3L1299.4 995.2L1299.9 995.2L1300.4 995.1L1300.9 995.1L1301.4 995.1L1301.9 995.1L1302.4 995.2L1302.9 995.3L1303.4 995.4L1303.9 995.5L1304.4 995.6L1304.9 995.7L1305.4 995.8L1305.9 996L1306.4 996.1L1306.9 996.3L1307.4 996.5L1307.9 996.8L1308.4 997.2L1308.9 997.6L1309.4 998L1309.9 998.4L1310.4 998.9L1310.9 999.4L1311.4 999.9L1311.9 1000.4L1312.4 1000.9L1312.9 1001.4L1313.4 1001.9L1313.9 1002.4L1314.4 1002.8L1314.9 1003.3L1315.4 1003.8L1315.9 1004.4L1316.4 1004.9L1316.9 1005.4L1317.4 1005.9L1317.9 1006.4L1318.4 1007L1318.9 1007.5L1319.4 1008L1319.9 1008.5L1320.4 1009L1320.9 1009.5L1321.4 1010.1L1321.9 1010.6L1322.4 1011.1L1322.9 1011.7L1323.4 1012.2L1323.9 1012.7L1324.4 1013.2L1324.9 1013.7L1325.4 1014.1L1325.9 1014.6L1326.4 1015L1326.9 1015.4L1327.4 1015.8L1327.9 1016.2L1328.4 1016.6L1328.9 1016.9L1329.4 1017.3L1329.9 1017.6L1330.4 1018L1330.9 1018.3L1331.4 1018.6L1331.9 1018.9L1332.4 1019.1L1332.9 1019.4L1333.4 1019.6L1333.9 1019.8L1334.4 1020L1334.9 1020.3L1335.4 1020.5L1335.9 1020.7L1336.4 1020.9L1336.9 1021.1L1337.4 1021.2L1337.9 1021.4L1338.4 1021.5L1338.9 1021.6L1339.4 1021.6L1339.9 1021.6L1340.4 1021.6L1340.9 1021.6L1341.4 1021.6L1341.9 1021.6L1342.4 1021.6L1342.9 1021.6L1343.4 1021.6L1343.9 1021.6L1344.4 1021.6L1344.9 1021.5L1345.4 1021.4L1345.9 1021.2L1346.4 1021L1346.9 1020.7L1347.4 1020.4L1347.9 1020.2L1348.4 1019.9L1348.9 1019.6L1349.4 1019.2L1349.9 1018.8L1350.4 1018.4L1350.9 1017.9L1351.4 1017.4L1352.5 1005.6L1353.6 1013.5L1354.1 1012.9L1354.6 1012.3L1355.1 1011.7L1355.6 1011.1L1356.1 1010.5L1356.6 1010L1357.1 1009.5L1357.6 1009L1358.1 1008.5L1358.6 1008L1359.1 1007.6L1359.6 1007.1L1360.1 1006.7L1360.6 1006.3L1361.1 1006L1361.6 1005.7L1362.1 1005.4L1362.6 1005.1L1363.1 1004.9L1363.6 1004.6L1364.1 1004.4L1364.6 1004.2L1365.1 1004L1365.6 1003.9L1366.1 1003.9L1366.6 1003.9L1367.1 1003.9L1367.6 1003.9L1368.1 1003.9L1368.6 1003.9L1369.1 1003.9L1369.6 1003.9L1370.1 1003.9L1370.6 1003.9L1371.1 1003.9L1371.6 1004L1372.1 1004.2L1372.6 1004.4L1373.1 1004.6L1373.6 1004.8L1374.1 1005L1374.6 1005.2L1375.1 1005.5L1375.6 1005.7L1376.1 1005.9L1376.6 1006L1377.1 1006.1L1377.6 1006.2L1378.1 1006.2L1378.6 1006.3L1379.1 1006.4L1379.6 1006.4L1380.1 1006.5L1380.6 1006.5L1381.1 1006.6L1381.6 1006.6L1382.1 1006.7L1382.6 1006.7L1383.1 1006.7L1383.6 1006.7L1384.1 1006.7L1384.6 1006.7L1385.1 1006.7L1385.6 1006.7L1386.1 1006.7L1386.6 1006.7L1387.1 1006.7L1387.6 1006.7L1388.1 1006.7L1388.6 1006.7L1389.1 1006.7L1389.6 1006.7L1390.1 1006.7L1390.6 1006.7L1391.1 1006.9L1391.6 1007.2L1392.1 1007.6L1392.6 1008.1L1393.1 1008.5L1393.6 1008.9L1394.1 1009.2L1394.6 1009.6L1395.1 1009.9L1395.6 1010.2L1396.1 1010.6L1396.6 1010.9L1397.1 1011.3L1397.6 1011.6L1398.1 1012L1398.6 1012.4L1399.1 1012.8L1399.6 1013.2L1400.1 1013.7L1400.6 1014.1L1401.1 1014.6L1401.6 1015.1L1402.1 1015.7L1402.6 1016.2L1403.1 1016.7L1403.6 1017.2L1404.1 1017.8L1404.6 1018.3L1405.1 1018.8L1405.6 1019.3L1406.1 1019.8L1406.6 1020.3L1407.1 1020.8L1407.6 1021.3L1408.1 1021.8L1408.6 1022.3L1409.1 1022.8L1409.6 1023.3L1410.1 1023.8L1410.6 1024.3L1411.1 1024.8L1411.6 1025.3L1412.1 1025.8L1412.6 1026.3L1413.1 1026.8L1413.6 1027.3L1414.1 1027.8L1414.6 1028.3L1415.1 1028.8L1415.6 1029.3L1416.1 1029.7L1416.6 1030.1L1417.1 1030.6L1417.6 1031L1418.1 1031.4L1418.6 1031.8L1419.1 1032.2L1419.6 1032.6L1420.1 1033L1420.6 1033.3L1421 1033.7L1421.5 1034L1422 1034.3L1422.5 1034.7L1423 1035L1423.5 1035.3L1424 1035.6L1424.5 1035.9L1425 1036.2L1425.5 1036.5L1426 1036.7L1426.5 1037L1427 1037.2L1427.5 1037.4L1428 1037.7L1428.5 1037.9L1429 1038.1L1429.5 1038.3L1430 1038.5L1430.5 1038.7L1431 1038.9L1431.5 1039L1432 1039.2L1432.5 1039.3L1433 1039.5L1433.5 1039.7L1434 1039.8L1434.5 1040L1435 1040.1L1435.5 1040.2L1436 1040.3L1436.5 1040.4L1437 1040.5L1437.5 1040.5L1438 1040.5L1438.5 1040.5L1439 1040.5L1439.5 1040.5L1440 1040.5L1440.5 1040.5L1441 1040.5L1441.5 1040.5L1442 1040.5L1442.5 1040.5L1443 1040.4L1443.5 1040.3L1444 1040.1L1444.5 1040L1445 1039.8L1445.5 1039.6L1446 1039.4L1446.5 1039.1L1447 1038.9L1447.5 1038.6L1448 1038.3L1448.5 1037.9L1449 1037.5L1449.5 1037.1L1450 1036.6L1450.5 1036.2L1451 1035.7L1451.5 1035.2L1452 1034.6L1452.5 1034L1453 1033.4L1453.5 1032.8L1454 1032.1L1454.5 1031.3L1455 1030.6L1455.5 1029.8L1456 1028.9L1456.5 1027.9L1457 1026.9L1457.5 1025.9L1458 1024.8L1458.5 1023.6L1459 1022.4L1459.5 1021.2L1460 1019.9L1460.5 1018.5L1461 1017.1L1461.5 1015.5L1462 1014L1462.5 1012.4L1463 1010.8L1463.5 1009.2L1464 1007.6L1464.5 1006L1465 1004.3L1465.5 1002.6L1466 1000.9L1466.5 999.2L1467 997.5L1467.5 995.8L1468 994L1468.5 992.3L1469 990.5L1469.5 988.9L1470 987.3L1470.5 985.9L1471 984.6L1471.5 983.3L1472 982.1L1472.5 981L1473 979.9L1473.5 978.9L1474 977.9L1474.5 976.9L1475 975.9L1475.5 975L1476 974.1L1476.5 973.3L1477 972.5L1477.5 971.8L1478 971L1478.5 970.4L1479 969.7L1479.5 969.1L1480 968.5L1480.5 967.9L1481 967.4L1481.5 966.9L1482 966.4L1482.5 966L1483 965.6L1483.5 965.2L1484 964.8L1484.5 964.4L1485 964.1L1485.5 963.8L1486 963.6L1486.5 963.4L1487 963.2L1487.5 963L1488 962.8L1488.5 962.7L1489 962.5L1489.5 962.4L1490 962.2L1490.5 962.1L1491 962L1491.5 962L1492 961.9L1492.5 961.8L1493 961.8L1493.5 961.7L1494 961.7L1494.5 961.6L1495 961.6L1495.5 961.5L1496 961.5L1496.5 961.5L1497 961.5L1497.5 961.5L1498 961.5L1498.5 961.5L1499 961.6L1499.5 961.6L1500 961.7L1500.5 961.7L1501 961.7L1501.5 961.8L1502 961.9L1502.5 961.9L1503 962L1503.5 962L1504 962.1L1504.5 962.1L1505 962.2L1505.5 962.3L1506 962.4L1506.5 962.4L1507 962.5L1507.5 962.6L1508 962.7L1508.5 962.8L1509 962.9L1509.5 963L1510 963.1L1510.5 963.2L1511 963.3L1511.5 963.4L1512 963.5L1512.5 963.6L1513 963.7L1513.5 963.8L1514 963.9L1514.5 964L1515 964.2L1515.5 964.3L1516 964.4L1516.5 964.5L1517 964.6L1517.5 964.8L1518 964.9L1518.5 965L1519 965.1L1519.5 965.2L1520 965.4L1520.5 965.5L1521 965.6L1521.5 965.8L1522 965.9L1522.5 966L1523 966.2L1523.5 966.3L1524 966.5L1524.5 966.6L1525 966.8L1525.5 966.9L1526 967L1526.5 967.2L1527 967.3L1527.5 967.4L1528 967.6L1528.5 967.7L1529 967.8L1529.5 968L1530 968.1L1530.5 968.2L1531 968.3L1531.5 968.5L1532 968.6L1532.5 968.7L1533 968.9L1533.5 969L1534 969.1L1534.5 969.2L1535 969.4L1535.5 969.5L1536 969.6L1536.5 969.7L1537 969.9L1537.5 970L1538 970.1L1538.5 970.2L1539 970.4L1539.5 970.5L1540 970.6L1540.5 970.7L1541 970.9L1541.5 971L1542 971.1L1542.5 971.2L1543 971.3L1543.5 971.5L1544 971.6L1544.5 971.7L1545 971.8L1545.5 972L1546 972.1L1546.5 972.2L1547 972.3L1547.5 972.4L1548 972.6L1548.5 972.7L1549 972.8L1549.5 972.9L1550 973.1L1550.5 973.2L1551 973.3L1551.5 973.4L1552 973.6L1552.5 973.7L1553 973.8L1553.5 974L1554 974.1L1554.5 974.2L1555 974.3L1555.5 974.5L1555.9 974.6L1556.4 974.7L1556.9 974.8L1557.4 975L1557.9 975.1L1558.4 975.2L1558.9 975.4L1559.4 975.5L1559.9 975.6L1560.4 975.7L1560.9 975.9L1561.4 976L1561.9 976.1L1562.4 976.2L1562.9 976.3L1563.4 976.5L1563.9 976.6L1564.4 976.7L1564.9 976.8L1565.4 976.9L1565.9 977.1L1566.4 977.2L1566.9 977.3L1567.4 977.4L1567.9 977.5L1568.4 977.7L1568.9 977.8L1569.4 977.9L1569.9 978L1570.4 978.2L1570.9 978.3L1571.4 978.4L1571.9 978.6L1572.4 978.7L1572.9 978.8L1573.4 979L1573.9 979.1L1574.4 979.3L1574.9 979.4L1575.4 979.6L1575.9 979.7L1576.4 979.9L1576.9 980L1577.4 980.2L1577.9 980.3L1578.4 980.5L1578.9 980.6L1579.4 980.8L1579.9 981L1580.4 981.1L1580.9 981.3L1581.4 981.4L1581.9 981.6L1582.4 981.7L1582.9 981.9L1583.4 982L1583.9 982.2L1584.4 982.3L1584.9 982.5L1585.4 982.6L1585.9 982.8L1586.4 982.9L1586.9 983.1L1587.4 983.2L1587.9 983.4L1588.4 983.5L1588.9 983.7L1589.4 983.8L1589.9 984L1590.4 984.1L1590.9 984.3L1591.4 984.4L1591.9 984.6L1592.4 984.7L1592.9 984.9L1593.4 985L1593.9 985.2L1594.4 985.3L1594.9 985.5L1595.4 985.6L1595.9 985.8L1596.4 985.9L1596.9 986.1L1597.4 986.2L1597.9 986.4L1598.4 986.5L1598.9 986.7L1599.4 986.8L1599.9 987L1600.4 987.1L1600.9 987.3L1601.4 987.4L1601.9 987.6L1602.4 987.7L1602.9 987.9L1603.4 988L1603.9 988.2L1604.4 988.3L1604.9 988.5L1605.4 988.6L1605.9 988.8L1606.4 988.9L1606.9 989.1L1607.4 989.2L1607.9 989.4L1608.4 989.5L1608.9 989.7L1609.4 989.8L1609.9 990L1610.4 990.1L1610.9 990.3L1611.4 990.4L1611.9 990.6L1612.4 990.7L1612.9 990.9L1613.4 991L1613.9 991.2L1614.4 991.3L1614.9 991.5L1615.4 991.6L1615.9 991.8L1616.4 991.9L1616.9 992.1L1617.4 992.2L1617.9 992.4L1618.4 992.5L1618.9 992.7L1619.4 992.8L1619.9 993L1620.4 993.1L1620.9 993.3L1621.4 993.4L1621.9 993.6L1622.4 993.7L1622.9 993.9" fill="none" stroke="#ff0000" stroke-width="3.7" stroke-linecap="butt" stroke-linejoin="round"/>
<path d="M1010 855.5L1010.5 855.8L1011 856.1L1011.5 856.4L1012 856.7L1012.5 857L1013 857.2L1013.5 857.5L1014 857.8L1014.5 858.1L1015 858.3L1015.5 858.6L1016 858.8L1016.5 859.1L1017 859.4L1017.5 859.6L1018 859.8L1018.5 860.1L1019 860.3L1019.5 860.6L1020 860.8L1020.5 861.1L1021 861.3L1021.5 861.5L1022 861.8L1022.5 862L1023 862.3L1023.5 862.5L1024 862.7L1024.5 862.9L1024.9 863.1L1025.4 863.3L1025.9 863.5L1026.4 863.7L1026.9 863.8L1027.4 863.9L1027.9 864.1L1028.4 864.2L1028.9 864.3L1029.4 864.4L1029.9 864.5L1030.4 864.6L1030.9 864.7L1031.4 864.8L1031.9 864.9L1032.4 865L1032.9 865.1L1033.4 865.2L1033.9 865.3L1034.4 865.3L1034.9 865.4L1035.4 865.4L1035.9 865.5L1036.4 865.5L1036.9 865.5L1037.4 865.5L1037.9 865.5L1038.4 865.5L1038.9 865.4L1039.4 865.4L1039.9 865.4L1040.4 865.3L1040.9 865.3L1041.4 865.2L1041.9 865.2L1042.4 865.1L1042.9 865L1043.4 864.9L1043.9 864.9L1044.4 864.8L1044.9 864.7L1045.4 864.6L1045.9 864.5L1046.4 864.4L1046.9 864.2L1047.4 864L1047.9 863.8L1048.4 863.5L1048.9 863.2L1049.4 862.8L1049.9 862.4L1050.4 862L1050.9 861.6L1051.4 861.1L1051.9 860.6L1052.4 860.1L1052.9 859.6L1053.4 859L1053.8 858.2L1054.3 857.4L1054.8 856.5L1055.3 855.6L1055.8 854.7L1056.3 853.7L1056.8 852.7L1057.3 851.7L1057.8 850.5L1058.3 849.4L1058.8 848.1L1059.3 846.8L1059.8 845.5L1060.3 844L1060.8 842.5L1061.3 840.8L1061.8 839L1062.3 837.2L1062.8 835.3L1063.3 833.5L1063.8 831.6L1064.3 829.7L1064.8 827.7L1065.3 825.5L1065.8 823.3L1066.3 820.8L1066.8 818.1L1067.3 815.4L1067.8 812.4L1068.3 809.3L1068.6 826L1068.9 1000L1069.6 1206.5L1069.6 1206.5L1070.1 1203.9L1070.6 1201.2L1071.1 1198.5L1071.6 1195.7L1072.1 1192.6L1072.6 1189.3L1073.1 1186L1073.6 1182.8L1074.1 1179.9L1074.6 1177.5L1075.1 1175.5L1075.6 1173.6L1076.1 1171.9L1076.6 1170.3L1077.1 1168.7L1077.6 1167.3L1078.1 1165.9L1078.6 1164.5L1079.1 1163.2L1079.6 1161.8L1080.1 1160.4L1080.6 1159.1L1081.1 1157.7L1081.6 1156.3L1082.1 1155L1082.6 1153.8L1083.1 1152.6L1083.6 1151.5L1084.1 1150.5L1084.6 1149.6L1085.1 1148.8L1085.6 1148.2L1086.1 1147.6L1086.6 1146.9L1087.1 1146.4L1087.6 1145.8L1088.1 1145.3L1088.6 1144.8L1089.1 1144.3L1089.6 1143.8L1090.1 1143.4L1090.6 1143.1L1091.1 1142.7L1091.6 1142.4L1092.1 1142.2L1092.6 1142L1093.1 1141.8L1093.6 1141.6L1094.1 1141.5L1094.6 1141.4L1095.1 1141.2L1095.6 1141.1L1096.1 1141L1096.6 1140.9L1097.1 1140.8L1097.6 1140.7L1098.1 1140.6L1098.6 1140.6L1099.1 1140.5L1099.6 1140.5L1100.1 1140.4L1100.7 1140.4L1101.2 1140.4L1101.7 1140.4L1102.2 1140.4L1102.7 1140.4L1103.2 1140.4L1103.7 1140.5L1104.2 1140.5L1104.7 1140.5L1105.2 1140.5L1105.7 1140.6L1106.2 1140.6L1106.7 1140.6L1107.2 1140.7L1107.7 1140.7L1108.2 1140.7L1108.7 1140.8L1109.2 1140.8L1109.7 1140.9L1110.2 1141L1110.7 1141L1111.2 1141.1L1111.7 1141.2L1112.2 1141.3L1112.7 1141.5L1113.2 1141.6L1113.7 1141.7L1114.2 1141.8L1114.7 1142L1115.2 1142.1L1115.7 1142.3L1116.2 1142.4L1116.7 1142.6L1117.2 1142.7L1117.7 1142.8L1118.2 1143L1118.7 1143.1L1119.2 1143.3L1119.7 1143.4L1120.2 1143.6L1120.7 1143.7L1121.2 1143.9L1121.7 1144L1122.2 1144.2L1122.7 1144.4L1123.2 1144.5L1123.7 1144.7L1124.2 1144.9L1124.7 1145L1125.2 1145.2L1125.7 1145.4L1126.2 1145.6L1126.7 1145.7L1127.2 1145.9L1127.7 1146.1L1128.2 1146.2L1128.7 1146.4L1129.2 1146.6L1129.7 1146.7L1130.2 1146.9L1130.7 1147L1131.2 1147.2L1130.9 1147L1131.7 1005.5L1133.3 1147.8L1133 1147.8L1133.5 1148L1134 1148.2L1134.5 1148.3L1135 1148.5L1135.5 1148.7L1136 1148.9L1136.5 1149.1L1137 1149.3L1137.5 1149.5L1138 1149.7L1138.5 1149.9L1139 1150.1L1139.5 1150.4L1140 1150.6L1140.5 1150.8L1141 1151L1141.5 1151.3L1142 1151.5L1142.5 1151.7L1143 1152L1143.5 1152.2L1144 1152.4L1144.5 1152.7L1145 1152.9L1145.5 1153.2L1146 1153.5L1146.5 1153.7L1147 1154L1147.5 1154.3L1148 1154.6L1148.5 1154.9L1149 1155.1L1149.5 1155.4L1150 1155.7L1150.5 1156L1151 1156.3L1151.5 1156.6L1152 1156.9L1152.5 1157.3L1153 1157.6L1153.5 1157.9L1154 1158.2L1154.5 1158.5L1155 1158.8L1155.5 1159.1L1156 1159.4L1156.5 1159.8L1157 1160.1L1157.5 1160.4L1158 1160.7L1158.5 1161L1159 1161.4L1159.5 1161.7L1160 1162L1160.5 1162.4L1161 1162.7L1161.5 1163L1162 1163.4L1162.5 1163.7L1163 1164.1L1163.5 1164.4L1164 1164.7L1164.4 1165.1L1164.9 1165.4L1165.4 1165.8L1165.9 1166.1L1166.4 1166.5L1166.9 1166.8L1167.4 1167.2L1167.9 1167.5L1168.4 1167.9L1168.9 1168.3L1169.4 1168.6L1169.9 1169L1170.4 1169.4L1170.9 1169.7L1171.4 1170.1L1171.9 1170.5L1172.4 1170.8L1172.9 1171.2L1173.4 1171.6L1173.9 1172L1174.4 1172.4L1174.9 1172.7L1175.4 1173.1L1175.9 1173.5L1176.4 1173.9L1176.9 1174.2L1177.4 1174.6L1177.9 1175L1178.4 1175.4L1178.9 1175.7L1179.4 1176.1L1179.9 1176.5L1180.4 1176.9L1180.9 1177.2L1181.4 1177.6L1181.9 1178L1182.4 1178.3L1182.9 1178.7L1183.4 1179.1L1183.9 1179.5L1184.4 1179.8L1184.9 1180.2L1185.4 1180.6L1185.9 1180.9L1186.4 1181.3L1186.9 1181.7L1187.4 1182.1L1187.9 1182.5L1188.4 1182.9L1188.9 1183.2L1189.4 1183.6L1189.9 1184L1190.4 1184.4L1190.9 1184.8L1191.4 1185.2L1191.9 1185.6L1192.4 1186L1192.9 1186.4L1193.4 1186.8L1193.9 1187.2L1194.4 1187.6L1194.9 1188L1195.6 1188L1196.6 822.8L1201.5 827L1204.6 1001L1205.6 832.6L1206.5 834.3L1207 834.8L1207.5 835.2L1208 835.6L1208.5 835.9L1209 836.2L1209.5 836.4L1210 836.5L1210.5 836.5L1211 836.5L1211.5 836.4L1212 836.4L1212.5 836.3L1213 836.2L1213.5 836.1L1214 836L1214.5 835.8L1215 835.4L1215.5 835L1216 834.5L1216.5 834L1217 833.5L1217.5 833L1218 832.5L1218.5 831.9L1219 831.4L1219.5 830.9L1220 830.4L1220.5 830.1L1221 829.7L1221.5 829.4L1222 829L1222.5 828.7L1223 828.4L1223.5 828.1L1224 827.9L1224.5 827.7L1225 827.6L1225.5 827.6L1226 827.6L1226.5 827.6L1227 827.6L1227.5 827.6L1228 827.6L1228.5 827.6L1229 827.6L1229.3 828L1229.6 1183.8L1229.8 1184.2L1230.3 1184.1L1230.8 1184.1L1231.3 1183.9L1231.8 1183.8L1232.3 1183.6L1232.8 1183.4L1233.3 1183.2L1233.8 1183L1234.3 1182.8L1234.8 1182.6L1235.2 1182.3L1235.7 1182L1236.2 1181.5L1236.7 1181.1L1237.2 1180.6L1237.7 1180.1L1238.2 1179.6L1238.7 1179.1L1239.2 1178.6L1239.7 1178.1L1240.2 1177.7L1240.7 1177.3L1241.2 1176.9L1241.7 1176.5L1242.2 1176.1L1242.7 1175.7L1243.2 1175.3L1243.7 1174.9L1244.2 1174.5L1244.7 1174.2L1245.2 1173.9L1245.6 1173.7L1246.1 1173.5L1246.6 1173.4L1247.1 1173.4L1247.6 1173.4L1248.1 1173.4L1248.6 1173.4L1249.1 1173.4L1249.6 1173.4L1250.1 1173.4L1250.6 1173.4L1251.9 1005.4L1252.9 1172.6L1254.7 1177.2L1258.5 1180.6L1259.6 832L1261.6 1006.2L1277.8 1006.2L1280.9 1017L1281.4 1016.4L1281.9 1015.8L1282.4 1015.1L1282.9 1014.5L1283.4 1013.8L1283.9 1013.1L1284.4 1012.4L1284.9 1011.7L1285.4 1010.9L1285.9 1010.2L1286.4 1009.4L1286.9 1008.5L1287.4 1007.7L1287.9 1006.8L1288.4 1005.9L1288.9 1005L1289.4 1004.2L1289.9 1003.4L1290.4 1002.6L1290.9 1001.8L1291.4 1001L1291.9 1000.2L1292.4 999.4L1292.9 998.7L1293.4 998L1293.9 997.5L1294.4 997.1L1294.9 996.8L1295.4 996.6L1295.9 996.3L1296.4 996.1L1296.9 995.9L1297.4 995.7L1297.9 995.6L1298.4 995.4L1298.9 995.3L1299.4 995.2L1299.9 995.2L1300.4 995.1L1300.9 995.1L1301.4 995.1L1301.9 995.1L1302.4 995.2L1302.9 995.3L1303.4 995.4L1303.9 995.5L1304.4 995.6L1304.9 995.7L1305.4 995.8L1305.9 996L1306.4 996.1L1306.9 996.3L1307.4 996.5L1307.9 996.8L1308.4 997.2L1308.9 997.6L1309.4 998L1309.9 998.4L1310.4 998.9L1310.9 999.4L1311.4 999.9L1311.9 1000.4L1312.4 1000.9L1312.9 1001.4L1313.4 1001.9L1313.9 1002.4L1314.4 1002.8L1314.9 1003.3L1315.4 1003.8L1315.9 1004.4L1316.4 1004.9L1316.9 1005.4L1317.4 1005.9L1317.9 1006.4L1318.4 1007L1318.9 1007.5L1319.4 1008L1319.9 1008.5L1320.4 1009L1320.9 1009.5L1321.4 1010.1L1321.9 1010.6L1322.4 1011.1L1322.9 1011.7L1323.4 1012.2L1323.9 1012.7L1324.4 1013.2L1324.9 1013.7L1325.4 1014.1L1325.9 1014.6L1326.4 1015L1326.9 1015.4L1327.4 1015.8L1327.9 1016.2L1328.4 1016.6L1328.9 1016.9L1329.4 1017.3L1329.9 1017.6L1330.4 1018L1330.9 1018.3L1331.4 1018.6L1331.9 1018.9L1332.4 1019.1L1332.9 1019.4L1333.4 1019.6L1333.9 1019.8L1334.4 1020L1334.9 1020.3L1335.4 1020.5L1335.9 1020.7L1336.4 1020.9L1336.9 1021.1L1337.4 1021.2L1337.9 1021.4L1338.4 1021.5L1338.9 1021.6L1339.4 1021.6L1339.9 1021.6L1340.4 1021.6L1340.9 1021.6L1341.4 1021.6L1341.9 1021.6L1342.4 1021.6L1342.9 1021.6L1343.4 1021.6L1343.9 1021.6L1344.4 1021.6L1344.9 1021.5L1345.4 1021.4L1345.9 1021.2L1346.4 1021L1346.9 1020.7L1347.4 1020.4L1347.9 1020.2L1348.4 1019.9L1348.9 1019.6L1349.4 1019.2L1349.9 1018.8L1350.4 1018.4L1350.9 1017.9L1351.4 1017.4L1352.5 1005.6L1353.6 1013.5L1354.1 1012.9L1354.6 1012.3L1355.1 1011.7L1355.6 1011.1L1356.1 1010.5L1356.6 1010L1357.1 1009.5L1357.6 1009L1358.1 1008.5L1358.6 1008L1359.1 1007.6L1359.6 1007.1L1360.1 1006.7L1360.6 1006.3L1361.1 1006L1361.6 1005.7L1362.1 1005.4L1362.6 1005.1L1363.1 1004.8L1363.6 1004.6L1364.1 1004.4L1364.6 1004.2L1365.1 1004L1365.6 1003.9L1366.1 1003.9L1366.6 1003.9L1367.1 1003.9L1367.6 1003.9L1368.1 1003.9L1368.6 1003.9L1369.1 1003.9L1369.6 1003.9L1370.1 1003.9L1370.6 1003.9L1371.1 1003.9L1371.6 1004L1372.1 1004.2L1372.6 1004.4L1373.1 1004.6L1373.6 1004.8L1374.1 1005L1374.6 1005.3L1375.1 1005.5L1375.6 1005.7L1376.1 1005.9L1376.6 1006L1377.1 1006.1L1377.6 1006.2L1378.1 1006.2L1378.6 1006.3L1379.1 1006.4L1379.6 1006.4L1380.1 1006.5L1380.6 1006.5L1381.1 1006.6L1381.6 1006.6L1382.1 1006.7L1382.6 1006.7L1383.1 1006.7L1383.6 1006.7L1384.1 1006.7L1384.6 1006.7L1385.1 1006.7L1385.6 1006.7L1386.1 1006.7L1386.6 1006.7L1387.1 1006.7L1387.6 1006.7L1388.1 1006.7L1388.6 1006.7L1389.1 1006.7L1389.6 1006.7L1390.1 1006.7L1390.6 1006.7L1391.1 1006.9L1391.6 1007.2L1392.1 1007.6L1392.6 1008.1L1393.1 1008.5L1393.6 1008.9L1394.1 1009.2L1394.6 1009.6L1395.1 1009.9L1395.6 1010.2L1396.1 1010.6L1396.6 1010.9L1397.1 1011.3L1397.6 1011.6L1398.1 1012L1398.6 1012.4L1399.1 1012.8L1399.6 1013.2L1400.1 1013.7L1400.6 1014.2L1401.1 1014.7L1401.6 1015.2L1402.1 1015.7L1402.6 1016.2L1403.1 1016.7L1403.6 1017.3L1404.1 1017.8L1404.6 1018.3L1405.1 1018.8L1405.6 1019.3L1406.1 1019.8L1406.6 1020.3L1407.1 1020.8L1407.6 1021.3L1408.1 1021.8L1408.6 1022.3L1409.1 1022.8L1409.6 1023.3L1410.1 1023.8L1410.6 1024.3L1411.1 1024.8L1411.6 1025.3L1412.1 1025.8L1412.6 1026.3L1413.1 1026.8L1413.6 1027.3L1414.1 1027.8L1414.6 1028.3L1415.1 1028.8L1415.6 1029.3M1432 1040L1432.5 1040.3L1433 1040.5L1433.5 1040.8L1434 1041L1434.5 1041.3L1435 1041.5L1435.5 1041.7L1436 1041.9L1436.5 1042.1L1437 1042.3L1437.5 1042.5L1438 1042.6L1438.5 1042.8L1439 1042.9L1439.5 1043.1L1440 1043.3L1440.5 1043.4L1441 1043.5L1441.5 1043.7L1442 1043.8L1442.5 1043.9L1443 1043.9L1443.5 1044L1444 1044L1444.5 1044L1445 1044L1445.5 1043.9L1446 1043.9L1446.5 1043.8L1447 1043.8L1447.5 1043.7L1448 1043.6L1448.5 1043.5L1449 1043.4L1449.5 1043.3L1450 1043.2L1450.5 1043.1L1451 1042.9L1451.5 1042.7L1452 1042.4L1452.5 1042.1L1453 1041.8L1453.5 1041.4L1454 1041L1454.5 1040.6L1455 1040.2L1455.5 1039.6L1456 1039L1456.5 1038.1L1457 1037.2L1457.5 1036.2L1458 1035.1L1458.5 1034L1459 1032.9L1459.5 1031.8L1460 1030.6L1460.5 1029.3L1461 1028L1461.6 1026.7L1462.1 1025.3L1462.6 1024L1463.1 1022.6L1463.6 1021.2L1464.1 1019.7L1464.6 1018.2L1465.1 1016.6L1465.6 1014.9L1466.1 1013.1L1466.6 1011.2L1467.1 1009.3L1467.6 1007.5L1468.1 1005.7L1468.6 1004L1469.1 1002.2L1469.6 1000.4L1470.1 998.5L1470.6 996.5L1471.1 994.2L1471.6 991.7L1472.1 989.3L1472.6 987.3L1473.1 985.7L1473.6 984.3L1474.1 983L1474.6 981.8L1475.1 980.7L1475.6 979.5L1476.1 978.4L1476.6 977.2L1477.1 976L1477.6 974.7L1478.1 973.5L1478.6 972.2L1479.1 971.1L1479.6 970L1480.1 969L1480.6 968.1L1481.1 967.3L1481.6 966.4L1482.1 965.6L1482.6 964.9L1483.1 964.2L1483.6 963.5L1484.1 962.9L1484.6 962.5L1485.1 962.1L1485.6 961.9L1486.1 961.6L1486.6 961.4L1487.1 961.2L1487.6 961L1488.1 960.9L1488.6 960.7L1489.1 960.6L1489.6 960.4L1490.1 960.3L1490.6 960.2L1491.1 960.1L1491.6 960L1492.1 959.9L1492.6 959.8L1493.1 959.7L1493.6 959.6L1494.1 959.5L1494.6 959.4L1495.1 959.3L1495.6 959.2L1496.1 959.1L1496.6 959L1497.1 958.9L1497.6 958.8L1498.1 958.8L1498.6 958.7L1499.1 958.6L1499.6 958.6L1500.1 958.5L1500.6 958.5L1501.1 958.4L1501.6 958.4L1502.1 958.4L1502.6 958.4L1503.1 958.4L1503.6 958.4L1504.1 958.5L1504.6 958.5L1505.1 958.5L1505.6 958.6L1506.1 958.6L1506.6 958.7L1507.1 958.7L1507.6 958.8L1508.1 958.9L1508.6 959L1509.1 959L1509.6 959.1L1510.1 959.2L1510.6 959.3L1511.1 959.4L1511.6 959.5L1512.1 959.6L1512.6 959.7L1513.1 959.8L1513.6 959.9L1514.1 960L1514.6 960L1515.1 960.1L1515.6 960.3L1516.1 960.4L1516.6 960.5L1517.1 960.6L1517.6 960.8L1518.1 960.9L1518.6 961.1L1519.1 961.2L1519.6 961.4L1520.1 961.6L1520.7 961.7L1521.2 961.9L1521.7 962.1L1522.2 962.3L1522.7 962.5L1523.2 962.7L1523.7 962.8L1524.2 963L1524.7 963.2L1525.2 963.4L1525.7 963.6L1526.2 963.8L1526.7 964L1527.2 964.2L1527.7 964.4L1528.2 964.6L1528.7 964.8L1529.2 964.9L1529.7 965.1L1530.2 965.3L1530.7 965.5L1531.2 965.6L1531.7 965.8L1532.2 966L1532.7 966.2L1533.2 966.3L1533.7 966.5L1534.2 966.7L1534.7 966.9L1535.2 967.1L1535.7 967.2L1536.2 967.4L1536.7 967.6L1537.2 967.8L1537.7 968L1538.2 968.2L1538.7 968.3L1539.2 968.5L1539.7 968.7L1540.2 968.9L1540.7 969.1L1541.2 969.3L1541.7 969.5L1542.2 969.7L1542.7 969.9L1543.2 970.1L1543.7 970.3L1544.2 970.6L1544.7 970.8L1545.2 971L1545.7 971.2L1546.2 971.4L1546.7 971.6L1547.2 971.9L1547.7 972.1L1548.2 972.3L1548.7 972.5L1549.2 972.8L1549.7 973M1567.5 977.6L1568 977.7L1568.5 977.9L1569 978L1569.5 978.1L1570 978.2L1570.5 978.4L1571 978.5L1571.5 978.6L1572 978.8L1572.5 978.9L1573 979.1L1573.5 979.2L1574 979.4L1574.5 979.5L1575 979.6L1575.5 979.8L1576 979.9L1576.5 980.1L1577 980.2L1577.5 980.4L1578 980.6L1578.5 980.7L1579 980.9L1579.5 981L1580 981.2L1580.5 981.3L1581 981.5L1581.5 981.6L1582 981.8L1582.5 981.9L1583 982.1L1583.5 982.2L1584 982.4L1584.5 982.5L1585 982.7L1585.5 982.8L1586 983L1586.5 983.2L1587 983.3L1587.5 983.5L1588 983.6L1588.5 983.8L1589 983.9L1589.5 984.1L1590 984.2L1590.5 984.4L1591 984.5L1591.5 984.7L1592 984.9L1592.5 985L1593 985.2L1593.5 985.3L1594 985.5L1594.5 985.6L1595 985.8L1595.4 986L1595.9 986.1L1596.4 986.3L1596.9 986.4L1597.4 986.6L1597.9 986.7L1598.4 986.9L1598.9 987.1L1599.4 987.2L1599.9 987.4L1600.4 987.5L1600.9 987.7L1601.4 987.9L1601.9 988L1602.4 988.2L1602.9 988.3L1603.4 988.5L1603.9 988.7L1604.4 988.8L1604.9 989L1605.4 989.1L1605.9 989.3L1606.4 989.4L1606.9 989.6L1607.4 989.7L1607.9 989.9L1608.4 990.1L1608.9 990.2L1609.4 990.4L1609.9 990.5L1610.4 990.7L1610.9 990.8L1611.4 991L1611.9 991.1L1612.4 991.3L1612.9 991.4L1613.4 991.6L1613.9 991.7L1614.4 991.9L1614.9 992.1L1615.4 992.2L1615.9 992.4L1616.4 992.5L1616.9 992.7L1617.4 992.8L1617.9 993L1618.4 993.2L1618.9 993.3L1619.4 993.5L1619.9 993.6L1620.4 993.8L1620.9 994L1621.4 994.1L1621.9 994.3L1622.4 994.4L1622.9 994.6" fill="none" stroke="#00ff00" stroke-width="3.7" stroke-linecap="round" stroke-linejoin="round" stroke-dasharray="11.5 17"/>
<path d="M1421.1 1031.8L1427.6 1026.8L1429.4 1038.3M1427.7 1010.6L1427.7 1013.8M1557.4 973.4L1561 977.6L1565 986.3M1565.1 1002.2L1565.1 1002.9" fill="none" stroke="#00ff00" stroke-width="3.6" stroke-linecap="round" stroke-linejoin="round"/>
<path d="M1010 855.5L1010.5 855.8L1011 856.1L1011.5 856.4L1012 856.7L1012.5 857L1013 857.2L1013.5 857.5L1014 857.8L1014.5 858.1L1015 858.3L1015.5 858.6L1016 858.8L1016.5 859.1L1017 859.4L1017.5 859.6L1018 859.8L1018.5 860.1L1019 860.3L1019.5 860.6L1020 860.8L1020.5 861.1L1021 861.3L1021.5 861.5L1022 861.8L1022.5 862L1023 862.3L1023.5 862.5L1024 862.7L1024.5 862.9L1024.9 863.1L1025.4 863.3L1025.9 863.5L1026.4 863.7L1026.9 863.8L1027.4 863.9L1027.9 864.1L1028.4 864.2L1028.9 864.3L1029.4 864.4L1029.9 864.5L1030.4 864.6L1030.9 864.7L1031.4 864.8L1031.9 864.9L1032.4 865L1032.9 865.1L1033.4 865.2L1033.9 865.3L1034.4 865.3L1034.9 865.4L1035.4 865.4L1035.9 865.5L1036.4 865.5L1036.9 865.5L1037.4 865.5L1037.9 865.5L1038.4 865.5L1038.9 865.4L1039.4 865.4L1039.9 865.4L1040.4 865.3L1040.9 865.3L1041.4 865.2L1041.9 865.2L1042.4 865.1L1042.9 865L1043.4 864.9L1043.9 864.9L1044.4 864.8L1044.9 864.7L1045.4 864.6L1045.9 864.5L1046.4 864.4L1046.9 864.2L1047.4 864L1047.9 863.8L1048.4 863.5L1048.9 863.2L1049.4 862.8L1049.9 862.4L1050.4 862L1050.9 861.6L1051.4 861.1L1051.9 860.6L1052.4 860.1L1052.9 859.6L1053.4 859L1053.8 858.2L1054.3 857.4L1054.8 856.5L1055.3 855.6L1055.8 854.7L1056.3 853.7L1056.8 852.7L1057.3 851.7L1057.8 850.5L1058.3 849.4L1058.8 848.1L1059.3 846.8L1059.8 845.5L1060.3 844L1060.8 842.5L1061.3 840.8L1061.8 839L1062.3 837.2L1062.8 835.3L1063.3 833.5L1063.8 831.6L1064.3 829.7L1064.8 827.7L1065.3 825.5L1065.8 823.3L1066.3 820.8L1066.8 818.1L1067.3 815.4L1067.8 812.4L1068.3 809.3L1068.6 826L1068.9 1000L1069.6 1206.5L1069.6 1206.5L1070.1 1203.9L1070.6 1201.2L1071.1 1198.5L1071.6 1195.7L1072.1 1192.6L1072.6 1189.3L1073.1 1186L1073.6 1182.8L1074.1 1179.9L1074.6 1177.5L1075.1 1175.5L1075.6 1173.6L1076.1 1171.9L1076.6 1170.3L1077.1 1168.7L1077.6 1167.3L1078.1 1165.9L1078.6 1164.5L1079.1 1163.2L1079.6 1161.8L1080.1 1160.4L1080.6 1159.1L1081.1 1157.7L1081.6 1156.3L1082.1 1155L1082.6 1153.8L1083.1 1152.6L1083.6 1151.5L1084.1 1150.5L1084.6 1149.6L1085.1 1148.8L1085.6 1148.2L1086.1 1147.6L1086.6 1146.9L1087.1 1146.4L1087.6 1145.8L1088.1 1145.3L1088.6 1144.8L1089.1 1144.3L1089.6 1143.8L1090.1 1143.4L1090.6 1143.1L1091.1 1142.7L1091.6 1142.4L1092.1 1142.2L1092.6 1142L1093.1 1141.8L1093.6 1141.6L1094.1 1141.5L1094.6 1141.4L1095.1 1141.2L1095.6 1141.1L1096.1 1141L1096.6 1140.9L1097.1 1140.8L1097.6 1140.7L1098.1 1140.6L1098.6 1140.6L1099.1 1140.5L1099.6 1140.5L1100.1 1140.4L1100.7 1140.4L1101.2 1140.4L1101.7 1140.4L1102.2 1140.4L1102.7 1140.4L1103.2 1140.4L1103.7 1140.5L1104.2 1140.5L1104.7 1140.5L1105.2 1140.5L1105.7 1140.6L1106.2 1140.6L1106.7 1140.6L1107.2 1140.7L1107.7 1140.7L1108.2 1140.7L1108.7 1140.8L1109.2 1140.8L1109.7 1140.9L1110.2 1141L1110.7 1141L1111.2 1141.1L1111.7 1141.2L1112.2 1141.3L1112.7 1141.5L1113.2 1141.6L1113.7 1141.7L1114.2 1141.8L1114.7 1142L1115.2 1142.1L1115.7 1142.3L1116.2 1142.4L1116.7 1142.6L1117.2 1142.7L1117.7 1142.8L1118.2 1143L1118.7 1143.1L1119.2 1143.3L1119.7 1143.4L1120.2 1143.6L1120.7 1143.7L1121.2 1143.9L1121.7 1144L1122.2 1144.2L1122.7 1144.4L1123.2 1144.5L1123.7 1144.7L1124.2 1144.9L1124.7 1145L1125.2 1145.2L1125.7 1145.4L1126.2 1145.6L1126.7 1145.7L1127.2 1145.9L1127.7 1146.1L1128.2 1146.2L1128.7 1146.4L1129.2 1146.6L1129.7 1146.7L1130.2 1146.9L1130.7 1147L1131.2 1147.2L1130.9 1147L1131.7 1005.5L1133.3 1147.8L1133 1147.8L1133.5 1148L1134 1148.2L1134.5 1148.3L1135 1148.5L1135.5 1148.7L1136 1148.9L1136.5 1149.1L1137 1149.3L1137.5 1149.5L1138 1149.7L1138.5 1149.9L1139 1150.1L1139.5 1150.4L1140 1150.6L1140.5 1150.8L1141 1151L1141.5 1151.3L1142 1151.5L1142.5 1151.7L1143 1152L1143.5 1152.2L1144 1152.4L1144.5 1152.7L1145 1152.9L1145.5 1153.2L1146 1153.5L1146.5 1153.7L1147 1154L1147.5 1154.3L1148 1154.6L1148.5 1154.9L1149 1155.1L1149.5 1155.4L1150 1155.7L1150.5 1156L1151 1156.3L1151.5 1156.6L1152 1156.9L1152.5 1157.3L1153 1157.6L1153.5 1157.9L1154 1158.2L1154.5 1158.5L1155 1158.8L1155.5 1159.1L1156 1159.4L1156.5 1159.8L1157 1160.1L1157.5 1160.4L1158 1160.7L1158.5 1161L1159 1161.4L1159.5 1161.7L1160 1162L1160.5 1162.4L1161 1162.7L1161.5 1163L1162 1163.4L1162.5 1163.7L1163 1164.1L1163.5 1164.4L1164 1164.7L1164.4 1165.1L1164.9 1165.4L1165.4 1165.8L1165.9 1166.1L1166.4 1166.5L1166.9 1166.8L1167.4 1167.2L1167.9 1167.5L1168.4 1167.9L1168.9 1168.3L1169.4 1168.6L1169.9 1169L1170.4 1169.4L1170.9 1169.7L1171.4 1170.1L1171.9 1170.5L1172.4 1170.8L1172.9 1171.2L1173.4 1171.6L1173.9 1172L1174.4 1172.4L1174.9 1172.7L1175.4 1173.1L1175.9 1173.5L1176.4 1173.9L1176.9 1174.2L1177.4 1174.6L1177.9 1175L1178.4 1175.4L1178.9 1175.7L1179.4 1176.1L1179.9 1176.5L1180.4 1176.9L1180.9 1177.2L1181.4 1177.6L1181.9 1178L1182.4 1178.3L1182.9 1178.7L1183.4 1179.1L1183.9 1179.5L1184.4 1179.8L1184.9 1180.2L1185.4 1180.6L1185.9 1180.9L1186.4 1181.3L1186.9 1181.7L1187.4 1182.1L1187.9 1182.5L1188.4 1182.9L1188.9 1183.2L1189.4 1183.6L1189.9 1184L1190.4 1184.4L1190.9 1184.8L1191.4 1185.2L1191.9 1185.6L1192.4 1186L1192.9 1186.4L1193.4 1186.8L1193.9 1187.2L1194.4 1187.6L1194.9 1188L1195.4 1188L1195.8 822.8L1199.6 826.5L1201.2 1006.5L1203 830L1203.2 830.3L1203.7 831L1204.2 831.7L1204.7 832.4L1205.2 833L1205.7 833.5L1206.2 834L1206.7 834.4L1207.2 834.9L1207.7 835.3L1208.2 835.6L1208.7 836L1209.2 836.2L1209.7 836.4L1210.1 836.5L1210.6 836.5L1211.1 836.5L1211.6 836.4L1212.1 836.4L1212.6 836.3L1213.1 836.2L1213.6 836.1L1214.1 836L1214.6 835.7L1215.1 835.4L1215.6 834.9L1216.1 834.4L1216.6 833.9L1217.1 833.4L1217.6 832.9L1218.1 832.4L1218.6 831.8L1219.1 831.3L1219.6 830.8L1220.1 830.4L1220.6 830L1221.1 829.7L1221.6 829.3L1222.1 829L1222.5 828.6L1223 828.3L1223.5 828.1L1224 827.9L1224.5 827.7L1225 827.6L1225.5 827.6L1226 827.6L1226.5 827.6L1227 827.6L1227.5 827.6L1228 827.6L1228.5 827.6L1229 827.6L1229.3 828L1229.6 1183.8L1229.8 1184.2L1230.3 1184.1L1230.8 1184.1L1231.3 1183.9L1231.8 1183.8L1232.3 1183.6L1232.8 1183.4L1233.3 1183.2L1233.8 1183L1234.3 1182.8L1234.8 1182.6L1235.2 1182.3L1235.7 1182L1236.2 1181.5L1236.7 1181.1L1237.2 1180.6L1237.7 1180.1L1238.2 1179.6L1238.7 1179.1L1239.2 1178.6L1239.7 1178.1L1240.2 1177.7L1240.7 1177.3L1241.2 1176.9L1241.7 1176.5L1242.2 1176.1L1242.7 1175.7L1243.2 1175.3L1243.7 1174.9L1244.2 1174.5L1244.7 1174.2L1245.2 1173.9L1245.6 1173.7L1246.1 1173.5L1246.6 1173.4L1247.1 1173.4L1247.6 1173.4L1248.1 1173.4L1248.6 1173.4L1249.1 1173.4L1249.6 1173.4L1250.1 1173.4L1250.6 1173.4L1251.9 1005.4L1252.9 1172.6L1254.7 1177.2L1258.5 1180.6L1259.6 832L1261.6 1006.2L1277.8 1006.2L1280.9 1017L1281.4 1016.4L1281.9 1015.8L1282.4 1015.1L1282.9 1014.5L1283.4 1013.8L1283.9 1013.1L1284.4 1012.4L1284.9 1011.7L1285.4 1010.9L1285.9 1010.2L1286.4 1009.4L1286.9 1008.5L1287.4 1007.7L1287.9 1006.8L1288.4 1005.9L1288.9 1005L1289.4 1004.2L1289.9 1003.4L1290.4 1002.6L1290.9 1001.8L1291.4 1001L1291.9 1000.2L1292.4 999.4L1292.9 998.7L1293.4 998L1293.9 997.5L1294.4 997.1L1294.9 996.8L1295.4 996.6L1295.9 996.3L1296.4 996.1L1296.9 995.9L1297.4 995.7L1297.9 995.6L1298.4 995.4L1298.9 995.3L1299.4 995.2L1299.9 995.2L1300.4 995.1L1300.9 995.1L1301.4 995.1L1301.9 995.1L1302.4 995.2L1302.9 995.3L1303.4 995.4L1303.9 995.5L1304.4 995.6L1304.9 995.7L1305.4 995.8L1305.9 996L1306.4 996.1L1306.9 996.3L1307.4 996.5L1307.9 996.8L1308.4 997.2L1308.9 997.6L1309.4 998L1309.9 998.4L1310.4 998.9L1310.9 999.4L1311.4 999.9L1311.9 1000.4L1312.4 1000.9L1312.9 1001.4L1313.4 1001.9L1313.9 1002.4L1314.4 1002.8L1314.9 1003.3L1315.4 1003.8L1315.9 1004.4L1316.4 1004.9L1316.9 1005.4L1317.4 1005.9L1317.9 1006.4L1318.4 1007L1318.9 1007.5L1319.4 1008L1319.9 1008.5L1320.4 1009L1320.9 1009.5L1321.4 1010.1L1321.9 1010.6L1322.4 1011.1L1322.9 1011.7L1323.4 1012.2L1323.9 1012.7L1324.4 1013.2L1324.9 1013.7L1325.4 1014.1L1325.9 1014.6L1326.4 1015L1326.9 1015.4L1327.4 1015.8L1327.9 1016.2L1328.4 1016.6L1328.9 1016.9L1329.4 1017.3L1329.9 1017.6L1330.4 1018L1330.9 1018.3L1331.4 1018.6L1331.9 1018.9L1332.4 1019.1L1332.9 1019.4L1333.4 1019.6L1333.9 1019.8L1334.4 1020L1334.9 1020.3L1335.4 1020.5L1335.9 1020.7L1336.4 1020.9L1336.9 1021.1L1337.4 1021.2L1337.9 1021.4L1338.4 1021.5L1338.9 1021.6L1339.4 1021.6L1339.9 1021.6L1340.4 1021.6L1340.9 1021.6L1341.4 1021.6L1341.9 1021.6L1342.4 1021.6L1342.9 1021.6L1343.4 1021.6L1343.9 1021.6L1344.4 1021.6L1344.9 1021.5L1345.4 1021.4L1345.9 1021.2L1346.4 1021L1346.9 1020.7L1347.4 1020.4L1347.9 1020.2L1348.4 1019.9L1348.9 1019.6L1349.4 1019.2L1349.9 1018.8L1350.4 1018.4L1350.9 1017.9L1351.4 1017.4L1352.5 1005.6L1353.6 1013.5L1354.1 1012.9L1354.6 1012.3L1355.1 1011.7L1355.6 1011.1L1356.1 1010.5L1356.6 1010L1357.1 1009.5L1357.6 1009L1358.1 1008.5L1358.6 1008L1359.1 1007.6L1359.6 1007.1L1360.1 1006.7L1360.6 1006.3L1361.1 1006L1361.6 1005.7L1362.1 1005.4L1362.6 1005.1L1363.1 1004.9L1363.6 1004.6L1364.1 1004.4L1364.6 1004.2L1365.1 1004L1365.6 1003.9L1366.1 1003.9L1366.6 1003.9L1367.1 1003.9L1367.6 1003.9L1368.1 1003.9L1368.6 1003.9L1369.1 1003.9L1369.6 1003.9L1370.1 1003.9L1370.6 1003.9L1371.1 1003.9L1371.6 1004L1372.1 1004.2L1372.6 1004.4L1373.1 1004.6L1373.6 1004.8L1374.1 1005L1374.6 1005.2L1375.1 1005.5L1375.6 1005.7L1376.1 1005.9L1376.6 1006L1377.1 1006.1L1377.6 1006.2L1378.1 1006.2L1378.6 1006.3L1379.1 1006.4L1379.6 1006.4L1380.1 1006.5L1380.6 1006.5L1381.1 1006.6L1381.6 1006.6L1382.1 1006.7L1382.6 1006.7L1383.1 1006.7L1383.6 1006.7L1384.1 1006.7L1384.6 1006.7L1385.1 1006.7L1385.6 1006.7L1386.1 1006.7L1386.6 1006.7L1387.1 1006.7L1387.6 1006.7L1388.1 1006.7L1388.6 1006.7L1389.1 1006.7L1389.5 1006.7L1390 1006.7L1390.5 1006.7L1391 1006.9L1391.5 1007.2L1392 1007.6L1392.5 1008L1393 1008.5L1393.5 1008.9L1394 1009.2L1394.5 1009.5L1395 1009.9L1395.5 1010.2L1396 1010.5L1396.5 1010.9L1397 1011.2L1397.5 1011.6L1398 1012L1398.5 1012.3L1399 1012.7L1399.5 1013.2L1400 1013.6L1400.5 1014.1L1401 1014.6L1401.5 1015.1L1402 1015.6L1402.5 1016.1L1403 1016.7L1403.5 1017.2L1404 1017.7L1404.5 1018.2L1405 1018.7L1405.5 1019.2L1406 1019.7L1406.5 1020.2L1407 1020.7L1407.5 1021.2L1408 1021.7L1408.5 1022.2L1409 1022.7L1409.5 1023.2L1410 1023.7L1410.5 1024.2L1411 1024.7L1411.5 1025.2L1412 1025.8L1412.5 1026.3L1413 1026.8L1413.5 1027.3L1414 1027.8L1414.5 1028.3L1415 1028.8L1415.5 1029.2L1416 1029.7L1416.5 1030.1L1417 1030.5L1417.5 1030.9L1418 1031.4L1418.5 1031.8L1419 1032.1L1419.5 1032.5L1420 1032.9L1420.5 1033.3L1421 1033.6L1421.5 1034L1422 1034.3L1422.5 1034.7L1423 1035L1423.5 1035.3L1424 1035.6L1424.5 1035.9L1425 1036.2L1425.5 1036.5L1425.5 1036.5L1426 1036.8L1426.5 1037.1L1427 1037.4L1427.5 1037.7L1428 1037.9L1428.5 1038.2L1429 1038.5L1429.5 1038.7L1430 1039L1430.5 1039.3L1431 1039.5L1431.5 1039.8L1432 1040L1432.5 1040.3L1433 1040.6L1433.5 1040.8L1434 1041L1434.5 1041.3L1435 1041.5L1435.5 1041.7L1436 1041.9L1436.5 1042.1L1437 1042.3L1437.5 1042.5L1438 1042.6L1438.5 1042.8L1439 1042.9L1439.5 1043.1L1440 1043.3L1440.5 1043.4L1441 1043.5L1441.5 1043.7L1442 1043.8L1442.5 1043.9L1443 1043.9L1443.5 1044L1444 1044L1444.5 1044L1445 1044L1445.5 1043.9L1446 1043.9L1446.5 1043.8L1447 1043.8L1447.5 1043.7L1448 1043.6L1448.5 1043.5L1449 1043.4L1449.5 1043.3L1450 1043.2L1450.5 1043.1L1451 1042.9L1451.5 1042.7L1452 1042.4L1452.5 1042.1L1453 1041.8L1453.5 1041.4L1454 1041L1454.5 1040.6L1455 1040.1L1455.5 1039.6L1456 1038.9L1456.5 1038.1L1457.1 1037.2L1457.6 1036.1L1458.1 1035.1L1458.6 1034L1459.1 1032.9L1459.6 1031.8L1460.1 1030.6L1460.6 1029.3L1461.1 1028L1461.6 1026.6L1462.1 1025.3L1462.6 1024L1463.1 1022.6L1463.6 1021.2L1464.1 1019.7L1464.6 1018.2L1465.1 1016.6L1465.6 1014.9L1466.1 1013.1L1466.6 1011.2L1467.1 1009.3L1467.6 1007.4L1468.1 1005.7L1468.6 1003.9L1469.1 1002.2L1469.6 1000.4L1470.1 998.5L1470.6 996.5L1471.1 994.1L1471.6 991.6L1472.1 989.3L1472.6 987.3L1473.1 985.7L1473.6 984.3L1474.1 983L1474.6 981.8L1475.1 980.6L1475.6 979.5L1476.1 978.4L1476.6 977.2L1477.1 976L1477.6 974.7L1478.1 973.4L1478.6 972.2L1479.1 971L1479.6 970L1480.1 969L1480.6 968.1L1481.1 967.3L1481.6 966.4L1482.1 965.6L1482.6 964.9L1483.1 964.1L1483.6 963.5L1484.1 962.9L1484.6 962.5L1485.1 962.1L1485.6 961.9L1486.1 961.6L1486.6 961.4L1487.1 961.2L1487.6 961L1488.1 960.9L1488.6 960.7L1489.1 960.6L1489.6 960.4L1490.1 960.3L1490.6 960.2L1491.1 960.1L1491.6 960L1492.1 959.9L1492.6 959.8L1493.1 959.7L1493.6 959.6L1494.1 959.5L1494.6 959.4L1495.1 959.3L1495.6 959.2L1496.1 959.1L1496.6 959L1497.1 958.9L1497.6 958.8L1498.1 958.8L1498.6 958.7L1499.1 958.6L1499.6 958.6L1500.1 958.5L1500.6 958.5L1501.1 958.4L1501.6 958.4L1502.1 958.4L1502.6 958.4L1503.1 958.4L1503.6 958.4L1504.1 958.5L1504.6 958.5L1505.1 958.5L1505.6 958.6L1506.1 958.6L1506.6 958.7L1507.1 958.7L1507.6 958.8L1508.1 958.9L1508.6 959L1509.1 959L1509.6 959.1L1510.1 959.2L1510.6 959.3L1511.1 959.4L1511.6 959.5L1512.1 959.6L1512.6 959.7L1513.1 959.8L1513.6 959.9L1514.1 960L1514.6 960L1515.1 960.1L1515.6 960.3L1516.1 960.4L1516.6 960.5L1517.1 960.6L1517.6 960.8L1518.1 960.9L1518.7 961.1L1519.2 961.2L1519.7 961.4L1520.2 961.6L1520.7 961.7L1521.2 961.9L1521.7 962.1L1522.2 962.3L1522.7 962.5L1523.2 962.7L1523.7 962.9L1524.2 963L1524.7 963.2L1525.2 963.4L1525.7 963.6L1526.2 963.8L1526.7 964L1527.2 964.2L1527.7 964.4L1528.2 964.6L1528.7 964.8L1529.2 964.9L1529.7 965.1L1530.2 965.3L1530.7 965.5L1531.2 965.6L1531.7 965.8L1532.2 966L1532.7 966.2L1533.2 966.3L1533.7 966.5L1534.2 966.7L1534.7 966.9L1535.2 967.1L1535.7 967.2L1536.2 967.4L1536.7 967.6L1537.2 967.8L1537.7 968L1538.2 968.2L1538.7 968.3L1539.2 968.5L1539.7 968.7L1540.2 968.9L1540.7 969.1L1541.2 969.3L1541.7 969.5L1542.2 969.7L1542.7 969.9L1543.2 970.1L1543.7 970.3L1544.2 970.6L1544.7 970.8L1545.2 971L1545.7 971.2L1546.2 971.4L1546.7 971.6L1547.2 971.9L1547.7 972.1L1548.2 972.3L1548.7 972.5L1549.2 972.8L1549.7 973M1567.5 977.6L1568 977.7L1568.5 977.9L1569 978L1569.5 978.1L1570 978.2L1570.5 978.4L1571 978.5L1571.5 978.6L1572 978.8L1572.5 978.9L1573 979.1L1573.5 979.2L1574 979.4L1574.5 979.5L1575 979.6L1575.5 979.8L1576 979.9L1576.5 980.1L1577 980.2L1577.5 980.4L1578 980.6L1578.5 980.7L1579 980.9L1579.5 981L1580 981.2L1580.5 981.3L1581 981.5L1581.5 981.6L1582 981.8L1582.5 981.9L1583 982.1L1583.5 982.2L1584 982.4L1584.5 982.5L1585 982.7L1585.5 982.8L1586 983L1586.5 983.2L1587 983.3L1587.5 983.5L1588 983.6L1588.5 983.8L1589 983.9L1589.5 984.1L1590 984.2L1590.5 984.4L1591 984.5L1591.5 984.7L1592 984.9L1592.5 985L1593 985.2L1593.5 985.3L1594 985.5L1594.5 985.6L1595 985.8L1595.4 986L1595.9 986.1L1596.4 986.3L1596.9 986.4L1597.4 986.6L1597.9 986.7L1598.4 986.9L1598.9 987.1L1599.4 987.2L1599.9 987.4L1600.4 987.5L1600.9 987.7L1601.4 987.9L1601.9 988L1602.4 988.2L1602.9 988.3L1603.4 988.5L1603.9 988.7L1604.4 988.8L1604.9 989L1605.4 989.1L1605.9 989.3L1606.4 989.4L1606.9 989.6L1607.4 989.7L1607.9 989.9L1608.4 990.1L1608.9 990.2L1609.4 990.4L1609.9 990.5L1610.4 990.7L1610.9 990.8L1611.4 991L1611.9 991.1L1612.4 991.3L1612.9 991.4L1613.4 991.6L1613.9 991.7L1614.4 991.9L1614.9 992.1L1615.4 992.2L1615.9 992.4L1616.4 992.5L1616.9 992.7L1617.4 992.8L1617.9 993L1618.4 993.2L1618.9 993.3L1619.4 993.5L1619.9 993.6L1620.4 993.8L1620.9 994L1621.4 994.1L1621.9 994.3L1622.4 994.4L1622.9 994.6" fill="none" stroke="#0000ff" stroke-width="4" stroke-linecap="round" stroke-linejoin="round" stroke-dasharray="1.6 15.4" stroke-dashoffset="9"/>
<path d="M1564.5 980.3L1564.7 981.3M1564.8 996.6L1565 998" fill="none" stroke="#0000ff" stroke-width="4" stroke-linecap="round" stroke-linejoin="round"/>
</g>
</g>
<g fill="none" stroke-width="3" stroke-linecap="butt">
<path d="M546 65H606" stroke="#ff0000"/>
<path d="M546 100.7h15M574.3 100.7h15" stroke="#00ff00"/>
<path d="M547.5 135.9h2M564.5 135.9h2M581.5 135.9h2M598.5 135.9h2" stroke="#0000ff" stroke-linecap="round"/>
</g>
<g font-family='"Liberation Sans", Arial, Helvetica, sans-serif' font-weight="700" font-size="25.8" fill="#000">
<text transform="translate(612 73.1) scale(0.965 1)">TE 0<tspan font-size="16.4" dy="-10.2">0</tspan></text>
<text transform="translate(612 107.9) scale(0.965 1)">TE 45<tspan font-size="16.4" dy="-10.2">0</tspan></text>
<text transform="translate(612 144) scale(0.965 1)">TE 90<tspan font-size="16.4" dy="-10.2">0</tspan></text>
</g>
<g transform="translate(582.4 195.6)">
<rect x="-39.3" y="-37.5" width="78.6" height="75" rx="0.8" fill="#fff" stroke="#b4b4b4" stroke-width="1.1"/>
<clipPath id="q1"><rect x="-45" y="-45" width="43.0" height="43.0"/></clipPath>
<g transform="scale(1.0480 1.0000)" fill="#ffff00" stroke="#55550a" stroke-width="0.55" stroke-linejoin="round">
<g transform="scale(1 1)"><g clip-path="url(#q1)"><path d="M0 -37.35A37.35 37.35 0 0 0 -37.35 0H-33.45A33.45 33.45 0 0 1 0 -33.45ZM0.00 -30.00A30.0 30.0 0 0 0 -30.00 0.00A46.17 46.17 0 0 0 0.00 -30.00ZM-5.33 -25.96A26.50 26.50 0 0 0 -25.96 -5.33A42.67 42.67 0 0 0 -5.33 -25.96Z" fill-rule="evenodd"/></g></g>
<g transform="scale(-1 1)"><g clip-path="url(#q1)"><path d="M0 -37.35A37.35 37.35 0 0 0 -37.35 0H-33.45A33.45 33.45 0 0 1 0 -33.45ZM0.00 -30.00A30.0 30.0 0 0 0 -30.00 0.00A46.17 46.17 0 0 0 0.00 -30.00ZM-5.33 -25.96A26.50 26.50 0 0 0 -25.96 -5.33A42.67 42.67 0 0 0 -5.33 -25.96Z" fill-rule="evenodd"/></g></g>
<g transform="scale(1 -1)"><g clip-path="url(#q1)"><path d="M0 -37.35A37.35 37.35 0 0 0 -37.35 0H-33.45A33.45 33.45 0 0 1 0 -33.45ZM0.00 -30.00A30.0 30.0 0 0 0 -30.00 0.00A46.17 46.17 0 0 0 0.00 -30.00ZM-5.33 -25.96A26.50 26.50 0 0 0 -25.96 -5.33A42.67 42.67 0 0 0 -5.33 -25.96Z" fill-rule="evenodd"/></g></g>
<g transform="scale(-1 -1)"><g clip-path="url(#q1)"><path d="M0 -37.35A37.35 37.35 0 0 0 -37.35 0H-33.45A33.45 33.45 0 0 1 0 -33.45ZM0.00 -30.00A30.0 30.0 0 0 0 -30.00 0.00A46.17 46.17 0 0 0 0.00 -30.00ZM-5.33 -25.96A26.50 26.50 0 0 0 -25.96 -5.33A42.67 42.67 0 0 0 -5.33 -25.96Z" fill-rule="evenodd"/></g></g>
<path d="M-1.9 -11.3h3.8v9.6h9.1v3.4h-9.1v9.6h-3.8v-9.6h-9.1v-3.4h9.1z"/>
</g></g>
<g fill="none" stroke-width="3" stroke-linecap="butt">
<path d="M1381 18H1441" stroke="#ff0000"/>
<path d="M1381 53.4h15M1409.3 53.4h15" stroke="#00ff00"/>
<path d="M1382.5 85.1h2M1399.5 85.1h2M1416.5 85.1h2M1433.5 85.1h2" stroke="#0000ff" stroke-linecap="round"/>
</g>
<g font-family='"Liberation Sans", Arial, Helvetica, sans-serif' font-weight="700" font-size="25.8" fill="#000">
<text transform="translate(1447.7 26.5) scale(0.965 1)">TE 0<tspan font-size="16.4" dy="-10.2">0</tspan></text>
<text transform="translate(1447.7 61.3) scale(0.965 1)">TE 45<tspan font-size="16.4" dy="-10.2">0</tspan></text>
<text transform="translate(1447.7 93.3) scale(0.965 1)">TE 90</text>
</g>
<g transform="translate(1326 53)">
<rect x="-39.6" y="-37.2" width="79.3" height="74.5" rx="0.8" fill="#fff" stroke="#b4b4b4" stroke-width="1.1"/>
<clipPath id="q2"><rect x="-45" y="-45" width="43.0" height="43.0"/></clipPath>
<g transform="scale(1.0573 0.9933)" fill="#ffff00" stroke="#55550a" stroke-width="0.55" stroke-linejoin="round">
<g transform="scale(1 1)"><g clip-path="url(#q2)"><path d="M0 -37.35A37.35 37.35 0 0 0 -37.35 0H-33.45A33.45 33.45 0 0 1 0 -33.45ZM0.00 -30.00A30.0 30.0 0 0 0 -30.00 0.00A46.17 46.17 0 0 0 0.00 -30.00ZM-5.33 -25.96A26.50 26.50 0 0 0 -25.96 -5.33A42.67 42.67 0 0 0 -5.33 -25.96Z" fill-rule="evenodd"/></g></g>
<g transform="scale(-1 1)"><g clip-path="url(#q2)"><path d="M0 -37.35A37.35 37.35 0 0 0 -37.35 0H-33.45A33.45 33.45 0 0 1 0 -33.45ZM0.00 -30.00A30.0 30.0 0 0 0 -30.00 0.00A46.17 46.17 0 0 0 0.00 -30.00ZM-5.33 -25.96A26.50 26.50 0 0 0 -25.96 -5.33A42.67 42.67 0 0 0 -5.33 -25.96Z" fill-rule="evenodd"/></g></g>
<g transform="scale(1 -1)"><g clip-path="url(#q2)"><path d="M0 -37.35A37.35 37.35 0 0 0 -37.35 0H-33.45A33.45 33.45 0 0 1 0 -33.45ZM0.00 -30.00A30.0 30.0 0 0 0 -30.00 0.00A46.17 46.17 0 0 0 0.00 -30.00ZM-5.33 -25.96A26.50 26.50 0 0 0 -25.96 -5.33A42.67 42.67 0 0 0 -5.33 -25.96Z" fill-rule="evenodd"/></g></g>
<g transform="scale(-1 -1)"><g clip-path="url(#q2)"><path d="M0 -37.35A37.35 37.35 0 0 0 -37.35 0H-33.45A33.45 33.45 0 0 1 0 -33.45ZM0.00 -30.00A30.0 30.0 0 0 0 -30.00 0.00A46.17 46.17 0 0 0 0.00 -30.00ZM-5.33 -25.96A26.50 26.50 0 0 0 -25.96 -5.33A42.67 42.67 0 0 0 -5.33 -25.96Z" fill-rule="evenodd"/></g></g>
<path d="M-1.9 -11.3h3.8v9.6h9.1v3.4h-9.1v9.6h-3.8v-9.6h-9.1v-3.4h9.1z"/>
</g></g>
<g fill="none" stroke-width="3" stroke-linecap="butt">
<path d="M551 777.9H611" stroke="#ff0000"/>
<path d="M551 814.2h15M579.3 814.2h15" stroke="#00ff00"/>
<path d="M552.5 849h2M569.5 849h2M586.5 849h2M603.5 849h2" stroke="#0000ff" stroke-linecap="round"/>
</g>
<g font-family='"Liberation Sans", Arial, Helvetica, sans-serif' font-weight="700" font-size="25.8" fill="#000">
<text transform="translate(617.7 786.3) scale(0.965 1)">TE 0<tspan font-size="16.4" dy="-10.2">0</tspan></text>
<text transform="translate(617.7 822.3) scale(0.965 1)">TE 45<tspan font-size="16.4" dy="-10.2">0</tspan></text>
<text transform="translate(617.7 857.6) scale(0.965 1)">TE 90<tspan font-size="16.4" dy="-10.2">0</tspan></text>
</g>
<g transform="translate(499.6 808.8)">
<rect x="-39.4" y="-37.4" width="78.8" height="74.8" rx="0.8" fill="#fff" stroke="#b4b4b4" stroke-width="1.1"/>
<clipPath id="q3"><rect x="-45" y="-45" width="43.0" height="43.0"/></clipPath>
<g transform="scale(1.0507 0.9973)" fill="#ffff00" stroke="#55550a" stroke-width="0.55" stroke-linejoin="round">
<g transform="scale(1 1)"><g clip-path="url(#q3)"><path d="M0 -37.35A37.35 37.35 0 0 0 -37.35 0H-33.45A33.45 33.45 0 0 1 0 -33.45ZM0.00 -30.00A30.0 30.0 0 0 0 -30.00 0.00A46.17 46.17 0 0 0 0.00 -30.00ZM-5.33 -25.96A26.50 26.50 0 0 0 -25.96 -5.33A42.67 42.67 0 0 0 -5.33 -25.96Z" fill-rule="evenodd"/></g></g>
<g transform="scale(-1 1)"><g clip-path="url(#q3)"><path d="M0 -37.35A37.35 37.35 0 0 0 -37.35 0H-33.45A33.45 33.45 0 0 1 0 -33.45ZM0.00 -30.00A30.0 30.0 0 0 0 -30.00 0.00A46.17 46.17 0 0 0 0.00 -30.00ZM-5.33 -25.96A26.50 26.50 0 0 0 -25.96 -5.33A42.67 42.67 0 0 0 -5.33 -25.96Z" fill-rule="evenodd"/></g></g>
<g transform="scale(1 -1)"><g clip-path="url(#q3)"><path d="M0 -37.35A37.35 37.35 0 0 0 -37.35 0H-33.45A33.45 33.45 0 0 1 0 -33.45ZM0.00 -30.00A30.0 30.0 0 0 0 -30.00 0.00A46.17 46.17 0 0 0 0.00 -30.00ZM-5.33 -25.96A26.50 26.50 0 0 0 -25.96 -5.33A42.67 42.67 0 0 0 -5.33 -25.96Z" fill-rule="evenodd"/></g></g>
<g transform="scale(-1 -1)"><g clip-path="url(#q3)"><path d="M0 -37.35A37.35 37.35 0 0 0 -37.35 0H-33.45A33.45 33.45 0 0 1 0 -33.45ZM0.00 -30.00A30.0 30.0 0 0 0 -30.00 0.00A46.17 46.17 0 0 0 0.00 -30.00ZM-5.33 -25.96A26.50 26.50 0 0 0 -25.96 -5.33A42.67 42.67 0 0 0 -5.33 -25.96Z" fill-rule="evenodd"/></g></g>
<path d="M-1.9 -11.3h3.8v9.6h9.1v3.4h-9.1v9.6h-3.8v-9.6h-9.1v-3.4h9.1z"/>
</g></g>
<g fill="none" stroke-width="4" stroke-linecap="round">
<path d="M1423.8 803.8H1481.1" stroke="#ff0000"/>
<path d="M1423.8 839h11.9M1453 839h11.9" stroke="#00ff00"/>
<path d="M1423.8 874.5h1.8M1441 874.5h1.8M1458.2 874.5h1.8M1475.4 874.5h1.8" stroke="#0000ff" stroke-linecap="round"/>
</g>
<g font-family='"Liberation Sans", Arial, Helvetica, sans-serif' font-weight="700" font-size="25.8" fill="#000">
<text transform="translate(1489.5 812.7) scale(0.965 1)">TE 0<tspan font-size="16.4" dy="-10.2">0</tspan></text>
<text transform="translate(1489.5 847.6) scale(0.965 1)">TE 45<tspan font-size="16.4" dy="-10.2">0</tspan></text>
<text transform="translate(1489.5 882.8) scale(0.965 1)">TE 90<tspan font-size="16.4" dy="-10.2">0</tspan></text>
</g>
</svg></body></html>
